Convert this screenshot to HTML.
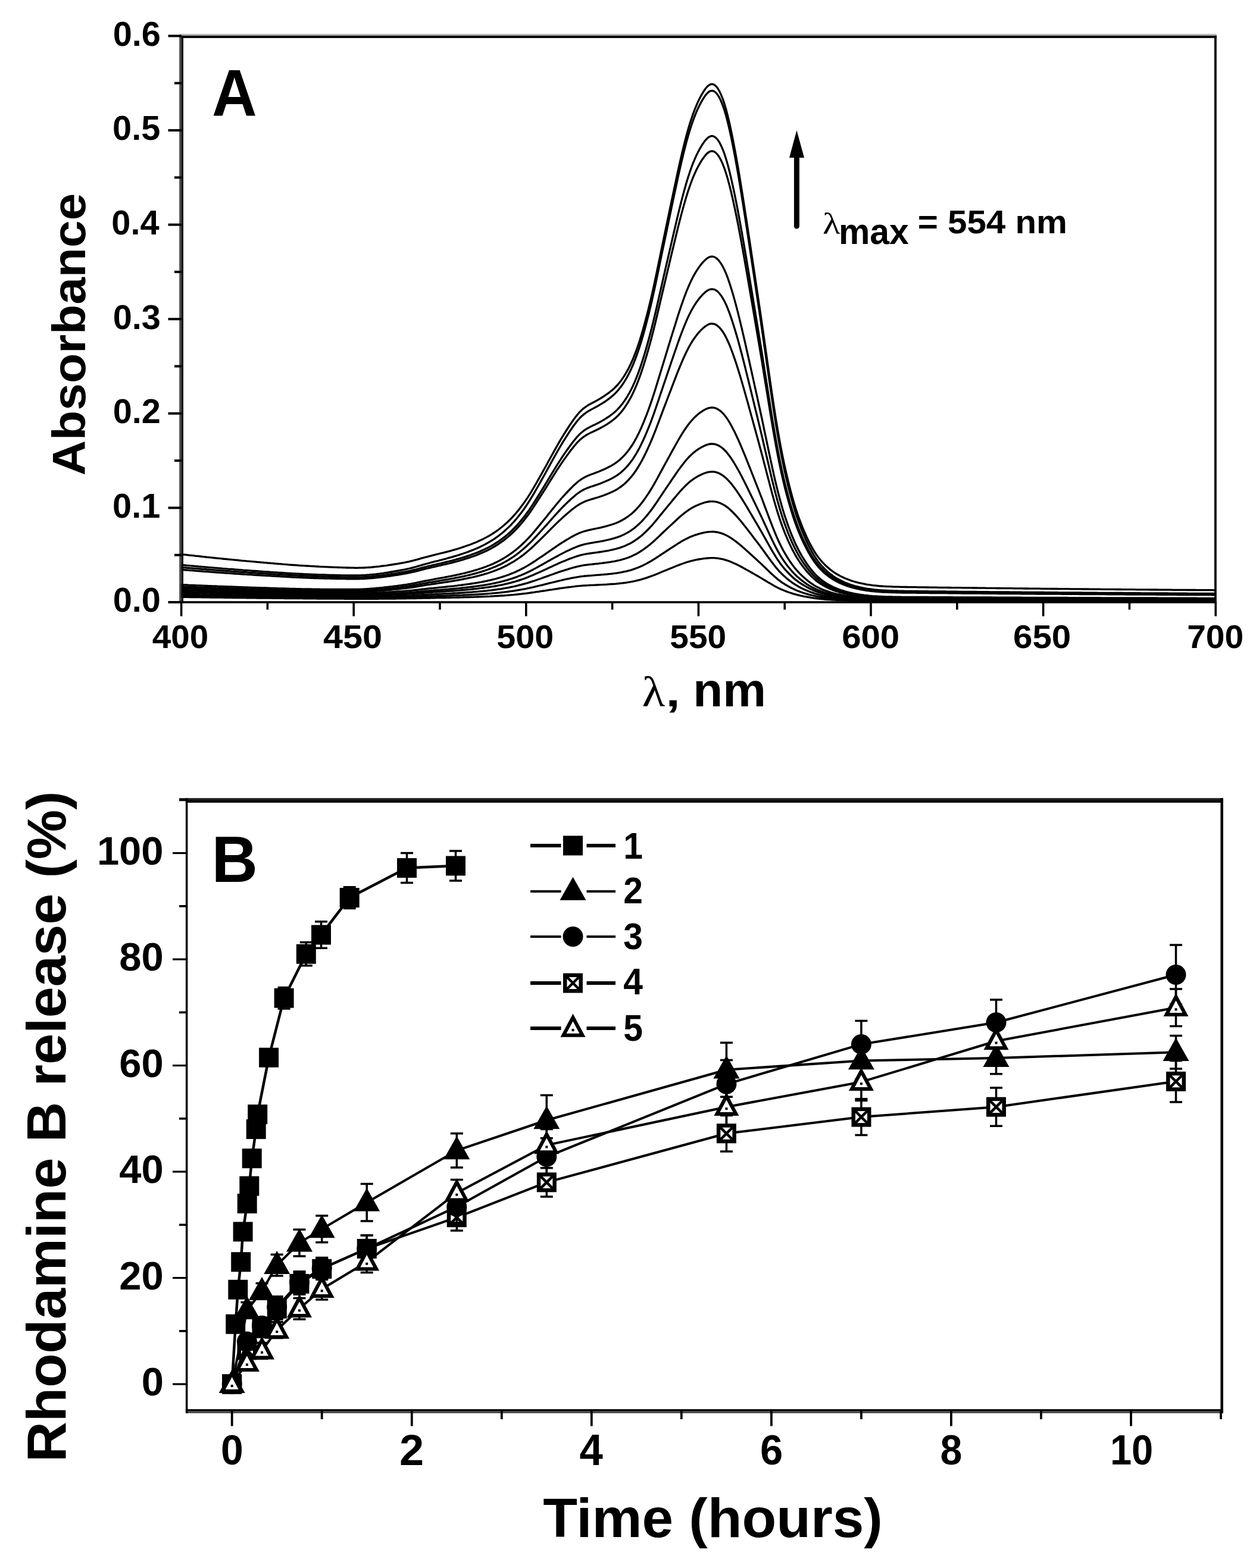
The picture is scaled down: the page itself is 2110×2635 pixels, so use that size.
<!DOCTYPE html>
<html><head><meta charset="utf-8"><title>Rhodamine B absorbance and release</title>
<style>
html,body{margin:0;padding:0;background:#fff;}
svg{display:block;}
text{font-family:"Liberation Sans", Arial, sans-serif;font-weight:bold;fill:#000;}
.fs{font-size:100px;}
.gr{font-family:"Liberation Serif", "Times New Roman", serif;font-weight:normal;font-size:100px;}
</style></head>
<body>
<svg width="2110" height="2635" viewBox="0 0 2110 2635">
<rect width="2110" height="2635" fill="#fff"/>
<rect x="301.2" y="56.9" width="1742.6" height="3.0" fill="#b8b8b8"/>
<rect x="301.2" y="59.9" width="1742.6" height="4.0" fill="#000"/>
<rect x="301.2" y="1010.2" width="1742.6" height="3.6" fill="#000"/>
<rect x="301.2" y="59.9" width="3.6" height="953.9" fill="#474747"/>
<rect x="304.8" y="59.9" width="3.2" height="953.9" fill="#000"/>
<rect x="2040.0" y="59.9" width="3.8" height="953.9" fill="#000"/>
<line x1="282.5" y1="1012.0" x2="304.6" y2="1012.0" stroke="#000" stroke-width="4"/>
<text transform="matrix(0.57727,0,0,0.57746,189.67,1028.42)" class="fs">0.0</text>
<line x1="293" y1="932.7" x2="304.6" y2="932.7" stroke="#000" stroke-width="4"/>
<line x1="282.5" y1="853.4" x2="304.6" y2="853.4" stroke="#000" stroke-width="4"/>
<text transform="matrix(0.57727,0,0,0.57746,189.09,869.82)" class="fs">0.1</text>
<line x1="293" y1="774.1" x2="304.6" y2="774.1" stroke="#000" stroke-width="4"/>
<line x1="282.5" y1="694.8" x2="304.6" y2="694.8" stroke="#000" stroke-width="4"/>
<text transform="matrix(0.57727,0,0,0.57746,189.67,711.22)" class="fs">0.2</text>
<line x1="293" y1="615.5" x2="304.6" y2="615.5" stroke="#000" stroke-width="4"/>
<line x1="282.5" y1="536.2" x2="304.6" y2="536.2" stroke="#000" stroke-width="4"/>
<text transform="matrix(0.57727,0,0,0.57746,189.67,552.62)" class="fs">0.3</text>
<line x1="293" y1="456.9" x2="304.6" y2="456.9" stroke="#000" stroke-width="4"/>
<line x1="282.5" y1="377.6" x2="304.6" y2="377.6" stroke="#000" stroke-width="4"/>
<text transform="matrix(0.57727,0,0,0.57746,187.36,394.02)" class="fs">0.4</text>
<line x1="293" y1="298.3" x2="304.6" y2="298.3" stroke="#000" stroke-width="4"/>
<line x1="282.5" y1="219.0" x2="304.6" y2="219.0" stroke="#000" stroke-width="4"/>
<text transform="matrix(0.57727,0,0,0.57746,189.09,235.42)" class="fs">0.5</text>
<line x1="293" y1="139.7" x2="304.6" y2="139.7" stroke="#000" stroke-width="4"/>
<line x1="282.5" y1="60.4" x2="304.6" y2="60.4" stroke="#000" stroke-width="4"/>
<text transform="matrix(0.57727,0,0,0.57746,189.67,76.82)" class="fs">0.6</text>
<line x1="304.6" y1="1012" x2="304.6" y2="1035.5" stroke="#000" stroke-width="3.6"/>
<text transform="matrix(0.56522,0,0,0.55634,255.87,1088.94)" class="fs">400</text>
<line x1="449.4" y1="1012" x2="449.4" y2="1024.5" stroke="#000" stroke-width="3.6"/>
<line x1="594.2" y1="1012" x2="594.2" y2="1035.5" stroke="#000" stroke-width="3.6"/>
<text transform="matrix(0.59379,0,0,0.55634,543.01,1088.94)" class="fs">450</text>
<line x1="739.0" y1="1012" x2="739.0" y2="1024.5" stroke="#000" stroke-width="3.6"/>
<line x1="883.8" y1="1012" x2="883.8" y2="1035.5" stroke="#000" stroke-width="3.6"/>
<text transform="matrix(0.57437,0,0,0.55634,834.28,1088.94)" class="fs">500</text>
<line x1="1028.6" y1="1012" x2="1028.6" y2="1024.5" stroke="#000" stroke-width="3.6"/>
<line x1="1173.4" y1="1012" x2="1173.4" y2="1035.5" stroke="#000" stroke-width="3.6"/>
<text transform="matrix(0.56875,0,0,0.55634,1125.29,1088.94)" class="fs">550</text>
<line x1="1318.2" y1="1012" x2="1318.2" y2="1024.5" stroke="#000" stroke-width="3.6"/>
<line x1="1463.0" y1="1012" x2="1463.0" y2="1035.5" stroke="#000" stroke-width="3.6"/>
<text transform="matrix(0.58176,0,0,0.55634,1414.17,1088.94)" class="fs">600</text>
<line x1="1607.8" y1="1012" x2="1607.8" y2="1024.5" stroke="#000" stroke-width="3.6"/>
<line x1="1752.6" y1="1012" x2="1752.6" y2="1035.5" stroke="#000" stroke-width="3.6"/>
<text transform="matrix(0.58239,0,0,0.55634,1702.07,1088.94)" class="fs">650</text>
<line x1="1897.4" y1="1012" x2="1897.4" y2="1024.5" stroke="#000" stroke-width="3.6"/>
<line x1="2042.2" y1="1012" x2="2042.2" y2="1035.5" stroke="#000" stroke-width="3.6"/>
<text transform="matrix(0.56918,0,0,0.55634,1994.22,1088.94)" class="fs">700</text>
<polyline points="304.6,931.4 307.5,931.8 310.4,932.1 313.3,932.4 316.2,932.8 319.1,933.1 322.0,933.4 324.9,933.7 327.8,934.1 330.7,934.4 333.6,934.7 336.5,935.0 339.4,935.3 342.2,935.7 345.1,936.0 348.0,936.3 350.9,936.6 353.8,936.9 356.7,937.2 359.6,937.5 362.5,937.8 365.4,938.1 368.3,938.4 371.2,938.7 374.1,939.0 377.0,939.3 379.9,939.5 382.8,939.8 385.7,940.1 388.6,940.4 391.5,940.7 394.4,941.0 397.3,941.2 400.2,941.5 403.1,941.8 406.0,942.1 408.9,942.3 411.8,942.6 414.6,942.9 417.5,943.1 420.4,943.4 423.3,943.7 426.2,943.9 429.1,944.2 432.0,944.5 434.9,944.7 437.8,945.0 440.7,945.2 443.6,945.5 446.5,945.7 449.4,946.0 452.3,946.2 455.2,946.5 458.1,946.7 461.0,947.0 463.9,947.2 466.8,947.5 469.7,947.7 472.6,947.9 475.5,948.2 478.4,948.4 481.3,948.6 484.2,948.9 487.0,949.1 489.9,949.3 492.8,949.5 495.7,949.7 498.6,949.9 501.5,950.1 504.4,950.3 507.3,950.5 510.2,950.7 513.1,950.9 516.0,951.0 518.9,951.2 521.8,951.4 524.7,951.5 527.6,951.7 530.5,951.9 533.4,952.0 536.3,952.2 539.2,952.3 542.1,952.4 545.0,952.6 547.9,952.7 550.8,952.8 553.7,952.9 556.6,953.1 559.4,953.2 562.3,953.3 565.2,953.4 568.1,953.5 571.0,953.6 573.9,953.7 576.8,953.8 579.7,953.9 582.6,954.0 585.5,954.0 588.4,954.1 591.3,954.2 594.2,954.2 597.1,954.3 600.0,954.3 602.9,954.2 605.8,954.2 608.7,954.1 611.6,954.0 614.5,953.9 617.4,953.7 620.3,953.5 623.2,953.3 626.1,953.0 629.0,952.7 631.8,952.4 634.7,952.1 637.6,951.8 640.5,951.4 643.4,951.0 646.3,950.7 649.2,950.3 652.1,949.8 655.0,949.4 657.9,949.0 660.8,948.5 663.7,948.0 666.6,947.6 669.5,947.1 672.4,946.6 675.3,946.1 678.2,945.6 681.1,945.0 684.0,944.4 686.9,943.8 689.8,943.1 692.7,942.4 695.6,941.7 698.5,940.9 701.4,940.1 704.2,939.3 707.1,938.4 710.0,937.6 712.9,936.8 715.8,936.1 718.7,935.3 721.6,934.6 724.5,933.8 727.4,933.1 730.3,932.4 733.2,931.7 736.1,931.0 739.0,930.2 741.9,929.5 744.8,928.8 747.7,928.1 750.6,927.3 753.5,926.6 756.4,925.8 759.3,925.0 762.2,924.2 765.1,923.3 768.0,922.5 770.9,921.6 773.8,920.7 776.6,919.7 779.5,918.8 782.4,917.8 785.3,916.8 788.2,915.7 791.1,914.7 794.0,913.5 796.9,912.4 799.8,911.2 802.7,909.9 805.6,908.6 808.5,907.3 811.4,905.9 814.3,904.4 817.2,902.9 820.1,901.3 823.0,899.6 825.9,897.8 828.8,896.0 831.7,894.1 834.6,892.1 837.5,890.0 840.4,887.8 843.3,885.5 846.2,883.1 849.0,880.6 851.9,878.0 854.8,875.2 857.7,872.3 860.6,869.3 863.5,866.1 866.4,862.8 869.3,859.4 872.2,855.8 875.1,852.0 878.0,848.1 880.9,844.1 883.8,839.9 886.7,835.6 889.6,831.1 892.5,826.4 895.4,821.5 898.3,816.6 901.2,811.5 904.1,806.4 907.0,801.3 909.9,796.1 912.8,790.9 915.7,785.7 918.6,780.5 921.4,775.3 924.3,770.0 927.2,764.8 930.1,759.6 933.0,754.4 935.9,749.2 938.8,744.2 941.7,739.2 944.6,734.4 947.5,729.6 950.4,725.0 953.3,720.5 956.2,716.0 959.1,711.7 962.0,707.5 964.9,703.4 967.8,699.6 970.7,696.0 973.6,692.7 976.5,689.8 979.4,687.1 982.3,684.8 985.2,682.8 988.1,680.9 991.0,679.2 993.8,677.7 996.7,676.2 999.6,674.7 1002.5,673.1 1005.4,671.5 1008.3,669.8 1011.2,668.0 1014.1,666.2 1017.0,664.2 1019.9,662.2 1022.8,660.1 1025.7,657.8 1028.6,655.4 1031.5,652.9 1034.4,650.0 1037.3,647.0 1040.2,643.6 1043.1,639.9 1046.0,635.8 1048.9,631.4 1051.8,626.6 1054.7,621.4 1057.6,615.7 1060.5,609.7 1063.4,603.2 1066.2,596.1 1069.1,588.5 1072.0,580.2 1074.9,571.4 1077.8,562.0 1080.7,552.0 1083.6,541.5 1086.5,530.5 1089.4,519.1 1092.3,507.2 1095.2,494.8 1098.1,481.8 1101.0,468.4 1103.9,454.6 1106.8,440.6 1109.7,426.6 1112.6,412.5 1115.5,398.6 1118.4,384.7 1121.3,370.8 1124.2,357.0 1127.1,343.1 1130.0,329.3 1132.9,315.6 1135.8,302.1 1138.6,288.8 1141.5,275.8 1144.4,263.1 1147.3,250.8 1150.2,239.1 1153.1,228.0 1156.0,217.5 1158.9,207.7 1161.8,198.7 1164.7,190.4 1167.6,182.8 1170.5,175.8 1173.4,169.4 1176.3,163.6 1179.2,158.3 1182.1,153.5 1185.0,149.3 1187.9,145.8 1190.8,143.2 1193.7,141.7 1196.6,141.3 1199.5,142.2 1202.4,144.4 1205.3,147.8 1208.2,152.5 1211.0,158.4 1213.9,165.5 1216.8,173.9 1219.7,183.7 1222.6,194.8 1225.5,207.1 1228.4,220.5 1231.3,234.8 1234.2,250.0 1237.1,265.8 1240.0,282.4 1242.9,299.6 1245.8,317.5 1248.7,335.8 1251.6,354.4 1254.5,373.3 1257.4,392.4 1260.3,411.6 1263.2,430.9 1266.1,450.3 1269.0,469.6 1271.9,489.0 1274.8,508.4 1277.7,527.9 1280.6,547.7 1283.4,567.6 1286.3,587.8 1289.2,608.2 1292.1,628.6 1295.0,648.7 1297.9,668.4 1300.8,687.4 1303.7,705.7 1306.6,723.1 1309.5,739.6 1312.4,755.1 1315.3,769.6 1318.2,783.3 1321.1,796.2 1324.0,808.5 1326.9,820.0 1329.8,830.9 1332.7,841.3 1335.6,850.9 1338.5,860.0 1341.4,868.5 1344.3,876.4 1347.2,883.9 1350.1,890.9 1353.0,897.5 1355.8,903.8 1358.7,909.8 1361.6,915.4 1364.5,920.7 1367.4,925.6 1370.3,930.2 1373.2,934.4 1376.1,938.3 1379.0,941.8 1381.9,945.1 1384.8,948.2 1387.7,951.0 1390.6,953.6 1393.5,956.1 1396.4,958.4 1399.3,960.5 1402.2,962.5 1405.1,964.3 1408.0,966.0 1410.9,967.6 1413.8,969.1 1416.7,970.4 1419.6,971.7 1422.5,972.9 1425.4,974.0 1428.2,975.1 1431.1,976.1 1434.0,977.0 1436.9,977.9 1439.8,978.7 1442.7,979.4 1445.6,980.0 1448.5,980.7 1451.4,981.2 1454.3,981.8 1457.2,982.3 1460.1,982.7 1463.0,983.2 1465.9,983.6 1468.8,983.9 1471.7,984.2 1474.6,984.5 1477.5,984.8 1480.4,985.0 1483.3,985.2 1486.2,985.3 1489.1,985.5 1492.0,985.6 1494.9,985.7 1497.8,985.8 1500.6,986.0 1503.5,986.1 1506.4,986.1 1509.3,986.2 1512.2,986.3 1515.1,986.4 1518.0,986.4 1520.9,986.5 1523.8,986.5 1526.7,986.6 1529.6,986.6 1532.5,986.7 1535.4,986.7 1538.3,986.7 1541.2,986.8 1544.1,986.8 1547.0,986.9 1549.9,986.9 1552.8,986.9 1555.7,987.0 1558.6,987.0 1561.5,987.1 1564.4,987.1 1567.3,987.1 1570.2,987.2 1573.0,987.2 1575.9,987.3 1578.8,987.3 1581.7,987.3 1584.6,987.4 1587.5,987.4 1590.4,987.4 1593.3,987.5 1596.2,987.5 1599.1,987.6 1602.0,987.6 1604.9,987.6 1607.8,987.7 1610.7,987.7 1613.6,987.7 1616.5,987.8 1619.4,987.8 1622.3,987.8 1625.2,987.9 1628.1,987.9 1631.0,987.9 1633.9,988.0 1636.8,988.0 1639.7,988.0 1642.6,988.1 1645.4,988.1 1648.3,988.2 1651.2,988.2 1654.1,988.2 1657.0,988.3 1659.9,988.3 1662.8,988.3 1665.7,988.4 1668.6,988.4 1671.5,988.4 1674.4,988.5 1677.3,988.5 1680.2,988.5 1683.1,988.6 1686.0,988.6 1688.9,988.6 1691.8,988.7 1694.7,988.7 1697.6,988.7 1700.5,988.7 1703.4,988.8 1706.3,988.8 1709.2,988.8 1712.1,988.9 1715.0,988.9 1717.8,988.9 1720.7,989.0 1723.6,989.0 1726.5,989.0 1729.4,989.1 1732.3,989.1 1735.2,989.1 1738.1,989.2 1741.0,989.2 1743.9,989.2 1746.8,989.2 1749.7,989.3 1752.6,989.3 1755.5,989.3 1758.4,989.4 1761.3,989.4 1764.2,989.4 1767.1,989.5 1770.0,989.5 1772.9,989.5 1775.8,989.5 1778.7,989.6 1781.6,989.6 1784.5,989.6 1787.4,989.7 1790.2,989.7 1793.1,989.7 1796.0,989.7 1798.9,989.8 1801.8,989.8 1804.7,989.8 1807.6,989.9 1810.5,989.9 1813.4,989.9 1816.3,989.9 1819.2,990.0 1822.1,990.0 1825.0,990.0 1827.9,990.0 1830.8,990.1 1833.7,990.1 1836.6,990.1 1839.5,990.2 1842.4,990.2 1845.3,990.2 1848.2,990.2 1851.1,990.3 1854.0,990.3 1856.9,990.3 1859.8,990.3 1862.6,990.4 1865.5,990.4 1868.4,990.4 1871.3,990.4 1874.2,990.5 1877.1,990.5 1880.0,990.5 1882.9,990.5 1885.8,990.6 1888.7,990.6 1891.6,990.6 1894.5,990.6 1897.4,990.7 1900.3,990.7 1903.2,990.7 1906.1,990.7 1909.0,990.8 1911.9,990.8 1914.8,990.8 1917.7,990.8 1920.6,990.9 1923.5,990.9 1926.4,990.9 1929.3,990.9 1932.2,991.0 1935.0,991.0 1937.9,991.0 1940.8,991.0 1943.7,991.0 1946.6,991.1 1949.5,991.1 1952.4,991.1 1955.3,991.1 1958.2,991.2 1961.1,991.2 1964.0,991.2 1966.9,991.2 1969.8,991.3 1972.7,991.3 1975.6,991.3 1978.5,991.3 1981.4,991.3 1984.3,991.4 1987.2,991.4 1990.1,991.4 1993.0,991.4 1995.9,991.5 1998.8,991.5 2001.7,991.5 2004.6,991.5 2007.4,991.5 2010.3,991.6 2013.2,991.6 2016.1,991.6 2019.0,991.6 2021.9,991.6 2024.8,991.7 2027.7,991.7 2030.6,991.7 2033.5,991.7 2036.4,991.7 2039.3,991.8 2042.2,991.8" fill="none" stroke="#000" stroke-width="3.3" stroke-linejoin="round"/>
<polyline points="304.6,949.4 307.5,949.6 310.4,949.9 313.3,950.2 316.2,950.4 319.1,950.7 322.0,950.9 324.9,951.2 327.8,951.5 330.7,951.7 333.6,952.0 336.5,952.2 339.4,952.5 342.2,952.7 345.1,953.0 348.0,953.2 350.9,953.5 353.8,953.7 356.7,953.9 359.6,954.2 362.5,954.4 365.4,954.7 368.3,954.9 371.2,955.1 374.1,955.4 377.0,955.6 379.9,955.8 382.8,956.1 385.7,956.3 388.6,956.5 391.5,956.7 394.4,957.0 397.3,957.2 400.2,957.4 403.1,957.6 406.0,957.8 408.9,958.1 411.8,958.3 414.6,958.5 417.5,958.7 420.4,958.9 423.3,959.1 426.2,959.3 429.1,959.5 432.0,959.7 434.9,960.0 437.8,960.2 440.7,960.4 443.6,960.6 446.5,960.8 449.4,961.0 452.3,961.2 455.2,961.4 458.1,961.6 461.0,961.8 463.9,961.9 466.8,962.1 469.7,962.3 472.6,962.5 475.5,962.7 478.4,962.9 481.3,963.1 484.2,963.3 487.0,963.4 489.9,963.6 492.8,963.8 495.7,963.9 498.6,964.1 501.5,964.2 504.4,964.4 507.3,964.5 510.2,964.7 513.1,964.8 516.0,964.9 518.9,965.1 521.8,965.2 524.7,965.3 527.6,965.4 530.5,965.5 533.4,965.7 536.3,965.8 539.2,965.9 542.1,965.9 545.0,966.0 547.9,966.1 550.8,966.2 553.7,966.3 556.6,966.4 559.4,966.4 562.3,966.5 565.2,966.6 568.1,966.7 571.0,966.7 573.9,966.8 576.8,966.8 579.7,966.9 582.6,966.9 585.5,967.0 588.4,967.0 591.3,967.0 594.2,967.0 597.1,967.0 600.0,967.0 602.9,966.9 605.8,966.8 608.7,966.7 611.6,966.6 614.5,966.4 617.4,966.2 620.3,966.0 623.2,965.7 626.1,965.4 629.0,965.1 631.8,964.8 634.7,964.4 637.6,964.1 640.5,963.7 643.4,963.3 646.3,962.8 649.2,962.4 652.1,962.0 655.0,961.5 657.9,961.0 660.8,960.5 663.7,960.0 666.6,959.5 669.5,959.0 672.4,958.5 675.3,958.0 678.2,957.4 681.1,956.8 684.0,956.2 686.9,955.5 689.8,954.9 692.7,954.1 695.6,953.3 698.5,952.5 701.4,951.7 704.2,950.9 707.1,950.0 710.0,949.2 712.9,948.4 715.8,947.5 718.7,946.8 721.6,946.0 724.5,945.2 727.4,944.5 730.3,943.7 733.2,943.0 736.1,942.3 739.0,941.5 741.9,940.8 744.8,940.0 747.7,939.3 750.6,938.5 753.5,937.7 756.4,936.9 759.3,936.1 762.2,935.2 765.1,934.4 768.0,933.5 770.9,932.6 773.8,931.6 776.6,930.7 779.5,929.7 782.4,928.7 785.3,927.7 788.2,926.6 791.1,925.5 794.0,924.4 796.9,923.2 799.8,922.0 802.7,920.7 805.6,919.4 808.5,918.0 811.4,916.6 814.3,915.1 817.2,913.5 820.1,911.9 823.0,910.2 825.9,908.4 828.8,906.6 831.7,904.7 834.6,902.6 837.5,900.5 840.4,898.3 843.3,896.0 846.2,893.6 849.0,891.1 851.9,888.4 854.8,885.7 857.7,882.8 860.6,879.7 863.5,876.6 866.4,873.2 869.3,869.8 872.2,866.1 875.1,862.4 878.0,858.5 880.9,854.5 883.8,850.3 886.7,845.9 889.6,841.4 892.5,836.7 895.4,831.9 898.3,826.9 901.2,821.8 904.1,816.7 907.0,811.6 909.9,806.4 912.8,801.2 915.7,796.1 918.6,790.8 921.4,785.6 924.3,780.4 927.2,775.1 930.1,769.9 933.0,764.7 935.9,759.5 938.8,754.5 941.7,749.5 944.6,744.7 947.5,739.9 950.4,735.3 953.3,730.8 956.2,726.3 959.1,722.0 962.0,717.8 964.9,713.7 967.8,709.9 970.7,706.3 973.6,703.0 976.5,700.0 979.4,697.4 982.3,695.1 985.2,693.0 988.1,691.1 991.0,689.5 993.8,687.9 996.7,686.4 999.6,684.8 1002.5,683.3 1005.4,681.6 1008.3,679.9 1011.2,678.2 1014.1,676.3 1017.0,674.3 1019.9,672.3 1022.8,670.2 1025.7,667.9 1028.6,665.5 1031.5,662.9 1034.4,660.1 1037.3,657.0 1040.2,653.6 1043.1,649.9 1046.0,645.8 1048.9,641.4 1051.8,636.6 1054.7,631.4 1057.6,625.8 1060.5,619.7 1063.4,613.2 1066.2,606.2 1069.1,598.5 1072.0,590.3 1074.9,581.5 1077.8,572.1 1080.7,562.2 1083.6,551.7 1086.5,540.7 1089.4,529.3 1092.3,517.4 1095.2,505.1 1098.1,492.2 1101.0,478.8 1103.9,465.0 1106.8,451.1 1109.7,437.0 1112.6,423.0 1115.5,409.1 1118.4,395.3 1121.3,381.5 1124.2,367.6 1127.1,353.8 1130.0,340.0 1132.9,326.4 1135.8,312.9 1138.6,299.6 1141.5,286.6 1144.4,274.0 1147.3,261.8 1150.2,250.1 1153.1,238.9 1156.0,228.5 1158.9,218.8 1161.8,209.7 1164.7,201.5 1167.6,193.8 1170.5,186.9 1173.4,180.5 1176.3,174.7 1179.2,169.4 1182.1,164.6 1185.0,160.4 1187.9,157.0 1190.8,154.3 1193.7,152.8 1196.6,152.4 1199.5,153.3 1202.4,155.5 1205.3,158.9 1208.2,163.5 1211.0,169.3 1213.9,176.4 1216.8,184.8 1219.7,194.5 1222.6,205.6 1225.5,217.9 1228.4,231.2 1231.3,245.4 1234.2,260.5 1237.1,276.3 1240.0,292.8 1242.9,310.0 1245.8,327.7 1248.7,345.9 1251.6,364.5 1254.5,383.3 1257.4,402.3 1260.3,421.5 1263.2,440.7 1266.1,459.9 1269.0,479.2 1271.9,498.5 1274.8,517.8 1277.7,537.3 1280.6,556.9 1283.4,576.8 1286.3,596.9 1289.2,617.2 1292.1,637.4 1295.0,657.5 1297.9,677.1 1300.8,696.1 1303.7,714.3 1306.6,731.6 1309.5,748.0 1312.4,763.4 1315.3,777.9 1318.2,791.6 1321.1,804.4 1324.0,816.6 1326.9,828.1 1329.8,838.9 1332.7,849.2 1335.6,858.8 1338.5,867.9 1341.4,876.3 1344.3,884.2 1347.2,891.6 1350.1,898.6 1353.0,905.2 1355.8,911.5 1358.7,917.4 1361.6,923.0 1364.5,928.2 1367.4,933.1 1370.3,937.7 1373.2,941.9 1376.1,945.7 1379.0,949.3 1381.9,952.5 1384.8,955.5 1387.7,958.3 1390.6,961.0 1393.5,963.4 1396.4,965.7 1399.3,967.8 1402.2,969.8 1405.1,971.6 1408.0,973.3 1410.9,974.8 1413.8,976.2 1416.7,977.6 1419.6,978.9 1422.5,980.1 1425.4,981.2 1428.2,982.2 1431.1,983.2 1434.0,984.1 1436.9,985.0 1439.8,985.7 1442.7,986.4 1445.6,987.1 1448.5,987.7 1451.4,988.3 1454.3,988.8 1457.2,989.3 1460.1,989.7 1463.0,990.1 1465.9,990.5 1468.8,990.9 1471.7,991.2 1474.6,991.5 1477.5,991.7 1480.4,991.9 1483.3,992.1 1486.2,992.2 1489.1,992.4 1492.0,992.5 1494.9,992.6 1497.8,992.7 1500.6,992.8 1503.5,992.9 1506.4,993.0 1509.3,993.1 1512.2,993.1 1515.1,993.2 1518.0,993.2 1520.9,993.3 1523.8,993.3 1526.7,993.4 1529.6,993.4 1532.5,993.4 1535.4,993.5 1538.3,993.5 1541.2,993.5 1544.1,993.6 1547.0,993.6 1549.9,993.6 1552.8,993.7 1555.7,993.7 1558.6,993.7 1561.5,993.8 1564.4,993.8 1567.3,993.8 1570.2,993.8 1573.0,993.9 1575.9,993.9 1578.8,993.9 1581.7,994.0 1584.6,994.0 1587.5,994.0 1590.4,994.1 1593.3,994.1 1596.2,994.1 1599.1,994.1 1602.0,994.2 1604.9,994.2 1607.8,994.2 1610.7,994.3 1613.6,994.3 1616.5,994.3 1619.4,994.3 1622.3,994.4 1625.2,994.4 1628.1,994.4 1631.0,994.5 1633.9,994.5 1636.8,994.5 1639.7,994.5 1642.6,994.6 1645.4,994.6 1648.3,994.6 1651.2,994.7 1654.1,994.7 1657.0,994.7 1659.9,994.7 1662.8,994.8 1665.7,994.8 1668.6,994.8 1671.5,994.8 1674.4,994.9 1677.3,994.9 1680.2,994.9 1683.1,994.9 1686.0,995.0 1688.9,995.0 1691.8,995.0 1694.7,995.0 1697.6,995.1 1700.5,995.1 1703.4,995.1 1706.3,995.2 1709.2,995.2 1712.1,995.2 1715.0,995.2 1717.8,995.3 1720.7,995.3 1723.6,995.3 1726.5,995.3 1729.4,995.4 1732.3,995.4 1735.2,995.4 1738.1,995.4 1741.0,995.4 1743.9,995.5 1746.8,995.5 1749.7,995.5 1752.6,995.5 1755.5,995.6 1758.4,995.6 1761.3,995.6 1764.2,995.6 1767.1,995.7 1770.0,995.7 1772.9,995.7 1775.8,995.7 1778.7,995.8 1781.6,995.8 1784.5,995.8 1787.4,995.8 1790.2,995.8 1793.1,995.9 1796.0,995.9 1798.9,995.9 1801.8,995.9 1804.7,996.0 1807.6,996.0 1810.5,996.0 1813.4,996.0 1816.3,996.0 1819.2,996.1 1822.1,996.1 1825.0,996.1 1827.9,996.1 1830.8,996.2 1833.7,996.2 1836.6,996.2 1839.5,996.2 1842.4,996.2 1845.3,996.3 1848.2,996.3 1851.1,996.3 1854.0,996.3 1856.9,996.3 1859.8,996.4 1862.6,996.4 1865.5,996.4 1868.4,996.4 1871.3,996.4 1874.2,996.5 1877.1,996.5 1880.0,996.5 1882.9,996.5 1885.8,996.5 1888.7,996.6 1891.6,996.6 1894.5,996.6 1897.4,996.6 1900.3,996.6 1903.2,996.7 1906.1,996.7 1909.0,996.7 1911.9,996.7 1914.8,996.7 1917.7,996.8 1920.6,996.8 1923.5,996.8 1926.4,996.8 1929.3,996.8 1932.2,996.9 1935.0,996.9 1937.9,996.9 1940.8,996.9 1943.7,996.9 1946.6,997.0 1949.5,997.0 1952.4,997.0 1955.3,997.0 1958.2,997.0 1961.1,997.0 1964.0,997.1 1966.9,997.1 1969.8,997.1 1972.7,997.1 1975.6,997.1 1978.5,997.2 1981.4,997.2 1984.3,997.2 1987.2,997.2 1990.1,997.2 1993.0,997.2 1995.9,997.3 1998.8,997.3 2001.7,997.3 2004.6,997.3 2007.4,997.3 2010.3,997.3 2013.2,997.4 2016.1,997.4 2019.0,997.4 2021.9,997.4 2024.8,997.4 2027.7,997.4 2030.6,997.5 2033.5,997.5 2036.4,997.5 2039.3,997.5 2042.2,997.5" fill="none" stroke="#000" stroke-width="3.3" stroke-linejoin="round"/>
<polyline points="304.6,953.3 307.5,953.6 310.4,953.8 313.3,954.1 316.2,954.3 319.1,954.6 322.0,954.8 324.9,955.1 327.8,955.3 330.7,955.5 333.6,955.8 336.5,956.0 339.4,956.3 342.2,956.5 345.1,956.7 348.0,957.0 350.9,957.2 353.8,957.4 356.7,957.6 359.6,957.9 362.5,958.1 365.4,958.3 368.3,958.5 371.2,958.8 374.1,959.0 377.0,959.2 379.9,959.4 382.8,959.6 385.7,959.8 388.6,960.1 391.5,960.3 394.4,960.5 397.3,960.7 400.2,960.9 403.1,961.1 406.0,961.3 408.9,961.5 411.8,961.7 414.6,961.9 417.5,962.1 420.4,962.3 423.3,962.5 426.2,962.7 429.1,962.9 432.0,963.1 434.9,963.3 437.8,963.5 440.7,963.7 443.6,963.9 446.5,964.1 449.4,964.2 452.3,964.4 455.2,964.6 458.1,964.8 461.0,965.0 463.9,965.2 466.8,965.4 469.7,965.5 472.6,965.7 475.5,965.9 478.4,966.1 481.3,966.2 484.2,966.4 487.0,966.6 489.9,966.7 492.8,966.9 495.7,967.0 498.6,967.2 501.5,967.3 504.4,967.5 507.3,967.6 510.2,967.7 513.1,967.9 516.0,968.0 518.9,968.1 521.8,968.2 524.7,968.4 527.6,968.5 530.5,968.6 533.4,968.7 536.3,968.8 539.2,968.9 542.1,969.0 545.0,969.1 547.9,969.1 550.8,969.2 553.7,969.3 556.6,969.4 559.4,969.4 562.3,969.5 565.2,969.6 568.1,969.6 571.0,969.7 573.9,969.8 576.8,969.8 579.7,969.9 582.6,969.9 585.5,970.0 588.4,970.0 591.3,970.0 594.2,970.0 597.1,970.0 600.0,970.0 602.9,970.0 605.8,969.9 608.7,969.8 611.6,969.7 614.5,969.5 617.4,969.3 620.3,969.1 623.2,968.9 626.1,968.6 629.0,968.3 631.8,968.0 634.7,967.7 637.6,967.4 640.5,967.0 643.4,966.7 646.3,966.3 649.2,965.9 652.1,965.5 655.0,965.1 657.9,964.6 660.8,964.2 663.7,963.8 666.6,963.3 669.5,962.8 672.4,962.4 675.3,961.9 678.2,961.4 681.1,960.9 684.0,960.3 686.9,959.7 689.8,959.1 692.7,958.4 695.6,957.7 698.5,957.0 701.4,956.2 704.2,955.5 707.1,954.7 710.0,953.9 712.9,953.2 715.8,952.5 718.7,951.7 721.6,951.0 724.5,950.4 727.4,949.7 730.3,949.0 733.2,948.3 736.1,947.7 739.0,947.0 741.9,946.3 744.8,945.6 747.7,944.9 750.6,944.2 753.5,943.5 756.4,942.8 759.3,942.1 762.2,941.3 765.1,940.5 768.0,939.7 770.9,938.9 773.8,938.0 776.6,937.2 779.5,936.3 782.4,935.4 785.3,934.4 788.2,933.5 791.1,932.5 794.0,931.4 796.9,930.3 799.8,929.2 802.7,928.1 805.6,926.9 808.5,925.6 811.4,924.3 814.3,923.0 817.2,921.6 820.1,920.1 823.0,918.6 825.9,917.0 828.8,915.3 831.7,913.5 834.6,911.7 837.5,909.8 840.4,907.7 843.3,905.6 846.2,903.4 849.0,901.2 851.9,898.8 854.8,896.2 857.7,893.6 860.6,890.8 863.5,888.0 866.4,884.9 869.3,881.8 872.2,878.5 875.1,875.1 878.0,871.5 880.9,867.9 883.8,864.0 886.7,860.1 889.6,856.0 892.5,851.7 895.4,847.3 898.3,842.7 901.2,838.1 904.1,833.5 907.0,828.8 909.9,824.1 912.8,819.4 915.7,814.7 918.6,809.9 921.4,805.2 924.3,800.4 927.2,795.6 930.1,790.8 933.0,786.1 935.9,781.4 938.8,776.8 941.7,772.3 944.6,767.9 947.5,763.6 950.4,759.4 953.3,755.2 956.2,751.2 959.1,747.2 962.0,743.4 964.9,739.7 967.8,736.2 970.7,732.9 973.6,729.9 976.5,727.2 979.4,724.8 982.3,722.7 985.2,720.8 988.1,719.2 991.0,717.6 993.8,716.2 996.7,714.8 999.6,713.4 1002.5,712.0 1005.4,710.5 1008.3,709.0 1011.2,707.3 1014.1,705.6 1017.0,703.9 1019.9,702.0 1022.8,700.1 1025.7,698.0 1028.6,695.8 1031.5,693.5 1034.4,690.9 1037.3,688.1 1040.2,685.0 1043.1,681.6 1046.0,677.9 1048.9,673.9 1051.8,669.5 1054.7,664.8 1057.6,659.7 1060.5,654.2 1063.4,648.2 1066.2,641.8 1069.1,634.9 1072.0,627.4 1074.9,619.4 1077.8,610.8 1080.7,601.7 1083.6,592.2 1086.5,582.2 1089.4,571.8 1092.3,561.0 1095.2,549.7 1098.1,538.0 1101.0,525.8 1103.9,513.3 1106.8,500.5 1109.7,487.8 1112.6,475.0 1115.5,462.4 1118.4,449.7 1121.3,437.1 1124.2,424.5 1127.1,412.0 1130.0,399.4 1132.9,387.0 1135.8,374.7 1138.6,362.6 1141.5,350.8 1144.4,339.2 1147.3,328.1 1150.2,317.5 1153.1,307.3 1156.0,297.8 1158.9,289.0 1161.8,280.7 1164.7,273.2 1167.6,266.3 1170.5,259.9 1173.4,254.1 1176.3,248.8 1179.2,244.0 1182.1,239.6 1185.0,235.8 1187.9,232.7 1190.8,230.3 1193.7,228.9 1196.6,228.5 1199.5,229.3 1202.4,231.3 1205.3,234.4 1208.2,238.6 1211.0,244.0 1213.9,250.4 1216.8,258.0 1219.7,266.9 1222.6,277.0 1225.5,288.2 1228.4,300.3 1231.3,313.3 1234.2,327.0 1237.1,341.4 1240.0,356.4 1242.9,372.1 1245.8,388.2 1248.7,404.8 1251.6,421.8 1254.5,438.9 1257.4,456.2 1260.3,473.7 1263.2,491.2 1266.1,508.7 1269.0,526.3 1271.9,543.8 1274.8,561.4 1277.7,579.2 1280.6,597.0 1283.4,615.2 1286.3,633.5 1289.2,652.0 1292.1,670.4 1295.0,688.7 1297.9,706.6 1300.8,723.8 1303.7,740.4 1306.6,756.2 1309.5,771.1 1312.4,785.2 1315.3,798.4 1318.2,810.8 1321.1,822.5 1324.0,833.6 1326.9,844.1 1329.8,854.0 1332.7,863.3 1335.6,872.1 1338.5,880.4 1341.4,888.0 1344.3,895.2 1347.2,902.0 1350.1,908.3 1353.0,914.4 1355.8,920.1 1358.7,925.5 1361.6,930.6 1364.5,935.3 1367.4,939.8 1370.3,944.0 1373.2,947.8 1376.1,951.3 1379.0,954.5 1381.9,957.5 1384.8,960.2 1387.7,962.8 1390.6,965.2 1393.5,967.4 1396.4,969.5 1399.3,971.4 1402.2,973.2 1405.1,974.8 1408.0,976.4 1410.9,977.8 1413.8,979.1 1416.7,980.3 1419.6,981.5 1422.5,982.6 1425.4,983.6 1428.2,984.6 1431.1,985.5 1434.0,986.3 1436.9,987.1 1439.8,987.8 1442.7,988.4 1445.6,989.0 1448.5,989.6 1451.4,990.1 1454.3,990.5 1457.2,991.0 1460.1,991.4 1463.0,991.8 1465.9,992.1 1468.8,992.5 1471.7,992.7 1474.6,993.0 1477.5,993.2 1480.4,993.4 1483.3,993.6 1486.2,993.7 1489.1,993.8 1492.0,993.9 1494.9,994.0 1497.8,994.1 1500.6,994.2 1503.5,994.3 1506.4,994.4 1509.3,994.5 1512.2,994.5 1515.1,994.6 1518.0,994.6 1520.9,994.7 1523.8,994.7 1526.7,994.7 1529.6,994.8 1532.5,994.8 1535.4,994.8 1538.3,994.9 1541.2,994.9 1544.1,994.9 1547.0,995.0 1549.9,995.0 1552.8,995.0 1555.7,995.0 1558.6,995.1 1561.5,995.1 1564.4,995.1 1567.3,995.2 1570.2,995.2 1573.0,995.2 1575.9,995.2 1578.8,995.3 1581.7,995.3 1584.6,995.3 1587.5,995.4 1590.4,995.4 1593.3,995.4 1596.2,995.4 1599.1,995.5 1602.0,995.5 1604.9,995.5 1607.8,995.6 1610.7,995.6 1613.6,995.6 1616.5,995.6 1619.4,995.7 1622.3,995.7 1625.2,995.7 1628.1,995.7 1631.0,995.8 1633.9,995.8 1636.8,995.8 1639.7,995.8 1642.6,995.9 1645.4,995.9 1648.3,995.9 1651.2,996.0 1654.1,996.0 1657.0,996.0 1659.9,996.0 1662.8,996.1 1665.7,996.1 1668.6,996.1 1671.5,996.1 1674.4,996.2 1677.3,996.2 1680.2,996.2 1683.1,996.2 1686.0,996.3 1688.9,996.3 1691.8,996.3 1694.7,996.3 1697.6,996.4 1700.5,996.4 1703.4,996.4 1706.3,996.4 1709.2,996.4 1712.1,996.5 1715.0,996.5 1717.8,996.5 1720.7,996.5 1723.6,996.6 1726.5,996.6 1729.4,996.6 1732.3,996.6 1735.2,996.7 1738.1,996.7 1741.0,996.7 1743.9,996.7 1746.8,996.7 1749.7,996.8 1752.6,996.8 1755.5,996.8 1758.4,996.8 1761.3,996.9 1764.2,996.9 1767.1,996.9 1770.0,996.9 1772.9,996.9 1775.8,997.0 1778.7,997.0 1781.6,997.0 1784.5,997.0 1787.4,997.1 1790.2,997.1 1793.1,997.1 1796.0,997.1 1798.9,997.1 1801.8,997.2 1804.7,997.2 1807.6,997.2 1810.5,997.2 1813.4,997.2 1816.3,997.3 1819.2,997.3 1822.1,997.3 1825.0,997.3 1827.9,997.3 1830.8,997.4 1833.7,997.4 1836.6,997.4 1839.5,997.4 1842.4,997.4 1845.3,997.5 1848.2,997.5 1851.1,997.5 1854.0,997.5 1856.9,997.5 1859.8,997.6 1862.6,997.6 1865.5,997.6 1868.4,997.6 1871.3,997.6 1874.2,997.7 1877.1,997.7 1880.0,997.7 1882.9,997.7 1885.8,997.7 1888.7,997.8 1891.6,997.8 1894.5,997.8 1897.4,997.8 1900.3,997.8 1903.2,997.8 1906.1,997.9 1909.0,997.9 1911.9,997.9 1914.8,997.9 1917.7,997.9 1920.6,998.0 1923.5,998.0 1926.4,998.0 1929.3,998.0 1932.2,998.0 1935.0,998.0 1937.9,998.1 1940.8,998.1 1943.7,998.1 1946.6,998.1 1949.5,998.1 1952.4,998.2 1955.3,998.2 1958.2,998.2 1961.1,998.2 1964.0,998.2 1966.9,998.2 1969.8,998.3 1972.7,998.3 1975.6,998.3 1978.5,998.3 1981.4,998.3 1984.3,998.3 1987.2,998.4 1990.1,998.4 1993.0,998.4 1995.9,998.4 1998.8,998.4 2001.7,998.4 2004.6,998.5 2007.4,998.5 2010.3,998.5 2013.2,998.5 2016.1,998.5 2019.0,998.5 2021.9,998.5 2024.8,998.6 2027.7,998.6 2030.6,998.6 2033.5,998.6 2036.4,998.6 2039.3,998.6 2042.2,998.7" fill="none" stroke="#000" stroke-width="3.3" stroke-linejoin="round"/>
<polyline points="304.6,957.3 307.5,957.5 310.4,957.8 313.3,958.0 316.2,958.2 319.1,958.5 322.0,958.7 324.9,958.9 327.8,959.1 330.7,959.4 333.6,959.6 336.5,959.8 339.4,960.0 342.2,960.3 345.1,960.5 348.0,960.7 350.9,960.9 353.8,961.1 356.7,961.3 359.6,961.5 362.5,961.8 365.4,962.0 368.3,962.2 371.2,962.4 374.1,962.6 377.0,962.8 379.9,963.0 382.8,963.2 385.7,963.4 388.6,963.6 391.5,963.8 394.4,964.0 397.3,964.2 400.2,964.4 403.1,964.6 406.0,964.8 408.9,965.0 411.8,965.2 414.6,965.3 417.5,965.5 420.4,965.7 423.3,965.9 426.2,966.1 429.1,966.3 432.0,966.5 434.9,966.6 437.8,966.8 440.7,967.0 443.6,967.2 446.5,967.4 449.4,967.5 452.3,967.7 455.2,967.9 458.1,968.1 461.0,968.2 463.9,968.4 466.8,968.6 469.7,968.7 472.6,968.9 475.5,969.1 478.4,969.2 481.3,969.4 484.2,969.5 487.0,969.7 489.9,969.9 492.8,970.0 495.7,970.1 498.6,970.3 501.5,970.4 504.4,970.6 507.3,970.7 510.2,970.8 513.1,970.9 516.0,971.0 518.9,971.2 521.8,971.3 524.7,971.4 527.6,971.5 530.5,971.6 533.4,971.7 536.3,971.8 539.2,971.8 542.1,971.9 545.0,972.0 547.9,972.1 550.8,972.2 553.7,972.2 556.6,972.3 559.4,972.4 562.3,972.4 565.2,972.5 568.1,972.5 571.0,972.6 573.9,972.7 576.8,972.7 579.7,972.7 582.6,972.8 585.5,972.8 588.4,972.9 591.3,972.9 594.2,972.9 597.1,972.9 600.0,972.8 602.9,972.8 605.8,972.7 608.7,972.6 611.6,972.5 614.5,972.3 617.4,972.1 620.3,971.9 623.2,971.7 626.1,971.5 629.0,971.2 631.8,970.9 634.7,970.6 637.6,970.3 640.5,969.9 643.4,969.6 646.3,969.2 649.2,968.8 652.1,968.4 655.0,968.0 657.9,967.6 660.8,967.1 663.7,966.7 666.6,966.3 669.5,965.8 672.4,965.3 675.3,964.9 678.2,964.4 681.1,963.9 684.0,963.3 686.9,962.7 689.8,962.1 692.7,961.5 695.6,960.8 698.5,960.1 701.4,959.3 704.2,958.6 707.1,957.9 710.0,957.1 712.9,956.4 715.8,955.7 718.7,955.0 721.6,954.3 724.5,953.6 727.4,953.0 730.3,952.3 733.2,951.7 736.1,951.0 739.0,950.4 741.9,949.7 744.8,949.0 747.7,948.4 750.6,947.7 753.5,947.0 756.4,946.3 759.3,945.6 762.2,944.8 765.1,944.0 768.0,943.3 770.9,942.5 773.8,941.6 776.6,940.8 779.5,939.9 782.4,939.0 785.3,938.1 788.2,937.2 791.1,936.2 794.0,935.2 796.9,934.2 799.8,933.1 802.7,932.0 805.6,930.8 808.5,929.6 811.4,928.3 814.3,927.0 817.2,925.7 820.1,924.2 823.0,922.7 825.9,921.2 828.8,919.5 831.7,917.8 834.6,916.0 837.5,914.2 840.4,912.2 843.3,910.2 846.2,908.1 849.0,905.8 851.9,903.5 854.8,901.1 857.7,898.5 860.6,895.8 863.5,893.0 866.4,890.1 869.3,887.0 872.2,883.8 875.1,880.5 878.0,877.1 880.9,873.5 883.8,869.8 886.7,866.0 889.6,862.0 892.5,857.9 895.4,853.6 898.3,849.2 901.2,844.7 904.1,840.2 907.0,835.7 909.9,831.1 912.8,826.6 915.7,822.0 918.6,817.4 921.4,812.8 924.3,808.1 927.2,803.5 930.1,798.9 933.0,794.3 935.9,789.7 938.8,785.3 941.7,780.9 944.6,776.6 947.5,772.4 950.4,768.4 953.3,764.4 956.2,760.4 959.1,756.6 962.0,752.9 964.9,749.3 967.8,745.9 970.7,742.7 973.6,739.8 976.5,737.2 979.4,734.9 982.3,732.8 985.2,731.0 988.1,729.4 991.0,727.9 993.8,726.5 996.7,725.2 999.6,723.8 1002.5,722.4 1005.4,721.0 1008.3,719.5 1011.2,717.9 1014.1,716.3 1017.0,714.6 1019.9,712.8 1022.8,710.9 1025.7,708.9 1028.6,706.8 1031.5,704.5 1034.4,702.0 1037.3,699.3 1040.2,696.3 1043.1,693.0 1046.0,689.4 1048.9,685.5 1051.8,681.2 1054.7,676.7 1057.6,671.7 1060.5,666.4 1063.4,660.6 1066.2,654.4 1069.1,647.7 1072.0,640.4 1074.9,632.6 1077.8,624.4 1080.7,615.6 1083.6,606.3 1086.5,596.6 1089.4,586.6 1092.3,576.1 1095.2,565.1 1098.1,553.8 1101.0,542.0 1103.9,529.8 1106.8,517.5 1109.7,505.1 1112.6,492.8 1115.5,480.5 1118.4,468.3 1121.3,456.1 1124.2,443.9 1127.1,431.7 1130.0,419.5 1132.9,407.4 1135.8,395.5 1138.6,383.8 1141.5,372.4 1144.4,361.2 1147.3,350.4 1150.2,340.1 1153.1,330.3 1156.0,321.1 1158.9,312.5 1161.8,304.5 1164.7,297.2 1167.6,290.5 1170.5,284.3 1173.4,278.7 1176.3,273.6 1179.2,268.9 1182.1,264.7 1185.0,261.0 1187.9,257.9 1190.8,255.6 1193.7,254.2 1196.6,253.9 1199.5,254.7 1202.4,256.6 1205.3,259.6 1208.2,263.7 1211.0,268.8 1213.9,275.1 1216.8,282.5 1219.7,291.1 1222.6,300.8 1225.5,311.7 1228.4,323.4 1231.3,336.0 1234.2,349.3 1237.1,363.2 1240.0,377.8 1242.9,393.0 1245.8,408.6 1248.7,424.7 1251.6,441.1 1254.5,457.7 1257.4,474.5 1260.3,491.4 1263.2,508.3 1266.1,525.3 1269.0,542.3 1271.9,559.4 1274.8,576.4 1277.7,593.6 1280.6,610.9 1283.4,628.4 1286.3,646.2 1289.2,664.1 1292.1,682.0 1295.0,699.7 1297.9,717.0 1300.8,733.7 1303.7,749.8 1306.6,765.1 1309.5,779.6 1312.4,793.2 1315.3,806.0 1318.2,818.0 1321.1,829.3 1324.0,840.1 1326.9,850.2 1329.8,859.8 1332.7,868.9 1335.6,877.4 1338.5,885.4 1341.4,892.8 1344.3,899.8 1347.2,906.3 1350.1,912.5 1353.0,918.3 1355.8,923.8 1358.7,929.1 1361.6,934.0 1364.5,938.6 1367.4,943.0 1370.3,947.0 1373.2,950.7 1376.1,954.1 1379.0,957.2 1381.9,960.1 1384.8,962.7 1387.7,965.2 1390.6,967.5 1393.5,969.7 1396.4,971.7 1399.3,973.6 1402.2,975.3 1405.1,976.9 1408.0,978.4 1410.9,979.7 1413.8,981.0 1416.7,982.2 1419.6,983.3 1422.5,984.4 1425.4,985.4 1428.2,986.3 1431.1,987.2 1434.0,988.0 1436.9,988.7 1439.8,989.4 1442.7,990.0 1445.6,990.6 1448.5,991.1 1451.4,991.6 1454.3,992.1 1457.2,992.5 1460.1,992.9 1463.0,993.3 1465.9,993.6 1468.8,993.9 1471.7,994.2 1474.6,994.4 1477.5,994.7 1480.4,994.8 1483.3,995.0 1486.2,995.1 1489.1,995.2 1492.0,995.3 1494.9,995.4 1497.8,995.5 1500.6,995.6 1503.5,995.7 1506.4,995.8 1509.3,995.9 1512.2,995.9 1515.1,996.0 1518.0,996.0 1520.9,996.1 1523.8,996.1 1526.7,996.1 1529.6,996.2 1532.5,996.2 1535.4,996.2 1538.3,996.2 1541.2,996.3 1544.1,996.3 1547.0,996.3 1549.9,996.3 1552.8,996.4 1555.7,996.4 1558.6,996.4 1561.5,996.5 1564.4,996.5 1567.3,996.5 1570.2,996.5 1573.0,996.6 1575.9,996.6 1578.8,996.6 1581.7,996.6 1584.6,996.7 1587.5,996.7 1590.4,996.7 1593.3,996.8 1596.2,996.8 1599.1,996.8 1602.0,996.8 1604.9,996.9 1607.8,996.9 1610.7,996.9 1613.6,996.9 1616.5,997.0 1619.4,997.0 1622.3,997.0 1625.2,997.0 1628.1,997.1 1631.0,997.1 1633.9,997.1 1636.8,997.1 1639.7,997.2 1642.6,997.2 1645.4,997.2 1648.3,997.2 1651.2,997.3 1654.1,997.3 1657.0,997.3 1659.9,997.3 1662.8,997.3 1665.7,997.4 1668.6,997.4 1671.5,997.4 1674.4,997.4 1677.3,997.5 1680.2,997.5 1683.1,997.5 1686.0,997.5 1688.9,997.6 1691.8,997.6 1694.7,997.6 1697.6,997.6 1700.5,997.6 1703.4,997.7 1706.3,997.7 1709.2,997.7 1712.1,997.7 1715.0,997.8 1717.8,997.8 1720.7,997.8 1723.6,997.8 1726.5,997.8 1729.4,997.9 1732.3,997.9 1735.2,997.9 1738.1,997.9 1741.0,998.0 1743.9,998.0 1746.8,998.0 1749.7,998.0 1752.6,998.0 1755.5,998.1 1758.4,998.1 1761.3,998.1 1764.2,998.1 1767.1,998.1 1770.0,998.2 1772.9,998.2 1775.8,998.2 1778.7,998.2 1781.6,998.2 1784.5,998.3 1787.4,998.3 1790.2,998.3 1793.1,998.3 1796.0,998.3 1798.9,998.4 1801.8,998.4 1804.7,998.4 1807.6,998.4 1810.5,998.4 1813.4,998.5 1816.3,998.5 1819.2,998.5 1822.1,998.5 1825.0,998.5 1827.9,998.6 1830.8,998.6 1833.7,998.6 1836.6,998.6 1839.5,998.6 1842.4,998.7 1845.3,998.7 1848.2,998.7 1851.1,998.7 1854.0,998.7 1856.9,998.7 1859.8,998.8 1862.6,998.8 1865.5,998.8 1868.4,998.8 1871.3,998.8 1874.2,998.9 1877.1,998.9 1880.0,998.9 1882.9,998.9 1885.8,998.9 1888.7,998.9 1891.6,999.0 1894.5,999.0 1897.4,999.0 1900.3,999.0 1903.2,999.0 1906.1,999.0 1909.0,999.1 1911.9,999.1 1914.8,999.1 1917.7,999.1 1920.6,999.1 1923.5,999.1 1926.4,999.2 1929.3,999.2 1932.2,999.2 1935.0,999.2 1937.9,999.2 1940.8,999.2 1943.7,999.3 1946.6,999.3 1949.5,999.3 1952.4,999.3 1955.3,999.3 1958.2,999.3 1961.1,999.4 1964.0,999.4 1966.9,999.4 1969.8,999.4 1972.7,999.4 1975.6,999.4 1978.5,999.5 1981.4,999.5 1984.3,999.5 1987.2,999.5 1990.1,999.5 1993.0,999.5 1995.9,999.6 1998.8,999.6 2001.7,999.6 2004.6,999.6 2007.4,999.6 2010.3,999.6 2013.2,999.6 2016.1,999.7 2019.0,999.7 2021.9,999.7 2024.8,999.7 2027.7,999.7 2030.6,999.7 2033.5,999.7 2036.4,999.8 2039.3,999.8 2042.2,999.8" fill="none" stroke="#000" stroke-width="3.3" stroke-linejoin="round"/>
<polyline points="304.6,982.7 307.5,982.8 310.4,982.9 313.3,983.0 316.2,983.2 319.1,983.3 322.0,983.4 324.9,983.5 327.8,983.6 330.7,983.8 333.6,983.9 336.5,984.0 339.4,984.1 342.2,984.2 345.1,984.4 348.0,984.5 350.9,984.6 353.8,984.7 356.7,984.8 359.6,984.9 362.5,985.0 365.4,985.2 368.3,985.3 371.2,985.4 374.1,985.5 377.0,985.6 379.9,985.7 382.8,985.8 385.7,985.9 388.6,986.0 391.5,986.1 394.4,986.2 397.3,986.3 400.2,986.4 403.1,986.6 406.0,986.7 408.9,986.8 411.8,986.9 414.6,987.0 417.5,987.1 420.4,987.2 423.3,987.3 426.2,987.4 429.1,987.5 432.0,987.6 434.9,987.6 437.8,987.7 440.7,987.8 443.6,987.9 446.5,988.0 449.4,988.1 452.3,988.2 455.2,988.3 458.1,988.4 461.0,988.5 463.9,988.6 466.8,988.7 469.7,988.8 472.6,988.9 475.5,988.9 478.4,989.0 481.3,989.1 484.2,989.2 487.0,989.3 489.9,989.4 492.8,989.4 495.7,989.5 498.6,989.6 501.5,989.6 504.4,989.7 507.3,989.8 510.2,989.8 513.1,989.9 516.0,989.9 518.9,990.0 521.8,990.0 524.7,990.1 527.6,990.1 530.5,990.2 533.4,990.2 536.3,990.2 539.2,990.3 542.1,990.3 545.0,990.3 547.9,990.3 550.8,990.4 553.7,990.4 556.6,990.4 559.4,990.4 562.3,990.4 565.2,990.5 568.1,990.5 571.0,990.5 573.9,990.5 576.8,990.5 579.7,990.5 582.6,990.5 585.5,990.5 588.4,990.5 591.3,990.5 594.2,990.4 597.1,990.4 600.0,990.3 602.9,990.3 605.8,990.2 608.7,990.1 611.6,989.9 614.5,989.8 617.4,989.6 620.3,989.4 623.2,989.2 626.1,989.0 629.0,988.8 631.8,988.5 634.7,988.2 637.6,988.0 640.5,987.7 643.4,987.4 646.3,987.0 649.2,986.7 652.1,986.4 655.0,986.0 657.9,985.7 660.8,985.3 663.7,984.9 666.6,984.6 669.5,984.2 672.4,983.8 675.3,983.4 678.2,983.0 681.1,982.6 684.0,982.2 686.9,981.7 689.8,981.2 692.7,980.6 695.6,980.1 698.5,979.5 701.4,978.9 704.2,978.3 707.1,977.7 710.0,977.1 712.9,976.5 715.8,976.0 718.7,975.4 721.6,974.9 724.5,974.3 727.4,973.8 730.3,973.2 733.2,972.7 736.1,972.2 739.0,971.7 741.9,971.1 744.8,970.6 747.7,970.0 750.6,969.5 753.5,968.9 756.4,968.4 759.3,967.8 762.2,967.2 765.1,966.6 768.0,965.9 770.9,965.3 773.8,964.6 776.6,964.0 779.5,963.3 782.4,962.6 785.3,961.8 788.2,961.1 791.1,960.3 794.0,959.5 796.9,958.7 799.8,957.8 802.7,957.0 805.6,956.0 808.5,955.1 811.4,954.1 814.3,953.0 817.2,952.0 820.1,950.8 823.0,949.7 825.9,948.4 828.8,947.2 831.7,945.8 834.6,944.4 837.5,943.0 840.4,941.4 843.3,939.8 846.2,938.2 849.0,936.4 851.9,934.6 854.8,932.7 857.7,930.7 860.6,928.6 863.5,926.4 866.4,924.2 869.3,921.8 872.2,919.3 875.1,916.7 878.0,914.0 880.9,911.3 883.8,908.4 886.7,905.4 889.6,902.3 892.5,899.1 895.4,895.8 898.3,892.4 901.2,888.9 904.1,885.4 907.0,881.9 909.9,878.3 912.8,874.8 915.7,871.2 918.6,867.7 921.4,864.1 924.3,860.5 927.2,856.9 930.1,853.3 933.0,849.7 935.9,846.2 938.8,842.7 941.7,839.3 944.6,836.0 947.5,832.8 950.4,829.6 953.3,826.5 956.2,823.5 959.1,820.5 962.0,817.6 964.9,814.8 967.8,812.2 970.7,809.7 973.6,807.5 976.5,805.4 979.4,803.6 982.3,802.0 985.2,800.6 988.1,799.3 991.0,798.1 993.8,797.0 996.7,796.0 999.6,794.9 1002.5,793.8 1005.4,792.7 1008.3,791.5 1011.2,790.3 1014.1,789.0 1017.0,787.7 1019.9,786.3 1022.8,784.8 1025.7,783.3 1028.6,781.6 1031.5,779.8 1034.4,777.9 1037.3,775.8 1040.2,773.4 1043.1,770.9 1046.0,768.1 1048.9,765.1 1051.8,761.8 1054.7,758.2 1057.6,754.4 1060.5,750.2 1063.4,745.8 1066.2,741.0 1069.1,735.7 1072.0,730.1 1074.9,724.1 1077.8,717.7 1080.7,710.9 1083.6,703.7 1086.5,696.3 1089.4,688.5 1092.3,680.4 1095.2,671.9 1098.1,663.1 1101.0,654.0 1103.9,644.6 1106.8,635.0 1109.7,625.5 1112.6,615.9 1115.5,606.4 1118.4,597.0 1121.3,587.5 1124.2,578.1 1127.1,568.6 1130.0,559.2 1132.9,549.9 1135.8,540.7 1138.6,531.6 1141.5,522.8 1144.4,514.1 1147.3,505.8 1150.2,497.8 1153.1,490.2 1156.0,483.1 1158.9,476.4 1161.8,470.3 1164.7,464.6 1167.6,459.4 1170.5,454.7 1173.4,450.3 1176.3,446.3 1179.2,442.7 1182.1,439.4 1185.0,436.6 1187.9,434.2 1190.8,432.4 1193.7,431.3 1196.6,431.0 1199.5,431.6 1202.4,433.1 1205.3,435.4 1208.2,438.6 1211.0,442.5 1213.9,447.4 1216.8,453.1 1219.7,459.7 1222.6,467.2 1225.5,475.6 1228.4,484.7 1231.3,494.4 1234.2,504.6 1237.1,515.4 1240.0,526.6 1242.9,538.3 1245.8,550.4 1248.7,562.8 1251.6,575.4 1254.5,588.3 1257.4,601.2 1260.3,614.3 1263.2,627.3 1266.1,640.5 1269.0,653.6 1271.9,666.7 1274.8,679.9 1277.7,693.1 1280.6,706.5 1283.4,720.1 1286.3,733.8 1289.2,747.6 1292.1,761.4 1295.0,775.0 1297.9,788.4 1300.8,801.3 1303.7,813.7 1306.6,825.5 1309.5,836.7 1312.4,847.2 1315.3,857.1 1318.2,866.4 1321.1,875.1 1324.0,883.4 1326.9,891.2 1329.8,898.6 1332.7,905.6 1335.6,912.2 1338.5,918.3 1341.4,924.1 1344.3,929.4 1347.2,934.5 1350.1,939.2 1353.0,943.7 1355.8,948.0 1358.7,952.0 1361.6,955.8 1364.5,959.4 1367.4,962.7 1370.3,965.8 1373.2,968.7 1376.1,971.3 1379.0,973.7 1381.9,975.9 1384.8,978.0 1387.7,979.9 1390.6,981.6 1393.5,983.3 1396.4,984.8 1399.3,986.3 1402.2,987.6 1405.1,988.8 1408.0,990.0 1410.9,991.0 1413.8,992.0 1416.7,992.9 1419.6,993.8 1422.5,994.6 1425.4,995.3 1428.2,996.0 1431.1,996.7 1434.0,997.3 1436.9,997.9 1439.8,998.4 1442.7,998.9 1445.6,999.3 1448.5,999.7 1451.4,1000.1 1454.3,1000.4 1457.2,1000.7 1460.1,1001.1 1463.0,1001.3 1465.9,1001.6 1468.8,1001.8 1471.7,1002.0 1474.6,1002.2 1477.5,1002.4 1480.4,1002.5 1483.3,1002.6 1486.2,1002.7 1489.1,1002.8 1492.0,1002.9 1494.9,1002.9 1497.8,1003.0 1500.6,1003.1 1503.5,1003.1 1506.4,1003.2 1509.3,1003.2 1512.2,1003.2 1515.1,1003.3 1518.0,1003.3 1520.9,1003.3 1523.8,1003.4 1526.7,1003.4 1529.6,1003.4 1532.5,1003.4 1535.4,1003.4 1538.3,1003.4 1541.2,1003.4 1544.1,1003.5 1547.0,1003.5 1549.9,1003.5 1552.8,1003.5 1555.7,1003.5 1558.6,1003.5 1561.5,1003.6 1564.4,1003.6 1567.3,1003.6 1570.2,1003.6 1573.0,1003.6 1575.9,1003.6 1578.8,1003.6 1581.7,1003.7 1584.6,1003.7 1587.5,1003.7 1590.4,1003.7 1593.3,1003.7 1596.2,1003.7 1599.1,1003.7 1602.0,1003.8 1604.9,1003.8 1607.8,1003.8 1610.7,1003.8 1613.6,1003.8 1616.5,1003.8 1619.4,1003.8 1622.3,1003.8 1625.2,1003.9 1628.1,1003.9 1631.0,1003.9 1633.9,1003.9 1636.8,1003.9 1639.7,1003.9 1642.6,1003.9 1645.4,1004.0 1648.3,1004.0 1651.2,1004.0 1654.1,1004.0 1657.0,1004.0 1659.9,1004.0 1662.8,1004.0 1665.7,1004.0 1668.6,1004.1 1671.5,1004.1 1674.4,1004.1 1677.3,1004.1 1680.2,1004.1 1683.1,1004.1 1686.0,1004.1 1688.9,1004.1 1691.8,1004.2 1694.7,1004.2 1697.6,1004.2 1700.5,1004.2 1703.4,1004.2 1706.3,1004.2 1709.2,1004.2 1712.1,1004.2 1715.0,1004.2 1717.8,1004.3 1720.7,1004.3 1723.6,1004.3 1726.5,1004.3 1729.4,1004.3 1732.3,1004.3 1735.2,1004.3 1738.1,1004.3 1741.0,1004.4 1743.9,1004.4 1746.8,1004.4 1749.7,1004.4 1752.6,1004.4 1755.5,1004.4 1758.4,1004.4 1761.3,1004.4 1764.2,1004.4 1767.1,1004.5 1770.0,1004.5 1772.9,1004.5 1775.8,1004.5 1778.7,1004.5 1781.6,1004.5 1784.5,1004.5 1787.4,1004.5 1790.2,1004.5 1793.1,1004.5 1796.0,1004.6 1798.9,1004.6 1801.8,1004.6 1804.7,1004.6 1807.6,1004.6 1810.5,1004.6 1813.4,1004.6 1816.3,1004.6 1819.2,1004.6 1822.1,1004.7 1825.0,1004.7 1827.9,1004.7 1830.8,1004.7 1833.7,1004.7 1836.6,1004.7 1839.5,1004.7 1842.4,1004.7 1845.3,1004.7 1848.2,1004.7 1851.1,1004.8 1854.0,1004.8 1856.9,1004.8 1859.8,1004.8 1862.6,1004.8 1865.5,1004.8 1868.4,1004.8 1871.3,1004.8 1874.2,1004.8 1877.1,1004.8 1880.0,1004.8 1882.9,1004.9 1885.8,1004.9 1888.7,1004.9 1891.6,1004.9 1894.5,1004.9 1897.4,1004.9 1900.3,1004.9 1903.2,1004.9 1906.1,1004.9 1909.0,1004.9 1911.9,1005.0 1914.8,1005.0 1917.7,1005.0 1920.6,1005.0 1923.5,1005.0 1926.4,1005.0 1929.3,1005.0 1932.2,1005.0 1935.0,1005.0 1937.9,1005.0 1940.8,1005.0 1943.7,1005.0 1946.6,1005.1 1949.5,1005.1 1952.4,1005.1 1955.3,1005.1 1958.2,1005.1 1961.1,1005.1 1964.0,1005.1 1966.9,1005.1 1969.8,1005.1 1972.7,1005.1 1975.6,1005.1 1978.5,1005.2 1981.4,1005.2 1984.3,1005.2 1987.2,1005.2 1990.1,1005.2 1993.0,1005.2 1995.9,1005.2 1998.8,1005.2 2001.7,1005.2 2004.6,1005.2 2007.4,1005.2 2010.3,1005.2 2013.2,1005.3 2016.1,1005.3 2019.0,1005.3 2021.9,1005.3 2024.8,1005.3 2027.7,1005.3 2030.6,1005.3 2033.5,1005.3 2036.4,1005.3 2039.3,1005.3 2042.2,1005.3" fill="none" stroke="#000" stroke-width="3.3" stroke-linejoin="round"/>
<polyline points="304.6,985.8 307.5,985.9 310.4,986.1 313.3,986.2 316.2,986.3 319.1,986.4 322.0,986.5 324.9,986.6 327.8,986.7 330.7,986.8 333.6,986.9 336.5,987.1 339.4,987.2 342.2,987.3 345.1,987.4 348.0,987.5 350.9,987.6 353.8,987.7 356.7,987.8 359.6,987.9 362.5,988.0 365.4,988.1 368.3,988.2 371.2,988.3 374.1,988.4 377.0,988.5 379.9,988.6 382.8,988.7 385.7,988.8 388.6,988.9 391.5,989.0 394.4,989.1 397.3,989.2 400.2,989.3 403.1,989.4 406.0,989.5 408.9,989.5 411.8,989.6 414.6,989.7 417.5,989.8 420.4,989.9 423.3,990.0 426.2,990.1 429.1,990.2 432.0,990.3 434.9,990.4 437.8,990.4 440.7,990.5 443.6,990.6 446.5,990.7 449.4,990.8 452.3,990.9 455.2,991.0 458.1,991.0 461.0,991.1 463.9,991.2 466.8,991.3 469.7,991.4 472.6,991.4 475.5,991.5 478.4,991.6 481.3,991.7 484.2,991.8 487.0,991.8 489.9,991.9 492.8,992.0 495.7,992.0 498.6,992.1 501.5,992.2 504.4,992.2 507.3,992.3 510.2,992.3 513.1,992.4 516.0,992.4 518.9,992.5 521.8,992.5 524.7,992.6 527.6,992.6 530.5,992.6 533.4,992.7 536.3,992.7 539.2,992.7 542.1,992.8 545.0,992.8 547.9,992.8 550.8,992.8 553.7,992.8 556.6,992.9 559.4,992.9 562.3,992.9 565.2,992.9 568.1,992.9 571.0,992.9 573.9,992.9 576.8,992.9 579.7,992.9 582.6,992.9 585.5,992.9 588.4,992.9 591.3,992.9 594.2,992.9 597.1,992.8 600.0,992.8 602.9,992.7 605.8,992.6 608.7,992.5 611.6,992.4 614.5,992.3 617.4,992.1 620.3,992.0 623.2,991.8 626.1,991.6 629.0,991.4 631.8,991.1 634.7,990.9 637.6,990.6 640.5,990.4 643.4,990.1 646.3,989.8 649.2,989.5 652.1,989.2 655.0,988.9 657.9,988.6 660.8,988.2 663.7,987.9 666.6,987.6 669.5,987.2 672.4,986.9 675.3,986.5 678.2,986.2 681.1,985.8 684.0,985.4 686.9,984.9 689.8,984.5 692.7,984.0 695.6,983.5 698.5,983.0 701.4,982.4 704.2,981.9 707.1,981.3 710.0,980.8 712.9,980.3 715.8,979.8 718.7,979.2 721.6,978.7 724.5,978.3 727.4,977.8 730.3,977.3 733.2,976.8 736.1,976.3 739.0,975.9 741.9,975.4 744.8,974.9 747.7,974.4 750.6,973.9 753.5,973.4 756.4,972.9 759.3,972.3 762.2,971.8 765.1,971.2 768.0,970.7 770.9,970.1 773.8,969.5 776.6,968.9 779.5,968.3 782.4,967.6 785.3,967.0 788.2,966.3 791.1,965.6 794.0,964.9 796.9,964.1 799.8,963.3 802.7,962.5 805.6,961.7 808.5,960.8 811.4,959.9 814.3,959.0 817.2,958.0 820.1,957.0 823.0,955.9 825.9,954.8 828.8,953.6 831.7,952.4 834.6,951.2 837.5,949.8 840.4,948.4 843.3,947.0 846.2,945.5 849.0,943.9 851.9,942.3 854.8,940.6 857.7,938.7 860.6,936.8 863.5,934.9 866.4,932.8 869.3,930.6 872.2,928.4 875.1,926.0 878.0,923.6 880.9,921.1 883.8,918.5 886.7,915.8 889.6,913.0 892.5,910.1 895.4,907.1 898.3,904.0 901.2,900.8 904.1,897.6 907.0,894.5 909.9,891.2 912.8,888.0 915.7,884.8 918.6,881.6 921.4,878.3 924.3,875.1 927.2,871.8 930.1,868.5 933.0,865.3 935.9,862.1 938.8,859.0 941.7,855.9 944.6,852.9 947.5,850.0 950.4,847.1 953.3,844.3 956.2,841.5 959.1,838.8 962.0,836.2 964.9,833.7 967.8,831.3 970.7,829.0 973.6,827.0 976.5,825.1 979.4,823.5 982.3,822.0 985.2,820.8 988.1,819.6 991.0,818.5 993.8,817.5 996.7,816.6 999.6,815.6 1002.5,814.7 1005.4,813.6 1008.3,812.6 1011.2,811.5 1014.1,810.3 1017.0,809.1 1019.9,807.8 1022.8,806.5 1025.7,805.1 1028.6,803.6 1031.5,801.9 1034.4,800.2 1037.3,798.3 1040.2,796.2 1043.1,793.9 1046.0,791.3 1048.9,788.6 1051.8,785.6 1054.7,782.4 1057.6,778.9 1060.5,775.1 1063.4,771.1 1066.2,766.7 1069.1,762.0 1072.0,756.9 1074.9,751.5 1077.8,745.6 1080.7,739.5 1083.6,733.0 1086.5,726.2 1089.4,719.1 1092.3,711.8 1095.2,704.1 1098.1,696.1 1101.0,687.8 1103.9,679.3 1106.8,670.7 1109.7,662.0 1112.6,653.4 1115.5,644.7 1118.4,636.2 1121.3,627.6 1124.2,619.1 1127.1,610.5 1130.0,602.0 1132.9,593.5 1135.8,585.2 1138.6,577.0 1141.5,568.9 1144.4,561.1 1147.3,553.5 1150.2,546.3 1153.1,539.4 1156.0,532.9 1158.9,526.9 1161.8,521.3 1164.7,516.2 1167.6,511.5 1170.5,507.2 1173.4,503.2 1176.3,499.6 1179.2,496.3 1182.1,493.4 1185.0,490.8 1187.9,488.6 1190.8,487.0 1193.7,486.0 1196.6,485.8 1199.5,486.3 1202.4,487.6 1205.3,489.7 1208.2,492.6 1211.0,496.2 1213.9,500.6 1216.8,505.7 1219.7,511.7 1222.6,518.6 1225.5,526.1 1228.4,534.4 1231.3,543.2 1234.2,552.4 1237.1,562.2 1240.0,572.4 1242.9,583.0 1245.8,594.0 1248.7,605.2 1251.6,616.7 1254.5,628.3 1257.4,640.0 1260.3,651.8 1263.2,663.7 1266.1,675.6 1269.0,687.5 1271.9,699.4 1274.8,711.4 1277.7,723.4 1280.6,735.5 1283.4,747.8 1286.3,760.2 1289.2,772.7 1292.1,785.2 1295.0,797.6 1297.9,809.7 1300.8,821.4 1303.7,832.7 1306.6,843.4 1309.5,853.5 1312.4,863.0 1315.3,872.0 1318.2,880.4 1321.1,888.3 1324.0,895.8 1326.9,902.9 1329.8,909.7 1332.7,916.0 1335.6,921.9 1338.5,927.5 1341.4,932.7 1344.3,937.6 1347.2,942.2 1350.1,946.5 1353.0,950.5 1355.8,954.4 1358.7,958.1 1361.6,961.5 1364.5,964.7 1367.4,967.8 1370.3,970.6 1373.2,973.1 1376.1,975.5 1379.0,977.7 1381.9,979.7 1384.8,981.6 1387.7,983.3 1390.6,984.9 1393.5,986.4 1396.4,987.8 1399.3,989.1 1402.2,990.3 1405.1,991.4 1408.0,992.4 1410.9,993.4 1413.8,994.3 1416.7,995.1 1419.6,995.9 1422.5,996.6 1425.4,997.3 1428.2,997.9 1431.1,998.5 1434.0,999.1 1436.9,999.6 1439.8,1000.1 1442.7,1000.5 1445.6,1000.9 1448.5,1001.3 1451.4,1001.6 1454.3,1001.9 1457.2,1002.2 1460.1,1002.5 1463.0,1002.8 1465.9,1003.0 1468.8,1003.2 1471.7,1003.4 1474.6,1003.5 1477.5,1003.7 1480.4,1003.8 1483.3,1003.9 1486.2,1004.0 1489.1,1004.1 1492.0,1004.1 1494.9,1004.2 1497.8,1004.3 1500.6,1004.3 1503.5,1004.4 1506.4,1004.4 1509.3,1004.5 1512.2,1004.5 1515.1,1004.5 1518.0,1004.5 1520.9,1004.6 1523.8,1004.6 1526.7,1004.6 1529.6,1004.6 1532.5,1004.6 1535.4,1004.6 1538.3,1004.7 1541.2,1004.7 1544.1,1004.7 1547.0,1004.7 1549.9,1004.7 1552.8,1004.7 1555.7,1004.7 1558.6,1004.8 1561.5,1004.8 1564.4,1004.8 1567.3,1004.8 1570.2,1004.8 1573.0,1004.8 1575.9,1004.8 1578.8,1004.8 1581.7,1004.9 1584.6,1004.9 1587.5,1004.9 1590.4,1004.9 1593.3,1004.9 1596.2,1004.9 1599.1,1004.9 1602.0,1004.9 1604.9,1005.0 1607.8,1005.0 1610.7,1005.0 1613.6,1005.0 1616.5,1005.0 1619.4,1005.0 1622.3,1005.0 1625.2,1005.0 1628.1,1005.1 1631.0,1005.1 1633.9,1005.1 1636.8,1005.1 1639.7,1005.1 1642.6,1005.1 1645.4,1005.1 1648.3,1005.1 1651.2,1005.1 1654.1,1005.2 1657.0,1005.2 1659.9,1005.2 1662.8,1005.2 1665.7,1005.2 1668.6,1005.2 1671.5,1005.2 1674.4,1005.2 1677.3,1005.3 1680.2,1005.3 1683.1,1005.3 1686.0,1005.3 1688.9,1005.3 1691.8,1005.3 1694.7,1005.3 1697.6,1005.3 1700.5,1005.3 1703.4,1005.4 1706.3,1005.4 1709.2,1005.4 1712.1,1005.4 1715.0,1005.4 1717.8,1005.4 1720.7,1005.4 1723.6,1005.4 1726.5,1005.4 1729.4,1005.4 1732.3,1005.5 1735.2,1005.5 1738.1,1005.5 1741.0,1005.5 1743.9,1005.5 1746.8,1005.5 1749.7,1005.5 1752.6,1005.5 1755.5,1005.5 1758.4,1005.6 1761.3,1005.6 1764.2,1005.6 1767.1,1005.6 1770.0,1005.6 1772.9,1005.6 1775.8,1005.6 1778.7,1005.6 1781.6,1005.6 1784.5,1005.6 1787.4,1005.6 1790.2,1005.7 1793.1,1005.7 1796.0,1005.7 1798.9,1005.7 1801.8,1005.7 1804.7,1005.7 1807.6,1005.7 1810.5,1005.7 1813.4,1005.7 1816.3,1005.7 1819.2,1005.8 1822.1,1005.8 1825.0,1005.8 1827.9,1005.8 1830.8,1005.8 1833.7,1005.8 1836.6,1005.8 1839.5,1005.8 1842.4,1005.8 1845.3,1005.8 1848.2,1005.8 1851.1,1005.9 1854.0,1005.9 1856.9,1005.9 1859.8,1005.9 1862.6,1005.9 1865.5,1005.9 1868.4,1005.9 1871.3,1005.9 1874.2,1005.9 1877.1,1005.9 1880.0,1005.9 1882.9,1005.9 1885.8,1006.0 1888.7,1006.0 1891.6,1006.0 1894.5,1006.0 1897.4,1006.0 1900.3,1006.0 1903.2,1006.0 1906.1,1006.0 1909.0,1006.0 1911.9,1006.0 1914.8,1006.0 1917.7,1006.1 1920.6,1006.1 1923.5,1006.1 1926.4,1006.1 1929.3,1006.1 1932.2,1006.1 1935.0,1006.1 1937.9,1006.1 1940.8,1006.1 1943.7,1006.1 1946.6,1006.1 1949.5,1006.1 1952.4,1006.1 1955.3,1006.2 1958.2,1006.2 1961.1,1006.2 1964.0,1006.2 1966.9,1006.2 1969.8,1006.2 1972.7,1006.2 1975.6,1006.2 1978.5,1006.2 1981.4,1006.2 1984.3,1006.2 1987.2,1006.2 1990.1,1006.2 1993.0,1006.3 1995.9,1006.3 1998.8,1006.3 2001.7,1006.3 2004.6,1006.3 2007.4,1006.3 2010.3,1006.3 2013.2,1006.3 2016.1,1006.3 2019.0,1006.3 2021.9,1006.3 2024.8,1006.3 2027.7,1006.3 2030.6,1006.3 2033.5,1006.4 2036.4,1006.4 2039.3,1006.4 2042.2,1006.4" fill="none" stroke="#000" stroke-width="3.3" stroke-linejoin="round"/>
<polyline points="304.6,988.5 307.5,988.6 310.4,988.7 313.3,988.8 316.2,988.9 319.1,989.0 322.0,989.1 324.9,989.2 327.8,989.3 330.7,989.4 333.6,989.5 336.5,989.6 339.4,989.7 342.2,989.8 345.1,989.9 348.0,990.0 350.9,990.1 353.8,990.2 356.7,990.3 359.6,990.4 362.5,990.5 365.4,990.6 368.3,990.6 371.2,990.7 374.1,990.8 377.0,990.9 379.9,991.0 382.8,991.1 385.7,991.2 388.6,991.3 391.5,991.4 394.4,991.4 397.3,991.5 400.2,991.6 403.1,991.7 406.0,991.8 408.9,991.9 411.8,991.9 414.6,992.0 417.5,992.1 420.4,992.2 423.3,992.3 426.2,992.3 429.1,992.4 432.0,992.5 434.9,992.6 437.8,992.7 440.7,992.7 443.6,992.8 446.5,992.9 449.4,993.0 452.3,993.0 455.2,993.1 458.1,993.2 461.0,993.3 463.9,993.3 466.8,993.4 469.7,993.5 472.6,993.6 475.5,993.6 478.4,993.7 481.3,993.8 484.2,993.8 487.0,993.9 489.9,994.0 492.8,994.0 495.7,994.1 498.6,994.1 501.5,994.2 504.4,994.3 507.3,994.3 510.2,994.3 513.1,994.4 516.0,994.4 518.9,994.5 521.8,994.5 524.7,994.6 527.6,994.6 530.5,994.6 533.4,994.7 536.3,994.7 539.2,994.7 542.1,994.7 545.0,994.8 547.9,994.8 550.8,994.8 553.7,994.8 556.6,994.8 559.4,994.8 562.3,994.9 565.2,994.9 568.1,994.9 571.0,994.9 573.9,994.9 576.8,994.9 579.7,994.9 582.6,994.9 585.5,994.9 588.4,994.9 591.3,994.9 594.2,994.9 597.1,994.8 600.0,994.8 602.9,994.7 605.8,994.7 608.7,994.6 611.6,994.5 614.5,994.3 617.4,994.2 620.3,994.0 623.2,993.9 626.1,993.7 629.0,993.5 631.8,993.3 634.7,993.1 637.6,992.9 640.5,992.6 643.4,992.4 646.3,992.1 649.2,991.9 652.1,991.6 655.0,991.3 657.9,991.0 660.8,990.7 663.7,990.4 666.6,990.1 669.5,989.8 672.4,989.5 675.3,989.2 678.2,988.9 681.1,988.5 684.0,988.2 686.9,987.8 689.8,987.4 692.7,987.0 695.6,986.5 698.5,986.1 701.4,985.6 704.2,985.1 707.1,984.6 710.0,984.1 712.9,983.7 715.8,983.2 718.7,982.7 721.6,982.3 724.5,981.9 727.4,981.4 730.3,981.0 733.2,980.6 736.1,980.2 739.0,979.7 741.9,979.3 744.8,978.9 747.7,978.4 750.6,978.0 753.5,977.5 756.4,977.1 759.3,976.6 762.2,976.1 765.1,975.6 768.0,975.1 770.9,974.6 773.8,974.1 776.6,973.5 779.5,973.0 782.4,972.4 785.3,971.8 788.2,971.2 791.1,970.6 794.0,970.0 796.9,969.3 799.8,968.6 802.7,967.9 805.6,967.1 808.5,966.4 811.4,965.6 814.3,964.7 817.2,963.9 820.1,963.0 823.0,962.0 825.9,961.0 828.8,960.0 831.7,958.9 834.6,957.8 837.5,956.6 840.4,955.4 843.3,954.1 846.2,952.7 849.0,951.3 851.9,949.9 854.8,948.3 857.7,946.7 860.6,945.0 863.5,943.3 866.4,941.4 869.3,939.5 872.2,937.5 875.1,935.4 878.0,933.3 880.9,931.1 883.8,928.7 886.7,926.3 889.6,923.8 892.5,921.2 895.4,918.6 898.3,915.8 901.2,913.0 904.1,910.2 907.0,907.3 909.9,904.5 912.8,901.6 915.7,898.8 918.6,895.9 921.4,893.0 924.3,890.1 927.2,887.2 930.1,884.3 933.0,881.4 935.9,878.6 938.8,875.8 941.7,873.1 944.6,870.4 947.5,867.8 950.4,865.2 953.3,862.7 956.2,860.2 959.1,857.8 962.0,855.5 964.9,853.3 967.8,851.1 970.7,849.2 973.6,847.3 976.5,845.7 979.4,844.2 982.3,842.9 985.2,841.8 988.1,840.8 991.0,839.8 993.8,838.9 996.7,838.1 999.6,837.2 1002.5,836.4 1005.4,835.5 1008.3,834.5 1011.2,833.5 1014.1,832.5 1017.0,831.4 1019.9,830.3 1022.8,829.1 1025.7,827.8 1028.6,826.5 1031.5,825.1 1034.4,823.5 1037.3,821.8 1040.2,819.9 1043.1,817.9 1046.0,815.6 1048.9,813.2 1051.8,810.5 1054.7,807.6 1057.6,804.5 1060.5,801.2 1063.4,797.6 1066.2,793.7 1069.1,789.5 1072.0,785.0 1074.9,780.1 1077.8,775.0 1080.7,769.5 1083.6,763.7 1086.5,757.7 1089.4,751.4 1092.3,744.8 1095.2,738.0 1098.1,730.9 1101.0,723.6 1103.9,716.0 1106.8,708.3 1109.7,700.6 1112.6,692.9 1115.5,685.2 1118.4,677.6 1121.3,670.0 1124.2,662.4 1127.1,654.8 1130.0,647.2 1132.9,639.7 1135.8,632.2 1138.6,624.9 1141.5,617.8 1144.4,610.8 1147.3,604.1 1150.2,597.7 1153.1,591.5 1156.0,585.8 1158.9,580.4 1161.8,575.5 1164.7,570.9 1167.6,566.7 1170.5,562.9 1173.4,559.3 1176.3,556.1 1179.2,553.2 1182.1,550.6 1185.0,548.3 1187.9,546.4 1190.8,544.9 1193.7,544.0 1196.6,543.8 1199.5,544.3 1202.4,545.5 1205.3,547.4 1208.2,549.9 1211.0,553.1 1213.9,557.0 1216.8,561.6 1219.7,566.9 1222.6,573.0 1225.5,579.7 1228.4,587.0 1231.3,594.9 1234.2,603.1 1237.1,611.8 1240.0,620.9 1242.9,630.3 1245.8,640.1 1248.7,650.1 1251.6,660.3 1254.5,670.6 1257.4,681.0 1260.3,691.6 1263.2,702.1 1266.1,712.7 1269.0,723.3 1271.9,733.9 1274.8,744.5 1277.7,755.2 1280.6,766.0 1283.4,776.9 1286.3,787.9 1289.2,799.1 1292.1,810.2 1295.0,821.2 1297.9,832.0 1300.8,842.4 1303.7,852.4 1306.6,861.9 1309.5,870.9 1312.4,879.4 1315.3,887.4 1318.2,894.9 1321.1,901.9 1324.0,908.6 1326.9,914.9 1329.8,920.9 1332.7,926.5 1335.6,931.8 1338.5,936.8 1341.4,941.4 1344.3,945.7 1347.2,949.8 1350.1,953.6 1353.0,957.3 1355.8,960.7 1358.7,963.9 1361.6,967.0 1364.5,969.9 1367.4,972.6 1370.3,975.1 1373.2,977.4 1376.1,979.5 1379.0,981.4 1381.9,983.2 1384.8,984.9 1387.7,986.4 1390.6,987.8 1393.5,989.2 1396.4,990.4 1399.3,991.6 1402.2,992.6 1405.1,993.6 1408.0,994.5 1410.9,995.4 1413.8,996.2 1416.7,996.9 1419.6,997.6 1422.5,998.2 1425.4,998.9 1428.2,999.4 1431.1,1000.0 1434.0,1000.5 1436.9,1000.9 1439.8,1001.3 1442.7,1001.7 1445.6,1002.1 1448.5,1002.4 1451.4,1002.7 1454.3,1003.0 1457.2,1003.2 1460.1,1003.5 1463.0,1003.7 1465.9,1003.9 1468.8,1004.1 1471.7,1004.3 1474.6,1004.4 1477.5,1004.5 1480.4,1004.6 1483.3,1004.7 1486.2,1004.8 1489.1,1004.9 1492.0,1004.9 1494.9,1005.0 1497.8,1005.1 1500.6,1005.1 1503.5,1005.1 1506.4,1005.2 1509.3,1005.2 1512.2,1005.3 1515.1,1005.3 1518.0,1005.3 1520.9,1005.3 1523.8,1005.3 1526.7,1005.4 1529.6,1005.4 1532.5,1005.4 1535.4,1005.4 1538.3,1005.4 1541.2,1005.4 1544.1,1005.4 1547.0,1005.4 1549.9,1005.5 1552.8,1005.5 1555.7,1005.5 1558.6,1005.5 1561.5,1005.5 1564.4,1005.5 1567.3,1005.5 1570.2,1005.5 1573.0,1005.5 1575.9,1005.6 1578.8,1005.6 1581.7,1005.6 1584.6,1005.6 1587.5,1005.6 1590.4,1005.6 1593.3,1005.6 1596.2,1005.6 1599.1,1005.7 1602.0,1005.7 1604.9,1005.7 1607.8,1005.7 1610.7,1005.7 1613.6,1005.7 1616.5,1005.7 1619.4,1005.7 1622.3,1005.7 1625.2,1005.8 1628.1,1005.8 1631.0,1005.8 1633.9,1005.8 1636.8,1005.8 1639.7,1005.8 1642.6,1005.8 1645.4,1005.8 1648.3,1005.8 1651.2,1005.8 1654.1,1005.9 1657.0,1005.9 1659.9,1005.9 1662.8,1005.9 1665.7,1005.9 1668.6,1005.9 1671.5,1005.9 1674.4,1005.9 1677.3,1005.9 1680.2,1005.9 1683.1,1006.0 1686.0,1006.0 1688.9,1006.0 1691.8,1006.0 1694.7,1006.0 1697.6,1006.0 1700.5,1006.0 1703.4,1006.0 1706.3,1006.0 1709.2,1006.0 1712.1,1006.1 1715.0,1006.1 1717.8,1006.1 1720.7,1006.1 1723.6,1006.1 1726.5,1006.1 1729.4,1006.1 1732.3,1006.1 1735.2,1006.1 1738.1,1006.1 1741.0,1006.2 1743.9,1006.2 1746.8,1006.2 1749.7,1006.2 1752.6,1006.2 1755.5,1006.2 1758.4,1006.2 1761.3,1006.2 1764.2,1006.2 1767.1,1006.2 1770.0,1006.2 1772.9,1006.3 1775.8,1006.3 1778.7,1006.3 1781.6,1006.3 1784.5,1006.3 1787.4,1006.3 1790.2,1006.3 1793.1,1006.3 1796.0,1006.3 1798.9,1006.3 1801.8,1006.3 1804.7,1006.3 1807.6,1006.4 1810.5,1006.4 1813.4,1006.4 1816.3,1006.4 1819.2,1006.4 1822.1,1006.4 1825.0,1006.4 1827.9,1006.4 1830.8,1006.4 1833.7,1006.4 1836.6,1006.4 1839.5,1006.4 1842.4,1006.5 1845.3,1006.5 1848.2,1006.5 1851.1,1006.5 1854.0,1006.5 1856.9,1006.5 1859.8,1006.5 1862.6,1006.5 1865.5,1006.5 1868.4,1006.5 1871.3,1006.5 1874.2,1006.5 1877.1,1006.5 1880.0,1006.6 1882.9,1006.6 1885.8,1006.6 1888.7,1006.6 1891.6,1006.6 1894.5,1006.6 1897.4,1006.6 1900.3,1006.6 1903.2,1006.6 1906.1,1006.6 1909.0,1006.6 1911.9,1006.6 1914.8,1006.6 1917.7,1006.7 1920.6,1006.7 1923.5,1006.7 1926.4,1006.7 1929.3,1006.7 1932.2,1006.7 1935.0,1006.7 1937.9,1006.7 1940.8,1006.7 1943.7,1006.7 1946.6,1006.7 1949.5,1006.7 1952.4,1006.7 1955.3,1006.7 1958.2,1006.8 1961.1,1006.8 1964.0,1006.8 1966.9,1006.8 1969.8,1006.8 1972.7,1006.8 1975.6,1006.8 1978.5,1006.8 1981.4,1006.8 1984.3,1006.8 1987.2,1006.8 1990.1,1006.8 1993.0,1006.8 1995.9,1006.8 1998.8,1006.9 2001.7,1006.9 2004.6,1006.9 2007.4,1006.9 2010.3,1006.9 2013.2,1006.9 2016.1,1006.9 2019.0,1006.9 2021.9,1006.9 2024.8,1006.9 2027.7,1006.9 2030.6,1006.9 2033.5,1006.9 2036.4,1006.9 2039.3,1006.9 2042.2,1006.9" fill="none" stroke="#000" stroke-width="3.3" stroke-linejoin="round"/>
<polyline points="304.6,991.4 307.5,991.5 310.4,991.6 313.3,991.7 316.2,991.7 319.1,991.8 322.0,991.9 324.9,992.0 327.8,992.1 330.7,992.2 333.6,992.3 336.5,992.4 339.4,992.4 342.2,992.5 345.1,992.6 348.0,992.7 350.9,992.8 353.8,992.9 356.7,992.9 359.6,993.0 362.5,993.1 365.4,993.2 368.3,993.3 371.2,993.3 374.1,993.4 377.0,993.5 379.9,993.6 382.8,993.6 385.7,993.7 388.6,993.8 391.5,993.9 394.4,994.0 397.3,994.0 400.2,994.1 403.1,994.2 406.0,994.3 408.9,994.3 411.8,994.4 414.6,994.5 417.5,994.5 420.4,994.6 423.3,994.7 426.2,994.8 429.1,994.8 432.0,994.9 434.9,995.0 437.8,995.0 440.7,995.1 443.6,995.2 446.5,995.2 449.4,995.3 452.3,995.4 455.2,995.4 458.1,995.5 461.0,995.6 463.9,995.6 466.8,995.7 469.7,995.8 472.6,995.8 475.5,995.9 478.4,996.0 481.3,996.0 484.2,996.1 487.0,996.1 489.9,996.2 492.8,996.3 495.7,996.3 498.6,996.4 501.5,996.4 504.4,996.5 507.3,996.5 510.2,996.6 513.1,996.6 516.0,996.6 518.9,996.7 521.8,996.7 524.7,996.8 527.6,996.8 530.5,996.8 533.4,996.9 536.3,996.9 539.2,996.9 542.1,997.0 545.0,997.0 547.9,997.0 550.8,997.0 553.7,997.1 556.6,997.1 559.4,997.1 562.3,997.1 565.2,997.1 568.1,997.2 571.0,997.2 573.9,997.2 576.8,997.2 579.7,997.2 582.6,997.2 585.5,997.2 588.4,997.2 591.3,997.3 594.2,997.2 597.1,997.2 600.0,997.2 602.9,997.2 605.8,997.2 608.7,997.1 611.6,997.0 614.5,997.0 617.4,996.9 620.3,996.8 623.2,996.7 626.1,996.6 629.0,996.4 631.8,996.3 634.7,996.2 637.6,996.0 640.5,995.9 643.4,995.7 646.3,995.5 649.2,995.4 652.1,995.2 655.0,995.0 657.9,994.8 660.8,994.6 663.7,994.4 666.6,994.2 669.5,994.0 672.4,993.8 675.3,993.6 678.2,993.4 681.1,993.2 684.0,992.9 686.9,992.7 689.8,992.4 692.7,992.1 695.6,991.8 698.5,991.5 701.4,991.2 704.2,990.8 707.1,990.5 710.0,990.2 712.9,989.9 715.8,989.5 718.7,989.2 721.6,988.9 724.5,988.6 727.4,988.4 730.3,988.1 733.2,987.8 736.1,987.5 739.0,987.2 741.9,986.9 744.8,986.6 747.7,986.3 750.6,986.0 753.5,985.7 756.4,985.4 759.3,985.1 762.2,984.8 765.1,984.4 768.0,984.1 770.9,983.7 773.8,983.4 776.6,983.0 779.5,982.6 782.4,982.2 785.3,981.8 788.2,981.4 791.1,981.0 794.0,980.5 796.9,980.1 799.8,979.6 802.7,979.1 805.6,978.6 808.5,978.1 811.4,977.5 814.3,977.0 817.2,976.4 820.1,975.7 823.0,975.1 825.9,974.4 828.8,973.7 831.7,973.0 834.6,972.2 837.5,971.4 840.4,970.5 843.3,969.6 846.2,968.7 849.0,967.7 851.9,966.7 854.8,965.7 857.7,964.5 860.6,963.4 863.5,962.2 866.4,960.9 869.3,959.5 872.2,958.2 875.1,956.7 878.0,955.2 880.9,953.7 883.8,952.1 886.7,950.4 889.6,948.7 892.5,946.9 895.4,945.0 898.3,943.1 901.2,941.2 904.1,939.2 907.0,937.2 909.9,935.3 912.8,933.3 915.7,931.3 918.6,929.3 921.4,927.3 924.3,925.3 927.2,923.3 930.1,921.3 933.0,919.3 935.9,917.3 938.8,915.4 941.7,913.5 944.6,911.6 947.5,909.8 950.4,908.0 953.3,906.3 956.2,904.6 959.1,902.9 962.0,901.3 964.9,899.7 967.8,898.3 970.7,896.9 973.6,895.6 976.5,894.5 979.4,893.5 982.3,892.6 985.2,891.8 988.1,891.1 991.0,890.4 993.8,889.8 996.7,889.2 999.6,888.6 1002.5,888.0 1005.4,887.4 1008.3,886.8 1011.2,886.1 1014.1,885.4 1017.0,884.6 1019.9,883.8 1022.8,883.0 1025.7,882.2 1028.6,881.2 1031.5,880.2 1034.4,879.2 1037.3,878.0 1040.2,876.7 1043.1,875.2 1046.0,873.7 1048.9,872.0 1051.8,870.1 1054.7,868.2 1057.6,866.0 1060.5,863.7 1063.4,861.2 1066.2,858.5 1069.1,855.6 1072.0,852.4 1074.9,849.1 1077.8,845.5 1080.7,841.7 1083.6,837.6 1086.5,833.4 1089.4,829.1 1092.3,824.5 1095.2,819.8 1098.1,814.9 1101.0,809.7 1103.9,804.5 1106.8,799.1 1109.7,793.8 1112.6,788.4 1115.5,783.1 1118.4,777.8 1121.3,772.5 1124.2,767.2 1127.1,761.9 1130.0,756.6 1132.9,751.4 1135.8,746.2 1138.6,741.2 1141.5,736.2 1144.4,731.4 1147.3,726.7 1150.2,722.2 1153.1,718.0 1156.0,714.0 1158.9,710.2 1161.8,706.8 1164.7,703.6 1167.6,700.7 1170.5,698.0 1173.4,695.6 1176.3,693.3 1179.2,691.3 1182.1,689.5 1185.0,687.9 1187.9,686.6 1190.8,685.6 1193.7,685.0 1196.6,684.8 1199.5,685.1 1202.4,686.0 1205.3,687.3 1208.2,689.1 1211.0,691.3 1213.9,694.0 1216.8,697.2 1219.7,700.9 1222.6,705.1 1225.5,709.8 1228.4,714.9 1231.3,720.4 1234.2,726.1 1237.1,732.2 1240.0,738.5 1242.9,745.0 1245.8,751.8 1248.7,758.8 1251.6,765.9 1254.5,773.1 1257.4,780.4 1260.3,787.7 1263.2,795.0 1266.1,802.4 1269.0,809.8 1271.9,817.1 1274.8,824.5 1277.7,832.0 1280.6,839.5 1283.4,847.1 1286.3,854.8 1289.2,862.5 1292.1,870.3 1295.0,877.9 1297.9,885.4 1300.8,892.7 1303.7,899.7 1306.6,906.3 1309.5,912.5 1312.4,918.4 1315.3,924.0 1318.2,929.2 1321.1,934.1 1324.0,938.8 1326.9,943.2 1329.8,947.3 1332.7,951.2 1335.6,954.9 1338.5,958.4 1341.4,961.6 1344.3,964.6 1347.2,967.4 1350.1,970.1 1353.0,972.6 1355.8,975.0 1358.7,977.3 1361.6,979.4 1364.5,981.4 1367.4,983.3 1370.3,985.1 1373.2,986.7 1376.1,988.1 1379.0,989.5 1381.9,990.7 1384.8,991.9 1387.7,992.9 1390.6,993.9 1393.5,994.9 1396.4,995.8 1399.3,996.6 1402.2,997.3 1405.1,998.0 1408.0,998.6 1410.9,999.2 1413.8,999.8 1416.7,1000.3 1419.6,1000.8 1422.5,1001.2 1425.4,1001.7 1428.2,1002.1 1431.1,1002.4 1434.0,1002.8 1436.9,1003.1 1439.8,1003.4 1442.7,1003.7 1445.6,1003.9 1448.5,1004.1 1451.4,1004.4 1454.3,1004.6 1457.2,1004.7 1460.1,1004.9 1463.0,1005.1 1465.9,1005.2 1468.8,1005.3 1471.7,1005.5 1474.6,1005.6 1477.5,1005.7 1480.4,1005.7 1483.3,1005.8 1486.2,1005.9 1489.1,1005.9 1492.0,1006.0 1494.9,1006.0 1497.8,1006.0 1500.6,1006.1 1503.5,1006.1 1506.4,1006.1 1509.3,1006.2 1512.2,1006.2 1515.1,1006.2 1518.0,1006.2 1520.9,1006.2 1523.8,1006.3 1526.7,1006.3 1529.6,1006.3 1532.5,1006.3 1535.4,1006.3 1538.3,1006.3 1541.2,1006.3 1544.1,1006.3 1547.0,1006.3 1549.9,1006.4 1552.8,1006.4 1555.7,1006.4 1558.6,1006.4 1561.5,1006.4 1564.4,1006.4 1567.3,1006.4 1570.2,1006.4 1573.0,1006.4 1575.9,1006.5 1578.8,1006.5 1581.7,1006.5 1584.6,1006.5 1587.5,1006.5 1590.4,1006.5 1593.3,1006.5 1596.2,1006.5 1599.1,1006.5 1602.0,1006.5 1604.9,1006.6 1607.8,1006.6 1610.7,1006.6 1613.6,1006.6 1616.5,1006.6 1619.4,1006.6 1622.3,1006.6 1625.2,1006.6 1628.1,1006.6 1631.0,1006.6 1633.9,1006.6 1636.8,1006.7 1639.7,1006.7 1642.6,1006.7 1645.4,1006.7 1648.3,1006.7 1651.2,1006.7 1654.1,1006.7 1657.0,1006.7 1659.9,1006.7 1662.8,1006.7 1665.7,1006.7 1668.6,1006.8 1671.5,1006.8 1674.4,1006.8 1677.3,1006.8 1680.2,1006.8 1683.1,1006.8 1686.0,1006.8 1688.9,1006.8 1691.8,1006.8 1694.7,1006.8 1697.6,1006.8 1700.5,1006.9 1703.4,1006.9 1706.3,1006.9 1709.2,1006.9 1712.1,1006.9 1715.0,1006.9 1717.8,1006.9 1720.7,1006.9 1723.6,1006.9 1726.5,1006.9 1729.4,1006.9 1732.3,1006.9 1735.2,1007.0 1738.1,1007.0 1741.0,1007.0 1743.9,1007.0 1746.8,1007.0 1749.7,1007.0 1752.6,1007.0 1755.5,1007.0 1758.4,1007.0 1761.3,1007.0 1764.2,1007.0 1767.1,1007.0 1770.0,1007.1 1772.9,1007.1 1775.8,1007.1 1778.7,1007.1 1781.6,1007.1 1784.5,1007.1 1787.4,1007.1 1790.2,1007.1 1793.1,1007.1 1796.0,1007.1 1798.9,1007.1 1801.8,1007.1 1804.7,1007.1 1807.6,1007.2 1810.5,1007.2 1813.4,1007.2 1816.3,1007.2 1819.2,1007.2 1822.1,1007.2 1825.0,1007.2 1827.9,1007.2 1830.8,1007.2 1833.7,1007.2 1836.6,1007.2 1839.5,1007.2 1842.4,1007.2 1845.3,1007.2 1848.2,1007.3 1851.1,1007.3 1854.0,1007.3 1856.9,1007.3 1859.8,1007.3 1862.6,1007.3 1865.5,1007.3 1868.4,1007.3 1871.3,1007.3 1874.2,1007.3 1877.1,1007.3 1880.0,1007.3 1882.9,1007.3 1885.8,1007.3 1888.7,1007.4 1891.6,1007.4 1894.5,1007.4 1897.4,1007.4 1900.3,1007.4 1903.2,1007.4 1906.1,1007.4 1909.0,1007.4 1911.9,1007.4 1914.8,1007.4 1917.7,1007.4 1920.6,1007.4 1923.5,1007.4 1926.4,1007.4 1929.3,1007.4 1932.2,1007.5 1935.0,1007.5 1937.9,1007.5 1940.8,1007.5 1943.7,1007.5 1946.6,1007.5 1949.5,1007.5 1952.4,1007.5 1955.3,1007.5 1958.2,1007.5 1961.1,1007.5 1964.0,1007.5 1966.9,1007.5 1969.8,1007.5 1972.7,1007.5 1975.6,1007.5 1978.5,1007.5 1981.4,1007.6 1984.3,1007.6 1987.2,1007.6 1990.1,1007.6 1993.0,1007.6 1995.9,1007.6 1998.8,1007.6 2001.7,1007.6 2004.6,1007.6 2007.4,1007.6 2010.3,1007.6 2013.2,1007.6 2016.1,1007.6 2019.0,1007.6 2021.9,1007.6 2024.8,1007.6 2027.7,1007.6 2030.6,1007.7 2033.5,1007.7 2036.4,1007.7 2039.3,1007.7 2042.2,1007.7" fill="none" stroke="#000" stroke-width="3.3" stroke-linejoin="round"/>
<polyline points="304.6,994.2 307.5,994.3 310.4,994.4 313.3,994.5 316.2,994.6 319.1,994.6 322.0,994.7 324.9,994.8 327.8,994.9 330.7,994.9 333.6,995.0 336.5,995.1 339.4,995.2 342.2,995.2 345.1,995.3 348.0,995.4 350.9,995.4 353.8,995.5 356.7,995.6 359.6,995.7 362.5,995.7 365.4,995.8 368.3,995.9 371.2,995.9 374.1,996.0 377.0,996.1 379.9,996.1 382.8,996.2 385.7,996.3 388.6,996.3 391.5,996.4 394.4,996.5 397.3,996.5 400.2,996.6 403.1,996.7 406.0,996.7 408.9,996.8 411.8,996.9 414.6,996.9 417.5,997.0 420.4,997.0 423.3,997.1 426.2,997.2 429.1,997.2 432.0,997.3 434.9,997.4 437.8,997.4 440.7,997.5 443.6,997.5 446.5,997.6 449.4,997.7 452.3,997.7 455.2,997.8 458.1,997.8 461.0,997.9 463.9,997.9 466.8,998.0 469.7,998.1 472.6,998.1 475.5,998.2 478.4,998.2 481.3,998.3 484.2,998.3 487.0,998.4 489.9,998.4 492.8,998.5 495.7,998.5 498.6,998.6 501.5,998.6 504.4,998.7 507.3,998.7 510.2,998.7 513.1,998.8 516.0,998.8 518.9,998.9 521.8,998.9 524.7,998.9 527.6,999.0 530.5,999.0 533.4,999.0 536.3,999.0 539.2,999.1 542.1,999.1 545.0,999.1 547.9,999.2 550.8,999.2 553.7,999.2 556.6,999.2 559.4,999.2 562.3,999.3 565.2,999.3 568.1,999.3 571.0,999.3 573.9,999.3 576.8,999.3 579.7,999.4 582.6,999.4 585.5,999.4 588.4,999.4 591.3,999.4 594.2,999.4 597.1,999.4 600.0,999.4 602.9,999.4 605.8,999.3 608.7,999.3 611.6,999.2 614.5,999.2 617.4,999.1 620.3,999.0 623.2,999.0 626.1,998.9 629.0,998.8 631.8,998.7 634.7,998.6 637.6,998.4 640.5,998.3 643.4,998.2 646.3,998.0 649.2,997.9 652.1,997.8 655.0,997.6 657.9,997.5 660.8,997.3 663.7,997.2 666.6,997.0 669.5,996.8 672.4,996.7 675.3,996.5 678.2,996.3 681.1,996.1 684.0,996.0 686.9,995.8 689.8,995.5 692.7,995.3 695.6,995.1 698.5,994.8 701.4,994.5 704.2,994.3 707.1,994.0 710.0,993.8 712.9,993.5 715.8,993.2 718.7,993.0 721.6,992.8 724.5,992.5 727.4,992.3 730.3,992.0 733.2,991.8 736.1,991.6 739.0,991.4 741.9,991.1 744.8,990.9 747.7,990.6 750.6,990.4 753.5,990.2 756.4,989.9 759.3,989.6 762.2,989.4 765.1,989.1 768.0,988.8 770.9,988.6 773.8,988.3 776.6,988.0 779.5,987.7 782.4,987.3 785.3,987.0 788.2,986.7 791.1,986.3 794.0,986.0 796.9,985.6 799.8,985.2 802.7,984.8 805.6,984.4 808.5,984.0 811.4,983.6 814.3,983.1 817.2,982.6 820.1,982.1 823.0,981.6 825.9,981.0 828.8,980.4 831.7,979.8 834.6,979.2 837.5,978.6 840.4,977.9 843.3,977.1 846.2,976.4 849.0,975.6 851.9,974.8 854.8,973.9 857.7,973.0 860.6,972.1 863.5,971.1 866.4,970.1 869.3,969.0 872.2,967.8 875.1,966.7 878.0,965.5 880.9,964.2 883.8,962.9 886.7,961.6 889.6,960.2 892.5,958.7 895.4,957.2 898.3,955.6 901.2,954.1 904.1,952.5 907.0,950.9 909.9,949.3 912.8,947.7 915.7,946.0 918.6,944.4 921.4,942.8 924.3,941.2 927.2,939.5 930.1,937.9 933.0,936.3 935.9,934.7 938.8,933.1 941.7,931.6 944.6,930.1 947.5,928.6 950.4,927.1 953.3,925.7 956.2,924.4 959.1,923.0 962.0,921.7 964.9,920.4 967.8,919.2 970.7,918.1 973.6,917.1 976.5,916.2 979.4,915.3 982.3,914.6 985.2,914.0 988.1,913.4 991.0,912.9 993.8,912.4 996.7,911.9 999.6,911.4 1002.5,910.9 1005.4,910.4 1008.3,909.9 1011.2,909.4 1014.1,908.8 1017.0,908.2 1019.9,907.5 1022.8,906.9 1025.7,906.2 1028.6,905.4 1031.5,904.6 1034.4,903.7 1037.3,902.8 1040.2,901.7 1043.1,900.6 1046.0,899.3 1048.9,897.9 1051.8,896.4 1054.7,894.8 1057.6,893.1 1060.5,891.2 1063.4,889.1 1066.2,887.0 1069.1,884.6 1072.0,882.0 1074.9,879.3 1077.8,876.4 1080.7,873.3 1083.6,870.0 1086.5,866.6 1089.4,863.1 1092.3,859.4 1095.2,855.5 1098.1,851.5 1101.0,847.3 1103.9,843.1 1106.8,838.7 1109.7,834.4 1112.6,830.0 1115.5,825.7 1118.4,821.4 1121.3,817.1 1124.2,812.8 1127.1,808.5 1130.0,804.2 1132.9,800.0 1135.8,795.8 1138.6,791.6 1141.5,787.6 1144.4,783.7 1147.3,779.9 1150.2,776.2 1153.1,772.8 1156.0,769.5 1158.9,766.5 1161.8,763.7 1164.7,761.1 1167.6,758.8 1170.5,756.6 1173.4,754.6 1176.3,752.8 1179.2,751.2 1182.1,749.7 1185.0,748.4 1187.9,747.3 1190.8,746.5 1193.7,746.0 1196.6,745.9 1199.5,746.1 1202.4,746.8 1205.3,747.9 1208.2,749.3 1211.0,751.1 1213.9,753.3 1216.8,755.9 1219.7,759.0 1222.6,762.4 1225.5,766.2 1228.4,770.4 1231.3,774.8 1234.2,779.5 1237.1,784.4 1240.0,789.5 1242.9,794.8 1245.8,800.3 1248.7,806.0 1251.6,811.8 1254.5,817.6 1257.4,823.5 1260.3,829.5 1263.2,835.5 1266.1,841.4 1269.0,847.4 1271.9,853.4 1274.8,859.4 1277.7,865.5 1280.6,871.6 1283.4,877.8 1286.3,884.0 1289.2,890.3 1292.1,896.6 1295.0,902.8 1297.9,908.9 1300.8,914.8 1303.7,920.5 1306.6,925.9 1309.5,931.0 1312.4,935.8 1315.3,940.3 1318.2,944.5 1321.1,948.5 1324.0,952.3 1326.9,955.8 1329.8,959.2 1332.7,962.4 1335.6,965.4 1338.5,968.2 1341.4,970.8 1344.3,973.3 1347.2,975.6 1350.1,977.8 1353.0,979.8 1355.8,981.8 1358.7,983.6 1361.6,985.3 1364.5,987.0 1367.4,988.5 1370.3,989.9 1373.2,991.2 1376.1,992.4 1379.0,993.5 1381.9,994.5 1384.8,995.5 1387.7,996.3 1390.6,997.1 1393.5,997.9 1396.4,998.6 1399.3,999.3 1402.2,999.9 1405.1,1000.4 1408.0,1001.0 1410.9,1001.4 1413.8,1001.9 1416.7,1002.3 1419.6,1002.7 1422.5,1003.1 1425.4,1003.4 1428.2,1003.7 1431.1,1004.0 1434.0,1004.3 1436.9,1004.6 1439.8,1004.8 1442.7,1005.0 1445.6,1005.2 1448.5,1005.4 1451.4,1005.6 1454.3,1005.8 1457.2,1005.9 1460.1,1006.1 1463.0,1006.2 1465.9,1006.3 1468.8,1006.4 1471.7,1006.5 1474.6,1006.6 1477.5,1006.7 1480.4,1006.7 1483.3,1006.8 1486.2,1006.8 1489.1,1006.9 1492.0,1006.9 1494.9,1007.0 1497.8,1007.0 1500.6,1007.0 1503.5,1007.0 1506.4,1007.1 1509.3,1007.1 1512.2,1007.1 1515.1,1007.1 1518.0,1007.1 1520.9,1007.2 1523.8,1007.2 1526.7,1007.2 1529.6,1007.2 1532.5,1007.2 1535.4,1007.2 1538.3,1007.2 1541.2,1007.2 1544.1,1007.2 1547.0,1007.2 1549.9,1007.3 1552.8,1007.3 1555.7,1007.3 1558.6,1007.3 1561.5,1007.3 1564.4,1007.3 1567.3,1007.3 1570.2,1007.3 1573.0,1007.3 1575.9,1007.3 1578.8,1007.3 1581.7,1007.4 1584.6,1007.4 1587.5,1007.4 1590.4,1007.4 1593.3,1007.4 1596.2,1007.4 1599.1,1007.4 1602.0,1007.4 1604.9,1007.4 1607.8,1007.4 1610.7,1007.4 1613.6,1007.5 1616.5,1007.5 1619.4,1007.5 1622.3,1007.5 1625.2,1007.5 1628.1,1007.5 1631.0,1007.5 1633.9,1007.5 1636.8,1007.5 1639.7,1007.5 1642.6,1007.5 1645.4,1007.5 1648.3,1007.6 1651.2,1007.6 1654.1,1007.6 1657.0,1007.6 1659.9,1007.6 1662.8,1007.6 1665.7,1007.6 1668.6,1007.6 1671.5,1007.6 1674.4,1007.6 1677.3,1007.6 1680.2,1007.6 1683.1,1007.6 1686.0,1007.7 1688.9,1007.7 1691.8,1007.7 1694.7,1007.7 1697.6,1007.7 1700.5,1007.7 1703.4,1007.7 1706.3,1007.7 1709.2,1007.7 1712.1,1007.7 1715.0,1007.7 1717.8,1007.7 1720.7,1007.7 1723.6,1007.8 1726.5,1007.8 1729.4,1007.8 1732.3,1007.8 1735.2,1007.8 1738.1,1007.8 1741.0,1007.8 1743.9,1007.8 1746.8,1007.8 1749.7,1007.8 1752.6,1007.8 1755.5,1007.8 1758.4,1007.8 1761.3,1007.8 1764.2,1007.9 1767.1,1007.9 1770.0,1007.9 1772.9,1007.9 1775.8,1007.9 1778.7,1007.9 1781.6,1007.9 1784.5,1007.9 1787.4,1007.9 1790.2,1007.9 1793.1,1007.9 1796.0,1007.9 1798.9,1007.9 1801.8,1007.9 1804.7,1007.9 1807.6,1008.0 1810.5,1008.0 1813.4,1008.0 1816.3,1008.0 1819.2,1008.0 1822.1,1008.0 1825.0,1008.0 1827.9,1008.0 1830.8,1008.0 1833.7,1008.0 1836.6,1008.0 1839.5,1008.0 1842.4,1008.0 1845.3,1008.0 1848.2,1008.0 1851.1,1008.0 1854.0,1008.1 1856.9,1008.1 1859.8,1008.1 1862.6,1008.1 1865.5,1008.1 1868.4,1008.1 1871.3,1008.1 1874.2,1008.1 1877.1,1008.1 1880.0,1008.1 1882.9,1008.1 1885.8,1008.1 1888.7,1008.1 1891.6,1008.1 1894.5,1008.1 1897.4,1008.1 1900.3,1008.1 1903.2,1008.2 1906.1,1008.2 1909.0,1008.2 1911.9,1008.2 1914.8,1008.2 1917.7,1008.2 1920.6,1008.2 1923.5,1008.2 1926.4,1008.2 1929.3,1008.2 1932.2,1008.2 1935.0,1008.2 1937.9,1008.2 1940.8,1008.2 1943.7,1008.2 1946.6,1008.2 1949.5,1008.2 1952.4,1008.2 1955.3,1008.3 1958.2,1008.3 1961.1,1008.3 1964.0,1008.3 1966.9,1008.3 1969.8,1008.3 1972.7,1008.3 1975.6,1008.3 1978.5,1008.3 1981.4,1008.3 1984.3,1008.3 1987.2,1008.3 1990.1,1008.3 1993.0,1008.3 1995.9,1008.3 1998.8,1008.3 2001.7,1008.3 2004.6,1008.3 2007.4,1008.3 2010.3,1008.4 2013.2,1008.4 2016.1,1008.4 2019.0,1008.4 2021.9,1008.4 2024.8,1008.4 2027.7,1008.4 2030.6,1008.4 2033.5,1008.4 2036.4,1008.4 2039.3,1008.4 2042.2,1008.4" fill="none" stroke="#000" stroke-width="3.3" stroke-linejoin="round"/>
<polyline points="304.6,996.1 307.5,996.2 310.4,996.3 313.3,996.4 316.2,996.4 319.1,996.5 322.0,996.6 324.9,996.6 327.8,996.7 330.7,996.8 333.6,996.8 336.5,996.9 339.4,997.0 342.2,997.0 345.1,997.1 348.0,997.2 350.9,997.2 353.8,997.3 356.7,997.4 359.6,997.4 362.5,997.5 365.4,997.5 368.3,997.6 371.2,997.7 374.1,997.7 377.0,997.8 379.9,997.9 382.8,997.9 385.7,998.0 388.6,998.0 391.5,998.1 394.4,998.2 397.3,998.2 400.2,998.3 403.1,998.3 406.0,998.4 408.9,998.4 411.8,998.5 414.6,998.6 417.5,998.6 420.4,998.7 423.3,998.7 426.2,998.8 429.1,998.8 432.0,998.9 434.9,998.9 437.8,999.0 440.7,999.1 443.6,999.1 446.5,999.2 449.4,999.2 452.3,999.3 455.2,999.3 458.1,999.4 461.0,999.4 463.9,999.5 466.8,999.5 469.7,999.6 472.6,999.6 475.5,999.7 478.4,999.7 481.3,999.8 484.2,999.8 487.0,999.9 489.9,999.9 492.8,1000.0 495.7,1000.0 498.6,1000.0 501.5,1000.1 504.4,1000.1 507.3,1000.2 510.2,1000.2 513.1,1000.2 516.0,1000.3 518.9,1000.3 521.8,1000.3 524.7,1000.4 527.6,1000.4 530.5,1000.4 533.4,1000.5 536.3,1000.5 539.2,1000.5 542.1,1000.5 545.0,1000.6 547.9,1000.6 550.8,1000.6 553.7,1000.6 556.6,1000.7 559.4,1000.7 562.3,1000.7 565.2,1000.7 568.1,1000.7 571.0,1000.8 573.9,1000.8 576.8,1000.8 579.7,1000.8 582.6,1000.8 585.5,1000.8 588.4,1000.8 591.3,1000.8 594.2,1000.8 597.1,1000.8 600.0,1000.8 602.9,1000.8 605.8,1000.8 608.7,1000.8 611.6,1000.7 614.5,1000.7 617.4,1000.6 620.3,1000.6 623.2,1000.5 626.1,1000.4 629.0,1000.4 631.8,1000.3 634.7,1000.2 637.6,1000.1 640.5,1000.0 643.4,999.9 646.3,999.8 649.2,999.7 652.1,999.6 655.0,999.5 657.9,999.3 660.8,999.2 663.7,999.1 666.6,999.0 669.5,998.8 672.4,998.7 675.3,998.6 678.2,998.4 681.1,998.3 684.0,998.1 686.9,997.9 689.8,997.8 692.7,997.6 695.6,997.4 698.5,997.2 701.4,997.0 704.2,996.8 707.1,996.5 710.0,996.3 712.9,996.1 715.8,995.9 718.7,995.7 721.6,995.5 724.5,995.3 727.4,995.1 730.3,994.9 733.2,994.8 736.1,994.6 739.0,994.4 741.9,994.2 744.8,994.0 747.7,993.8 750.6,993.6 753.5,993.4 756.4,993.2 759.3,993.0 762.2,992.8 765.1,992.6 768.0,992.3 770.9,992.1 773.8,991.9 776.6,991.6 779.5,991.4 782.4,991.1 785.3,990.8 788.2,990.6 791.1,990.3 794.0,990.0 796.9,989.7 799.8,989.4 802.7,989.1 805.6,988.7 808.5,988.4 811.4,988.0 814.3,987.6 817.2,987.2 820.1,986.8 823.0,986.4 825.9,985.9 828.8,985.5 831.7,985.0 834.6,984.5 837.5,983.9 840.4,983.4 843.3,982.8 846.2,982.2 849.0,981.5 851.9,980.8 854.8,980.1 857.7,979.4 860.6,978.6 863.5,977.8 866.4,977.0 869.3,976.1 872.2,975.1 875.1,974.2 878.0,973.2 880.9,972.2 883.8,971.1 886.7,970.0 889.6,968.8 892.5,967.6 895.4,966.4 898.3,965.1 901.2,963.8 904.1,962.5 907.0,961.2 909.9,959.9 912.8,958.6 915.7,957.2 918.6,955.9 921.4,954.6 924.3,953.2 927.2,951.9 930.1,950.5 933.0,949.2 935.9,947.9 938.8,946.6 941.7,945.3 944.6,944.1 947.5,942.9 950.4,941.7 953.3,940.5 956.2,939.4 959.1,938.3 962.0,937.2 964.9,936.2 967.8,935.2 970.7,934.3 973.6,933.4 976.5,932.7 979.4,932.0 982.3,931.4 985.2,930.9 988.1,930.4 991.0,930.0 993.8,929.6 996.7,929.2 999.6,928.8 1002.5,928.4 1005.4,928.0 1008.3,927.5 1011.2,927.1 1014.1,926.6 1017.0,926.1 1019.9,925.6 1022.8,925.1 1025.7,924.5 1028.6,923.9 1031.5,923.2 1034.4,922.5 1037.3,921.7 1040.2,920.8 1043.1,919.9 1046.0,918.8 1048.9,917.7 1051.8,916.5 1054.7,915.1 1057.6,913.7 1060.5,912.2 1063.4,910.5 1066.2,908.7 1069.1,906.7 1072.0,904.6 1074.9,902.4 1077.8,900.0 1080.7,897.4 1083.6,894.8 1086.5,892.0 1089.4,889.0 1092.3,886.0 1095.2,882.8 1098.1,879.5 1101.0,876.1 1103.9,872.6 1106.8,869.0 1109.7,865.4 1112.6,861.9 1115.5,858.3 1118.4,854.8 1121.3,851.2 1124.2,847.7 1127.1,844.2 1130.0,840.6 1132.9,837.1 1135.8,833.7 1138.6,830.3 1141.5,827.0 1144.4,823.7 1147.3,820.6 1150.2,817.6 1153.1,814.8 1156.0,812.1 1158.9,809.6 1161.8,807.3 1164.7,805.2 1167.6,803.3 1170.5,801.5 1173.4,799.8 1176.3,798.4 1179.2,797.0 1182.1,795.8 1185.0,794.7 1187.9,793.8 1190.8,793.2 1193.7,792.8 1196.6,792.7 1199.5,792.9 1202.4,793.4 1205.3,794.3 1208.2,795.5 1211.0,797.0 1213.9,798.8 1216.8,800.9 1219.7,803.4 1222.6,806.3 1225.5,809.4 1228.4,812.8 1231.3,816.5 1234.2,820.3 1237.1,824.4 1240.0,828.6 1242.9,833.0 1245.8,837.5 1248.7,842.2 1251.6,846.9 1254.5,851.7 1257.4,856.6 1260.3,861.5 1263.2,866.4 1266.1,871.3 1269.0,876.3 1271.9,881.2 1274.8,886.1 1277.7,891.1 1280.6,896.1 1283.4,901.2 1286.3,906.4 1289.2,911.5 1292.1,916.7 1295.0,921.9 1297.9,926.9 1300.8,931.7 1303.7,936.4 1306.6,940.8 1309.5,945.0 1312.4,949.0 1315.3,952.7 1318.2,956.1 1321.1,959.4 1324.0,962.5 1326.9,965.5 1329.8,968.3 1332.7,970.9 1335.6,973.4 1338.5,975.7 1341.4,977.8 1344.3,979.8 1347.2,981.7 1350.1,983.5 1353.0,985.2 1355.8,986.8 1358.7,988.3 1361.6,989.8 1364.5,991.1 1367.4,992.4 1370.3,993.5 1373.2,994.6 1376.1,995.6 1379.0,996.5 1381.9,997.3 1384.8,998.1 1387.7,998.8 1390.6,999.5 1393.5,1000.1 1396.4,1000.7 1399.3,1001.2 1402.2,1001.7 1405.1,1002.2 1408.0,1002.6 1410.9,1003.0 1413.8,1003.4 1416.7,1003.7 1419.6,1004.1 1422.5,1004.4 1425.4,1004.7 1428.2,1004.9 1431.1,1005.2 1434.0,1005.4 1436.9,1005.6 1439.8,1005.8 1442.7,1006.0 1445.6,1006.2 1448.5,1006.3 1451.4,1006.5 1454.3,1006.6 1457.2,1006.7 1460.1,1006.9 1463.0,1007.0 1465.9,1007.1 1468.8,1007.2 1471.7,1007.2 1474.6,1007.3 1477.5,1007.4 1480.4,1007.4 1483.3,1007.5 1486.2,1007.5 1489.1,1007.5 1492.0,1007.6 1494.9,1007.6 1497.8,1007.6 1500.6,1007.6 1503.5,1007.7 1506.4,1007.7 1509.3,1007.7 1512.2,1007.7 1515.1,1007.7 1518.0,1007.8 1520.9,1007.8 1523.8,1007.8 1526.7,1007.8 1529.6,1007.8 1532.5,1007.8 1535.4,1007.8 1538.3,1007.8 1541.2,1007.8 1544.1,1007.8 1547.0,1007.9 1549.9,1007.9 1552.8,1007.9 1555.7,1007.9 1558.6,1007.9 1561.5,1007.9 1564.4,1007.9 1567.3,1007.9 1570.2,1007.9 1573.0,1007.9 1575.9,1007.9 1578.8,1007.9 1581.7,1007.9 1584.6,1008.0 1587.5,1008.0 1590.4,1008.0 1593.3,1008.0 1596.2,1008.0 1599.1,1008.0 1602.0,1008.0 1604.9,1008.0 1607.8,1008.0 1610.7,1008.0 1613.6,1008.0 1616.5,1008.0 1619.4,1008.0 1622.3,1008.1 1625.2,1008.1 1628.1,1008.1 1631.0,1008.1 1633.9,1008.1 1636.8,1008.1 1639.7,1008.1 1642.6,1008.1 1645.4,1008.1 1648.3,1008.1 1651.2,1008.1 1654.1,1008.1 1657.0,1008.1 1659.9,1008.2 1662.8,1008.2 1665.7,1008.2 1668.6,1008.2 1671.5,1008.2 1674.4,1008.2 1677.3,1008.2 1680.2,1008.2 1683.1,1008.2 1686.0,1008.2 1688.9,1008.2 1691.8,1008.2 1694.7,1008.2 1697.6,1008.2 1700.5,1008.2 1703.4,1008.3 1706.3,1008.3 1709.2,1008.3 1712.1,1008.3 1715.0,1008.3 1717.8,1008.3 1720.7,1008.3 1723.6,1008.3 1726.5,1008.3 1729.4,1008.3 1732.3,1008.3 1735.2,1008.3 1738.1,1008.3 1741.0,1008.3 1743.9,1008.3 1746.8,1008.4 1749.7,1008.4 1752.6,1008.4 1755.5,1008.4 1758.4,1008.4 1761.3,1008.4 1764.2,1008.4 1767.1,1008.4 1770.0,1008.4 1772.9,1008.4 1775.8,1008.4 1778.7,1008.4 1781.6,1008.4 1784.5,1008.4 1787.4,1008.4 1790.2,1008.4 1793.1,1008.5 1796.0,1008.5 1798.9,1008.5 1801.8,1008.5 1804.7,1008.5 1807.6,1008.5 1810.5,1008.5 1813.4,1008.5 1816.3,1008.5 1819.2,1008.5 1822.1,1008.5 1825.0,1008.5 1827.9,1008.5 1830.8,1008.5 1833.7,1008.5 1836.6,1008.5 1839.5,1008.5 1842.4,1008.6 1845.3,1008.6 1848.2,1008.6 1851.1,1008.6 1854.0,1008.6 1856.9,1008.6 1859.8,1008.6 1862.6,1008.6 1865.5,1008.6 1868.4,1008.6 1871.3,1008.6 1874.2,1008.6 1877.1,1008.6 1880.0,1008.6 1882.9,1008.6 1885.8,1008.6 1888.7,1008.6 1891.6,1008.6 1894.5,1008.6 1897.4,1008.7 1900.3,1008.7 1903.2,1008.7 1906.1,1008.7 1909.0,1008.7 1911.9,1008.7 1914.8,1008.7 1917.7,1008.7 1920.6,1008.7 1923.5,1008.7 1926.4,1008.7 1929.3,1008.7 1932.2,1008.7 1935.0,1008.7 1937.9,1008.7 1940.8,1008.7 1943.7,1008.7 1946.6,1008.7 1949.5,1008.7 1952.4,1008.7 1955.3,1008.8 1958.2,1008.8 1961.1,1008.8 1964.0,1008.8 1966.9,1008.8 1969.8,1008.8 1972.7,1008.8 1975.6,1008.8 1978.5,1008.8 1981.4,1008.8 1984.3,1008.8 1987.2,1008.8 1990.1,1008.8 1993.0,1008.8 1995.9,1008.8 1998.8,1008.8 2001.7,1008.8 2004.6,1008.8 2007.4,1008.8 2010.3,1008.8 2013.2,1008.8 2016.1,1008.9 2019.0,1008.9 2021.9,1008.9 2024.8,1008.9 2027.7,1008.9 2030.6,1008.9 2033.5,1008.9 2036.4,1008.9 2039.3,1008.9 2042.2,1008.9" fill="none" stroke="#000" stroke-width="3.3" stroke-linejoin="round"/>
<polyline points="304.6,999.2 307.5,999.2 310.4,999.3 313.3,999.3 316.2,999.4 319.1,999.4 322.0,999.5 324.9,999.6 327.8,999.6 330.7,999.7 333.6,999.7 336.5,999.8 339.4,999.8 342.2,999.9 345.1,1000.0 348.0,1000.0 350.9,1000.1 353.8,1000.1 356.7,1000.2 359.6,1000.2 362.5,1000.3 365.4,1000.3 368.3,1000.4 371.2,1000.4 374.1,1000.5 377.0,1000.5 379.9,1000.6 382.8,1000.6 385.7,1000.7 388.6,1000.7 391.5,1000.8 394.4,1000.8 397.3,1000.9 400.2,1000.9 403.1,1001.0 406.0,1001.0 408.9,1001.1 411.8,1001.1 414.6,1001.2 417.5,1001.2 420.4,1001.3 423.3,1001.3 426.2,1001.4 429.1,1001.4 432.0,1001.4 434.9,1001.5 437.8,1001.5 440.7,1001.6 443.6,1001.6 446.5,1001.7 449.4,1001.7 452.3,1001.8 455.2,1001.8 458.1,1001.8 461.0,1001.9 463.9,1001.9 466.8,1002.0 469.7,1002.0 472.6,1002.1 475.5,1002.1 478.4,1002.1 481.3,1002.2 484.2,1002.2 487.0,1002.3 489.9,1002.3 492.8,1002.3 495.7,1002.4 498.6,1002.4 501.5,1002.4 504.4,1002.5 507.3,1002.5 510.2,1002.5 513.1,1002.6 516.0,1002.6 518.9,1002.6 521.8,1002.7 524.7,1002.7 527.6,1002.7 530.5,1002.7 533.4,1002.8 536.3,1002.8 539.2,1002.8 542.1,1002.8 545.0,1002.9 547.9,1002.9 550.8,1002.9 553.7,1002.9 556.6,1002.9 559.4,1003.0 562.3,1003.0 565.2,1003.0 568.1,1003.0 571.0,1003.0 573.9,1003.0 576.8,1003.1 579.7,1003.1 582.6,1003.1 585.5,1003.1 588.4,1003.1 591.3,1003.1 594.2,1003.1 597.1,1003.1 600.0,1003.1 602.9,1003.1 605.8,1003.1 608.7,1003.1 611.6,1003.0 614.5,1003.0 617.4,1003.0 620.3,1002.9 623.2,1002.9 626.1,1002.8 629.0,1002.8 631.8,1002.7 634.7,1002.6 637.6,1002.6 640.5,1002.5 643.4,1002.4 646.3,1002.3 649.2,1002.3 652.1,1002.2 655.0,1002.1 657.9,1002.0 660.8,1001.9 663.7,1001.8 666.6,1001.7 669.5,1001.6 672.4,1001.5 675.3,1001.4 678.2,1001.3 681.1,1001.2 684.0,1001.1 686.9,1000.9 689.8,1000.8 692.7,1000.7 695.6,1000.5 698.5,1000.4 701.4,1000.2 704.2,1000.0 707.1,999.9 710.0,999.7 712.9,999.5 715.8,999.4 718.7,999.2 721.6,999.1 724.5,998.9 727.4,998.8 730.3,998.7 733.2,998.5 736.1,998.4 739.0,998.2 741.9,998.1 744.8,997.9 747.7,997.8 750.6,997.6 753.5,997.5 756.4,997.3 759.3,997.2 762.2,997.0 765.1,996.8 768.0,996.7 770.9,996.5 773.8,996.3 776.6,996.1 779.5,995.9 782.4,995.7 785.3,995.5 788.2,995.3 791.1,995.1 794.0,994.9 796.9,994.6 799.8,994.4 802.7,994.2 805.6,993.9 808.5,993.6 811.4,993.4 814.3,993.1 817.2,992.8 820.1,992.4 823.0,992.1 825.9,991.8 828.8,991.4 831.7,991.0 834.6,990.6 837.5,990.2 840.4,989.8 843.3,989.3 846.2,988.8 849.0,988.3 851.9,987.8 854.8,987.3 857.7,986.7 860.6,986.1 863.5,985.5 866.4,984.8 869.3,984.2 872.2,983.4 875.1,982.7 878.0,981.9 880.9,981.1 883.8,980.3 886.7,979.5 889.6,978.6 892.5,977.6 895.4,976.7 898.3,975.7 901.2,974.7 904.1,973.7 907.0,972.7 909.9,971.7 912.8,970.6 915.7,969.6 918.6,968.6 921.4,967.6 924.3,966.5 927.2,965.5 930.1,964.5 933.0,963.4 935.9,962.4 938.8,961.4 941.7,960.4 944.6,959.5 947.5,958.6 950.4,957.6 953.3,956.8 956.2,955.9 959.1,955.0 962.0,954.2 964.9,953.4 967.8,952.6 970.7,951.9 973.6,951.3 976.5,950.7 979.4,950.2 982.3,949.7 985.2,949.3 988.1,948.9 991.0,948.6 993.8,948.3 996.7,948.0 999.6,947.7 1002.5,947.4 1005.4,947.1 1008.3,946.7 1011.2,946.4 1014.1,946.0 1017.0,945.6 1019.9,945.2 1022.8,944.8 1025.7,944.4 1028.6,943.9 1031.5,943.4 1034.4,942.8 1037.3,942.2 1040.2,941.6 1043.1,940.8 1046.0,940.0 1048.9,939.2 1051.8,938.2 1054.7,937.2 1057.6,936.1 1060.5,934.9 1063.4,933.6 1066.2,932.2 1069.1,930.7 1072.0,929.1 1074.9,927.3 1077.8,925.5 1080.7,923.5 1083.6,921.4 1086.5,919.3 1089.4,917.0 1092.3,914.7 1095.2,912.2 1098.1,909.7 1101.0,907.1 1103.9,904.3 1106.8,901.6 1109.7,898.8 1112.6,896.0 1115.5,893.3 1118.4,890.6 1121.3,887.8 1124.2,885.1 1127.1,882.4 1130.0,879.7 1132.9,877.0 1135.8,874.3 1138.6,871.7 1141.5,869.1 1144.4,866.6 1147.3,864.2 1150.2,861.9 1153.1,859.7 1156.0,857.6 1158.9,855.7 1161.8,853.9 1164.7,852.3 1167.6,850.8 1170.5,849.4 1173.4,848.2 1176.3,847.0 1179.2,846.0 1182.1,845.0 1185.0,844.2 1187.9,843.5 1190.8,843.0 1193.7,842.7 1196.6,842.6 1199.5,842.8 1202.4,843.2 1205.3,843.9 1208.2,844.8 1211.0,846.0 1213.9,847.4 1216.8,849.0 1219.7,850.9 1222.6,853.1 1225.5,855.6 1228.4,858.2 1231.3,861.0 1234.2,864.0 1237.1,867.1 1240.0,870.4 1242.9,873.8 1245.8,877.3 1248.7,880.9 1251.6,884.5 1254.5,888.3 1257.4,892.0 1260.3,895.8 1263.2,899.6 1266.1,903.4 1269.0,907.2 1271.9,911.0 1274.8,914.8 1277.7,918.7 1280.6,922.6 1283.4,926.5 1286.3,930.5 1289.2,934.5 1292.1,938.5 1295.0,942.4 1297.9,946.3 1300.8,950.1 1303.7,953.7 1306.6,957.1 1309.5,960.3 1312.4,963.4 1315.3,966.2 1318.2,968.9 1321.1,971.5 1324.0,973.9 1326.9,976.1 1329.8,978.3 1332.7,980.3 1335.6,982.2 1338.5,984.0 1341.4,985.7 1344.3,987.2 1347.2,988.7 1350.1,990.1 1353.0,991.4 1355.8,992.6 1358.7,993.8 1361.6,994.9 1364.5,995.9 1367.4,996.9 1370.3,997.8 1373.2,998.6 1376.1,999.4 1379.0,1000.1 1381.9,1000.8 1384.8,1001.3 1387.7,1001.9 1390.6,1002.4 1393.5,1002.9 1396.4,1003.4 1399.3,1003.8 1402.2,1004.2 1405.1,1004.5 1408.0,1004.9 1410.9,1005.2 1413.8,1005.4 1416.7,1005.7 1419.6,1006.0 1422.5,1006.2 1425.4,1006.4 1428.2,1006.6 1431.1,1006.8 1434.0,1007.0 1436.9,1007.2 1439.8,1007.3 1442.7,1007.5 1445.6,1007.6 1448.5,1007.7 1451.4,1007.8 1454.3,1007.9 1457.2,1008.0 1460.1,1008.1 1463.0,1008.2 1465.9,1008.3 1468.8,1008.4 1471.7,1008.4 1474.6,1008.5 1477.5,1008.5 1480.4,1008.6 1483.3,1008.6 1486.2,1008.6 1489.1,1008.7 1492.0,1008.7 1494.9,1008.7 1497.8,1008.7 1500.6,1008.7 1503.5,1008.8 1506.4,1008.8 1509.3,1008.8 1512.2,1008.8 1515.1,1008.8 1518.0,1008.8 1520.9,1008.8 1523.8,1008.9 1526.7,1008.9 1529.6,1008.9 1532.5,1008.9 1535.4,1008.9 1538.3,1008.9 1541.2,1008.9 1544.1,1008.9 1547.0,1008.9 1549.9,1008.9 1552.8,1008.9 1555.7,1008.9 1558.6,1008.9 1561.5,1008.9 1564.4,1009.0 1567.3,1009.0 1570.2,1009.0 1573.0,1009.0 1575.9,1009.0 1578.8,1009.0 1581.7,1009.0 1584.6,1009.0 1587.5,1009.0 1590.4,1009.0 1593.3,1009.0 1596.2,1009.0 1599.1,1009.0 1602.0,1009.0 1604.9,1009.0 1607.8,1009.1 1610.7,1009.1 1613.6,1009.1 1616.5,1009.1 1619.4,1009.1 1622.3,1009.1 1625.2,1009.1 1628.1,1009.1 1631.0,1009.1 1633.9,1009.1 1636.8,1009.1 1639.7,1009.1 1642.6,1009.1 1645.4,1009.1 1648.3,1009.1 1651.2,1009.1 1654.1,1009.2 1657.0,1009.2 1659.9,1009.2 1662.8,1009.2 1665.7,1009.2 1668.6,1009.2 1671.5,1009.2 1674.4,1009.2 1677.3,1009.2 1680.2,1009.2 1683.1,1009.2 1686.0,1009.2 1688.9,1009.2 1691.8,1009.2 1694.7,1009.2 1697.6,1009.2 1700.5,1009.2 1703.4,1009.3 1706.3,1009.3 1709.2,1009.3 1712.1,1009.3 1715.0,1009.3 1717.8,1009.3 1720.7,1009.3 1723.6,1009.3 1726.5,1009.3 1729.4,1009.3 1732.3,1009.3 1735.2,1009.3 1738.1,1009.3 1741.0,1009.3 1743.9,1009.3 1746.8,1009.3 1749.7,1009.3 1752.6,1009.3 1755.5,1009.3 1758.4,1009.4 1761.3,1009.4 1764.2,1009.4 1767.1,1009.4 1770.0,1009.4 1772.9,1009.4 1775.8,1009.4 1778.7,1009.4 1781.6,1009.4 1784.5,1009.4 1787.4,1009.4 1790.2,1009.4 1793.1,1009.4 1796.0,1009.4 1798.9,1009.4 1801.8,1009.4 1804.7,1009.4 1807.6,1009.4 1810.5,1009.4 1813.4,1009.4 1816.3,1009.5 1819.2,1009.5 1822.1,1009.5 1825.0,1009.5 1827.9,1009.5 1830.8,1009.5 1833.7,1009.5 1836.6,1009.5 1839.5,1009.5 1842.4,1009.5 1845.3,1009.5 1848.2,1009.5 1851.1,1009.5 1854.0,1009.5 1856.9,1009.5 1859.8,1009.5 1862.6,1009.5 1865.5,1009.5 1868.4,1009.5 1871.3,1009.5 1874.2,1009.5 1877.1,1009.6 1880.0,1009.6 1882.9,1009.6 1885.8,1009.6 1888.7,1009.6 1891.6,1009.6 1894.5,1009.6 1897.4,1009.6 1900.3,1009.6 1903.2,1009.6 1906.1,1009.6 1909.0,1009.6 1911.9,1009.6 1914.8,1009.6 1917.7,1009.6 1920.6,1009.6 1923.5,1009.6 1926.4,1009.6 1929.3,1009.6 1932.2,1009.6 1935.0,1009.6 1937.9,1009.6 1940.8,1009.6 1943.7,1009.6 1946.6,1009.7 1949.5,1009.7 1952.4,1009.7 1955.3,1009.7 1958.2,1009.7 1961.1,1009.7 1964.0,1009.7 1966.9,1009.7 1969.8,1009.7 1972.7,1009.7 1975.6,1009.7 1978.5,1009.7 1981.4,1009.7 1984.3,1009.7 1987.2,1009.7 1990.1,1009.7 1993.0,1009.7 1995.9,1009.7 1998.8,1009.7 2001.7,1009.7 2004.6,1009.7 2007.4,1009.7 2010.3,1009.7 2013.2,1009.7 2016.1,1009.7 2019.0,1009.8 2021.9,1009.8 2024.8,1009.8 2027.7,1009.8 2030.6,1009.8 2033.5,1009.8 2036.4,1009.8 2039.3,1009.8 2042.2,1009.8" fill="none" stroke="#000" stroke-width="3.3" stroke-linejoin="round"/>
<polyline points="304.6,1001.2 307.5,1001.3 310.4,1001.3 313.3,1001.4 316.2,1001.4 319.1,1001.5 322.0,1001.5 324.9,1001.6 327.8,1001.6 330.7,1001.7 333.6,1001.7 336.5,1001.8 339.4,1001.8 342.2,1001.9 345.1,1001.9 348.0,1002.0 350.9,1002.0 353.8,1002.0 356.7,1002.1 359.6,1002.1 362.5,1002.2 365.4,1002.2 368.3,1002.3 371.2,1002.3 374.1,1002.4 377.0,1002.4 379.9,1002.5 382.8,1002.5 385.7,1002.5 388.6,1002.6 391.5,1002.6 394.4,1002.7 397.3,1002.7 400.2,1002.8 403.1,1002.8 406.0,1002.8 408.9,1002.9 411.8,1002.9 414.6,1003.0 417.5,1003.0 420.4,1003.0 423.3,1003.1 426.2,1003.1 429.1,1003.2 432.0,1003.2 434.9,1003.2 437.8,1003.3 440.7,1003.3 443.6,1003.4 446.5,1003.4 449.4,1003.4 452.3,1003.5 455.2,1003.5 458.1,1003.5 461.0,1003.6 463.9,1003.6 466.8,1003.7 469.7,1003.7 472.6,1003.7 475.5,1003.8 478.4,1003.8 481.3,1003.8 484.2,1003.9 487.0,1003.9 489.9,1003.9 492.8,1004.0 495.7,1004.0 498.6,1004.0 501.5,1004.1 504.4,1004.1 507.3,1004.1 510.2,1004.2 513.1,1004.2 516.0,1004.2 518.9,1004.2 521.8,1004.3 524.7,1004.3 527.6,1004.3 530.5,1004.3 533.4,1004.4 536.3,1004.4 539.2,1004.4 542.1,1004.4 545.0,1004.5 547.9,1004.5 550.8,1004.5 553.7,1004.5 556.6,1004.5 559.4,1004.6 562.3,1004.6 565.2,1004.6 568.1,1004.6 571.0,1004.6 573.9,1004.6 576.8,1004.7 579.7,1004.7 582.6,1004.7 585.5,1004.7 588.4,1004.7 591.3,1004.7 594.2,1004.7 597.1,1004.7 600.0,1004.7 602.9,1004.7 605.8,1004.7 608.7,1004.7 611.6,1004.7 614.5,1004.7 617.4,1004.7 620.3,1004.7 623.2,1004.6 626.1,1004.6 629.0,1004.6 631.8,1004.5 634.7,1004.5 637.6,1004.4 640.5,1004.4 643.4,1004.3 646.3,1004.3 649.2,1004.2 652.1,1004.2 655.0,1004.1 657.9,1004.1 660.8,1004.0 663.7,1003.9 666.6,1003.9 669.5,1003.8 672.4,1003.8 675.3,1003.7 678.2,1003.6 681.1,1003.5 684.0,1003.5 686.9,1003.4 689.8,1003.3 692.7,1003.2 695.6,1003.1 698.5,1003.0 701.4,1002.9 704.2,1002.8 707.1,1002.7 710.0,1002.6 712.9,1002.5 715.8,1002.3 718.7,1002.2 721.6,1002.1 724.5,1002.0 727.4,1002.0 730.3,1001.9 733.2,1001.8 736.1,1001.7 739.0,1001.6 741.9,1001.5 744.8,1001.4 747.7,1001.3 750.6,1001.2 753.5,1001.1 756.4,1001.0 759.3,1000.9 762.2,1000.7 765.1,1000.6 768.0,1000.5 770.9,1000.4 773.8,1000.3 776.6,1000.2 779.5,1000.0 782.4,999.9 785.3,999.8 788.2,999.6 791.1,999.5 794.0,999.3 796.9,999.2 799.8,999.0 802.7,998.8 805.6,998.6 808.5,998.5 811.4,998.3 814.3,998.1 817.2,997.9 820.1,997.6 823.0,997.4 825.9,997.2 828.8,996.9 831.7,996.7 834.6,996.4 837.5,996.1 840.4,995.8 843.3,995.5 846.2,995.2 849.0,994.8 851.9,994.5 854.8,994.1 857.7,993.7 860.6,993.3 863.5,992.9 866.4,992.4 869.3,991.9 872.2,991.4 875.1,990.9 878.0,990.4 880.9,989.8 883.8,989.3 886.7,988.7 889.6,988.1 892.5,987.4 895.4,986.8 898.3,986.1 901.2,985.4 904.1,984.7 907.0,984.0 909.9,983.3 912.8,982.6 915.7,981.8 918.6,981.1 921.4,980.4 924.3,979.7 927.2,979.0 930.1,978.3 933.0,977.6 935.9,976.8 938.8,976.2 941.7,975.5 944.6,974.8 947.5,974.2 950.4,973.5 953.3,972.9 956.2,972.3 959.1,971.7 962.0,971.1 964.9,970.6 967.8,970.1 970.7,969.6 973.6,969.1 976.5,968.7 979.4,968.4 982.3,968.0 985.2,967.8 988.1,967.5 991.0,967.3 993.8,967.1 996.7,966.9 999.6,966.6 1002.5,966.4 1005.4,966.2 1008.3,966.0 1011.2,965.7 1014.1,965.5 1017.0,965.2 1019.9,965.0 1022.8,964.7 1025.7,964.4 1028.6,964.0 1031.5,963.7 1034.4,963.3 1037.3,962.9 1040.2,962.4 1043.1,961.9 1046.0,961.3 1048.9,960.7 1051.8,960.1 1054.7,959.4 1057.6,958.6 1060.5,957.8 1063.4,956.9 1066.2,955.9 1069.1,954.8 1072.0,953.7 1074.9,952.5 1077.8,951.2 1080.7,949.9 1083.6,948.4 1086.5,946.9 1089.4,945.3 1092.3,943.7 1095.2,942.0 1098.1,940.2 1101.0,938.4 1103.9,936.5 1106.8,934.6 1109.7,932.6 1112.6,930.7 1115.5,928.8 1118.4,926.9 1121.3,925.0 1124.2,923.1 1127.1,921.2 1130.0,919.3 1132.9,917.4 1135.8,915.6 1138.6,913.7 1141.5,912.0 1144.4,910.2 1147.3,908.5 1150.2,906.9 1153.1,905.4 1156.0,904.0 1158.9,902.6 1161.8,901.4 1164.7,900.3 1167.6,899.2 1170.5,898.3 1173.4,897.4 1176.3,896.6 1179.2,895.8 1182.1,895.2 1185.0,894.6 1187.9,894.1 1190.8,893.8 1193.7,893.6 1196.6,893.5 1199.5,893.7 1202.4,894.0 1205.3,894.4 1208.2,895.1 1211.0,895.9 1213.9,896.9 1216.8,898.0 1219.7,899.4 1222.6,900.9 1225.5,902.6 1228.4,904.4 1231.3,906.4 1234.2,908.5 1237.1,910.6 1240.0,912.9 1242.9,915.3 1245.8,917.7 1248.7,920.2 1251.6,922.8 1254.5,925.4 1257.4,928.0 1260.3,930.7 1263.2,933.3 1266.1,936.0 1269.0,938.6 1271.9,941.3 1274.8,943.9 1277.7,946.6 1280.6,949.3 1283.4,952.1 1286.3,954.8 1289.2,957.6 1292.1,960.4 1295.0,963.2 1297.9,965.9 1300.8,968.5 1303.7,971.0 1306.6,973.4 1309.5,975.7 1312.4,977.8 1315.3,979.8 1318.2,981.7 1321.1,983.5 1324.0,985.1 1326.9,986.7 1329.8,988.2 1332.7,989.6 1335.6,991.0 1338.5,992.2 1341.4,993.4 1344.3,994.5 1347.2,995.5 1350.1,996.5 1353.0,997.4 1355.8,998.2 1358.7,999.1 1361.6,999.8 1364.5,1000.5 1367.4,1001.2 1370.3,1001.9 1373.2,1002.4 1376.1,1003.0 1379.0,1003.5 1381.9,1003.9 1384.8,1004.3 1387.7,1004.7 1390.6,1005.1 1393.5,1005.4 1396.4,1005.7 1399.3,1006.0 1402.2,1006.3 1405.1,1006.5 1408.0,1006.8 1410.9,1007.0 1413.8,1007.2 1416.7,1007.4 1419.6,1007.6 1422.5,1007.7 1425.4,1007.9 1428.2,1008.0 1431.1,1008.2 1434.0,1008.3 1436.9,1008.4 1439.8,1008.5 1442.7,1008.6 1445.6,1008.7 1448.5,1008.8 1451.4,1008.9 1454.3,1009.0 1457.2,1009.0 1460.1,1009.1 1463.0,1009.1 1465.9,1009.2 1468.8,1009.3 1471.7,1009.3 1474.6,1009.3 1477.5,1009.4 1480.4,1009.4 1483.3,1009.4 1486.2,1009.4 1489.1,1009.5 1492.0,1009.5 1494.9,1009.5 1497.8,1009.5 1500.6,1009.5 1503.5,1009.6 1506.4,1009.6 1509.3,1009.6 1512.2,1009.6 1515.1,1009.6 1518.0,1009.6 1520.9,1009.6 1523.8,1009.6 1526.7,1009.6 1529.6,1009.6 1532.5,1009.6 1535.4,1009.6 1538.3,1009.7 1541.2,1009.7 1544.1,1009.7 1547.0,1009.7 1549.9,1009.7 1552.8,1009.7 1555.7,1009.7 1558.6,1009.7 1561.5,1009.7 1564.4,1009.7 1567.3,1009.7 1570.2,1009.7 1573.0,1009.7 1575.9,1009.7 1578.8,1009.7 1581.7,1009.7 1584.6,1009.7 1587.5,1009.8 1590.4,1009.8 1593.3,1009.8 1596.2,1009.8 1599.1,1009.8 1602.0,1009.8 1604.9,1009.8 1607.8,1009.8 1610.7,1009.8 1613.6,1009.8 1616.5,1009.8 1619.4,1009.8 1622.3,1009.8 1625.2,1009.8 1628.1,1009.8 1631.0,1009.8 1633.9,1009.8 1636.8,1009.8 1639.7,1009.9 1642.6,1009.9 1645.4,1009.9 1648.3,1009.9 1651.2,1009.9 1654.1,1009.9 1657.0,1009.9 1659.9,1009.9 1662.8,1009.9 1665.7,1009.9 1668.6,1009.9 1671.5,1009.9 1674.4,1009.9 1677.3,1009.9 1680.2,1009.9 1683.1,1009.9 1686.0,1009.9 1688.9,1009.9 1691.8,1009.9 1694.7,1010.0 1697.6,1010.0 1700.5,1010.0 1703.4,1010.0 1706.3,1010.0 1709.2,1010.0 1712.1,1010.0 1715.0,1010.0 1717.8,1010.0 1720.7,1010.0 1723.6,1010.0 1726.5,1010.0 1729.4,1010.0 1732.3,1010.0 1735.2,1010.0 1738.1,1010.0 1741.0,1010.0 1743.9,1010.0 1746.8,1010.0 1749.7,1010.0 1752.6,1010.0 1755.5,1010.1 1758.4,1010.1 1761.3,1010.1 1764.2,1010.1 1767.1,1010.1 1770.0,1010.1 1772.9,1010.1 1775.8,1010.1 1778.7,1010.1 1781.6,1010.1 1784.5,1010.1 1787.4,1010.1 1790.2,1010.1 1793.1,1010.1 1796.0,1010.1 1798.9,1010.1 1801.8,1010.1 1804.7,1010.1 1807.6,1010.1 1810.5,1010.1 1813.4,1010.1 1816.3,1010.1 1819.2,1010.1 1822.1,1010.2 1825.0,1010.2 1827.9,1010.2 1830.8,1010.2 1833.7,1010.2 1836.6,1010.2 1839.5,1010.2 1842.4,1010.2 1845.3,1010.2 1848.2,1010.2 1851.1,1010.2 1854.0,1010.2 1856.9,1010.2 1859.8,1010.2 1862.6,1010.2 1865.5,1010.2 1868.4,1010.2 1871.3,1010.2 1874.2,1010.2 1877.1,1010.2 1880.0,1010.2 1882.9,1010.2 1885.8,1010.2 1888.7,1010.2 1891.6,1010.2 1894.5,1010.2 1897.4,1010.3 1900.3,1010.3 1903.2,1010.3 1906.1,1010.3 1909.0,1010.3 1911.9,1010.3 1914.8,1010.3 1917.7,1010.3 1920.6,1010.3 1923.5,1010.3 1926.4,1010.3 1929.3,1010.3 1932.2,1010.3 1935.0,1010.3 1937.9,1010.3 1940.8,1010.3 1943.7,1010.3 1946.6,1010.3 1949.5,1010.3 1952.4,1010.3 1955.3,1010.3 1958.2,1010.3 1961.1,1010.3 1964.0,1010.3 1966.9,1010.3 1969.8,1010.3 1972.7,1010.3 1975.6,1010.3 1978.5,1010.4 1981.4,1010.4 1984.3,1010.4 1987.2,1010.4 1990.1,1010.4 1993.0,1010.4 1995.9,1010.4 1998.8,1010.4 2001.7,1010.4 2004.6,1010.4 2007.4,1010.4 2010.3,1010.4 2013.2,1010.4 2016.1,1010.4 2019.0,1010.4 2021.9,1010.4 2024.8,1010.4 2027.7,1010.4 2030.6,1010.4 2033.5,1010.4 2036.4,1010.4 2039.3,1010.4 2042.2,1010.4" fill="none" stroke="#000" stroke-width="3.3" stroke-linejoin="round"/>
<polyline points="304.6,1003.3 307.5,1003.3 310.4,1003.4 313.3,1003.4 316.2,1003.4 319.1,1003.5 322.0,1003.5 324.9,1003.6 327.8,1003.6 330.7,1003.7 333.6,1003.7 336.5,1003.7 339.4,1003.8 342.2,1003.8 345.1,1003.9 348.0,1003.9 350.9,1003.9 353.8,1004.0 356.7,1004.0 359.6,1004.1 362.5,1004.1 365.4,1004.1 368.3,1004.2 371.2,1004.2 374.1,1004.2 377.0,1004.3 379.9,1004.3 382.8,1004.4 385.7,1004.4 388.6,1004.4 391.5,1004.5 394.4,1004.5 397.3,1004.5 400.2,1004.6 403.1,1004.6 406.0,1004.7 408.9,1004.7 411.8,1004.7 414.6,1004.8 417.5,1004.8 420.4,1004.8 423.3,1004.9 426.2,1004.9 429.1,1004.9 432.0,1005.0 434.9,1005.0 437.8,1005.0 440.7,1005.1 443.6,1005.1 446.5,1005.1 449.4,1005.2 452.3,1005.2 455.2,1005.2 458.1,1005.3 461.0,1005.3 463.9,1005.3 466.8,1005.3 469.7,1005.4 472.6,1005.4 475.5,1005.4 478.4,1005.5 481.3,1005.5 484.2,1005.5 487.0,1005.6 489.9,1005.6 492.8,1005.6 495.7,1005.6 498.6,1005.7 501.5,1005.7 504.4,1005.7 507.3,1005.7 510.2,1005.8 513.1,1005.8 516.0,1005.8 518.9,1005.8 521.8,1005.9 524.7,1005.9 527.6,1005.9 530.5,1005.9 533.4,1006.0 536.3,1006.0 539.2,1006.0 542.1,1006.0 545.0,1006.0 547.9,1006.1 550.8,1006.1 553.7,1006.1 556.6,1006.1 559.4,1006.1 562.3,1006.2 565.2,1006.2 568.1,1006.2 571.0,1006.2 573.9,1006.2 576.8,1006.2 579.7,1006.3 582.6,1006.3 585.5,1006.3 588.4,1006.3 591.3,1006.3 594.2,1006.3 597.1,1006.3 600.0,1006.4 602.9,1006.4 605.8,1006.4 608.7,1006.4 611.6,1006.4 614.5,1006.4 617.4,1006.3 620.3,1006.3 623.2,1006.3 626.1,1006.3 629.0,1006.3 631.8,1006.3 634.7,1006.3 637.6,1006.2 640.5,1006.2 643.4,1006.2 646.3,1006.2 649.2,1006.1 652.1,1006.1 655.0,1006.1 657.9,1006.0 660.8,1006.0 663.7,1006.0 666.6,1005.9 669.5,1005.9 672.4,1005.9 675.3,1005.8 678.2,1005.8 681.1,1005.8 684.0,1005.7 686.9,1005.7 689.8,1005.6 692.7,1005.6 695.6,1005.5 698.5,1005.5 701.4,1005.4 704.2,1005.3 707.1,1005.3 710.0,1005.2 712.9,1005.1 715.8,1005.1 718.7,1005.0 721.6,1005.0 724.5,1004.9 727.4,1004.8 730.3,1004.8 733.2,1004.7 736.1,1004.7 739.0,1004.6 741.9,1004.6 744.8,1004.5 747.7,1004.5 750.6,1004.4 753.5,1004.3 756.4,1004.3 759.3,1004.2 762.2,1004.2 765.1,1004.1 768.0,1004.0 770.9,1004.0 773.8,1003.9 776.6,1003.8 779.5,1003.7 782.4,1003.7 785.3,1003.6 788.2,1003.5 791.1,1003.4 794.0,1003.3 796.9,1003.2 799.8,1003.1 802.7,1003.0 805.6,1002.9 808.5,1002.8 811.4,1002.7 814.3,1002.6 817.2,1002.4 820.1,1002.3 823.0,1002.2 825.9,1002.0 828.8,1001.9 831.7,1001.7 834.6,1001.5 837.5,1001.4 840.4,1001.2 843.3,1001.0 846.2,1000.8 849.0,1000.6 851.9,1000.4 854.8,1000.1 857.7,999.9 860.6,999.6 863.5,999.4 866.4,999.1 869.3,998.8 872.2,998.5 875.1,998.2 878.0,997.8 880.9,997.5 883.8,997.2 886.7,996.8 889.6,996.4 892.5,996.0 895.4,995.6 898.3,995.2 901.2,994.7 904.1,994.3 907.0,993.9 909.9,993.4 912.8,993.0 915.7,992.6 918.6,992.1 921.4,991.7 924.3,991.2 927.2,990.8 930.1,990.3 933.0,989.9 935.9,989.5 938.8,989.0 941.7,988.6 944.6,988.2 947.5,987.8 950.4,987.4 953.3,987.0 956.2,986.6 959.1,986.3 962.0,985.9 964.9,985.6 967.8,985.2 970.7,984.9 973.6,984.7 976.5,984.4 979.4,984.2 982.3,984.0 985.2,983.8 988.1,983.7 991.0,983.5 993.8,983.4 996.7,983.3 999.6,983.1 1002.5,983.0 1005.4,982.9 1008.3,982.7 1011.2,982.6 1014.1,982.4 1017.0,982.3 1019.9,982.1 1022.8,981.9 1025.7,981.7 1028.6,981.5 1031.5,981.3 1034.4,981.1 1037.3,980.8 1040.2,980.5 1043.1,980.2 1046.0,979.9 1048.9,979.5 1051.8,979.1 1054.7,978.6 1057.6,978.2 1060.5,977.7 1063.4,977.1 1066.2,976.5 1069.1,975.8 1072.0,975.1 1074.9,974.4 1077.8,973.6 1080.7,972.7 1083.6,971.8 1086.5,970.9 1089.4,969.9 1092.3,968.9 1095.2,967.8 1098.1,966.7 1101.0,965.6 1103.9,964.4 1106.8,963.2 1109.7,962.0 1112.6,960.8 1115.5,959.6 1118.4,958.4 1121.3,957.2 1124.2,956.0 1127.1,954.9 1130.0,953.7 1132.9,952.5 1135.8,951.3 1138.6,950.2 1141.5,949.1 1144.4,948.0 1147.3,947.0 1150.2,946.0 1153.1,945.0 1156.0,944.1 1158.9,943.3 1161.8,942.5 1164.7,941.8 1167.6,941.1 1170.5,940.5 1173.4,940.0 1176.3,939.5 1179.2,939.1 1182.1,938.6 1185.0,938.3 1187.9,938.0 1190.8,937.8 1193.7,937.6 1196.6,937.6 1199.5,937.7 1202.4,937.9 1205.3,938.2 1208.2,938.6 1211.0,939.1 1213.9,939.7 1216.8,940.4 1219.7,941.3 1222.6,942.2 1225.5,943.3 1228.4,944.4 1231.3,945.7 1234.2,947.0 1237.1,948.3 1240.0,949.8 1242.9,951.2 1245.8,952.8 1248.7,954.4 1251.6,956.0 1254.5,957.6 1257.4,959.2 1260.3,960.9 1263.2,962.5 1266.1,964.2 1269.0,965.9 1271.9,967.5 1274.8,969.2 1277.7,970.9 1280.6,972.6 1283.4,974.3 1286.3,976.0 1289.2,977.8 1292.1,979.5 1295.0,981.2 1297.9,982.9 1300.8,984.6 1303.7,986.1 1306.6,987.6 1309.5,989.1 1312.4,990.4 1315.3,991.6 1318.2,992.8 1321.1,993.9 1324.0,995.0 1326.9,996.0 1329.8,996.9 1332.7,997.8 1335.6,998.6 1338.5,999.4 1341.4,1000.1 1344.3,1000.8 1347.2,1001.5 1350.1,1002.1 1353.0,1002.6 1355.8,1003.2 1358.7,1003.7 1361.6,1004.2 1364.5,1004.6 1367.4,1005.1 1370.3,1005.5 1373.2,1005.8 1376.1,1006.2 1379.0,1006.5 1381.9,1006.7 1384.8,1007.0 1387.7,1007.3 1390.6,1007.5 1393.5,1007.7 1396.4,1007.9 1399.3,1008.1 1402.2,1008.2 1405.1,1008.4 1408.0,1008.6 1410.9,1008.7 1413.8,1008.8 1416.7,1008.9 1419.6,1009.1 1422.5,1009.2 1425.4,1009.3 1428.2,1009.3 1431.1,1009.4 1434.0,1009.5 1436.9,1009.6 1439.8,1009.7 1442.7,1009.7 1445.6,1009.8 1448.5,1009.8 1451.4,1009.9 1454.3,1009.9 1457.2,1010.0 1460.1,1010.0 1463.0,1010.1 1465.9,1010.1 1468.8,1010.1 1471.7,1010.2 1474.6,1010.2 1477.5,1010.2 1480.4,1010.2 1483.3,1010.2 1486.2,1010.3 1489.1,1010.3 1492.0,1010.3 1494.9,1010.3 1497.8,1010.3 1500.6,1010.3 1503.5,1010.3 1506.4,1010.3 1509.3,1010.4 1512.2,1010.4 1515.1,1010.4 1518.0,1010.4 1520.9,1010.4 1523.8,1010.4 1526.7,1010.4 1529.6,1010.4 1532.5,1010.4 1535.4,1010.4 1538.3,1010.4 1541.2,1010.4 1544.1,1010.4 1547.0,1010.4 1549.9,1010.4 1552.8,1010.4 1555.7,1010.4 1558.6,1010.5 1561.5,1010.5 1564.4,1010.5 1567.3,1010.5 1570.2,1010.5 1573.0,1010.5 1575.9,1010.5 1578.8,1010.5 1581.7,1010.5 1584.6,1010.5 1587.5,1010.5 1590.4,1010.5 1593.3,1010.5 1596.2,1010.5 1599.1,1010.5 1602.0,1010.5 1604.9,1010.5 1607.8,1010.5 1610.7,1010.5 1613.6,1010.5 1616.5,1010.6 1619.4,1010.6 1622.3,1010.6 1625.2,1010.6 1628.1,1010.6 1631.0,1010.6 1633.9,1010.6 1636.8,1010.6 1639.7,1010.6 1642.6,1010.6 1645.4,1010.6 1648.3,1010.6 1651.2,1010.6 1654.1,1010.6 1657.0,1010.6 1659.9,1010.6 1662.8,1010.6 1665.7,1010.6 1668.6,1010.6 1671.5,1010.6 1674.4,1010.6 1677.3,1010.6 1680.2,1010.6 1683.1,1010.7 1686.0,1010.7 1688.9,1010.7 1691.8,1010.7 1694.7,1010.7 1697.6,1010.7 1700.5,1010.7 1703.4,1010.7 1706.3,1010.7 1709.2,1010.7 1712.1,1010.7 1715.0,1010.7 1717.8,1010.7 1720.7,1010.7 1723.6,1010.7 1726.5,1010.7 1729.4,1010.7 1732.3,1010.7 1735.2,1010.7 1738.1,1010.7 1741.0,1010.7 1743.9,1010.7 1746.8,1010.7 1749.7,1010.7 1752.6,1010.7 1755.5,1010.8 1758.4,1010.8 1761.3,1010.8 1764.2,1010.8 1767.1,1010.8 1770.0,1010.8 1772.9,1010.8 1775.8,1010.8 1778.7,1010.8 1781.6,1010.8 1784.5,1010.8 1787.4,1010.8 1790.2,1010.8 1793.1,1010.8 1796.0,1010.8 1798.9,1010.8 1801.8,1010.8 1804.7,1010.8 1807.6,1010.8 1810.5,1010.8 1813.4,1010.8 1816.3,1010.8 1819.2,1010.8 1822.1,1010.8 1825.0,1010.8 1827.9,1010.8 1830.8,1010.8 1833.7,1010.9 1836.6,1010.9 1839.5,1010.9 1842.4,1010.9 1845.3,1010.9 1848.2,1010.9 1851.1,1010.9 1854.0,1010.9 1856.9,1010.9 1859.8,1010.9 1862.6,1010.9 1865.5,1010.9 1868.4,1010.9 1871.3,1010.9 1874.2,1010.9 1877.1,1010.9 1880.0,1010.9 1882.9,1010.9 1885.8,1010.9 1888.7,1010.9 1891.6,1010.9 1894.5,1010.9 1897.4,1010.9 1900.3,1010.9 1903.2,1010.9 1906.1,1010.9 1909.0,1010.9 1911.9,1010.9 1914.8,1010.9 1917.7,1010.9 1920.6,1010.9 1923.5,1011.0 1926.4,1011.0 1929.3,1011.0 1932.2,1011.0 1935.0,1011.0 1937.9,1011.0 1940.8,1011.0 1943.7,1011.0 1946.6,1011.0 1949.5,1011.0 1952.4,1011.0 1955.3,1011.0 1958.2,1011.0 1961.1,1011.0 1964.0,1011.0 1966.9,1011.0 1969.8,1011.0 1972.7,1011.0 1975.6,1011.0 1978.5,1011.0 1981.4,1011.0 1984.3,1011.0 1987.2,1011.0 1990.1,1011.0 1993.0,1011.0 1995.9,1011.0 1998.8,1011.0 2001.7,1011.0 2004.6,1011.0 2007.4,1011.0 2010.3,1011.0 2013.2,1011.0 2016.1,1011.0 2019.0,1011.0 2021.9,1011.1 2024.8,1011.1 2027.7,1011.1 2030.6,1011.1 2033.5,1011.1 2036.4,1011.1 2039.3,1011.1 2042.2,1011.1" fill="none" stroke="#000" stroke-width="3.3" stroke-linejoin="round"/>
<text transform="matrix(1.04848,0,0,1.11029,355.95,194.81)" class="fs">A</text>
<line x1="1338.4" y1="255" x2="1338.4" y2="380" stroke="#000" stroke-width="9" stroke-linecap="round"/>
<polygon points="1338.4,219 1326,265 1351,265" fill="#000"/>
<text transform="matrix(0.61556,0,0,0.51571,1381.95,392.80)" class="gr">λ</text>
<text transform="matrix(0.58854,0,0,0.60182,1408.88,410.30)" class="fs">max</text>
<text transform="matrix(0.58337,0,0,0.55857,1541.67,392.24)" class="fs">= 554 nm</text>
<text transform="matrix(0.80000,0,0,0.72000,1078.50,1186.90)" class="gr">λ</text>
<text transform="matrix(0.87143,0,0,0.69333,1118.60,1186.90)" class="fs">,</text>
<text transform="matrix(0.81752,0,0,0.80370,1164.28,1186.90)" class="fs">nm</text>
<text transform="matrix(0,-0.82137,0.78378,0,143.12,799.26)" class="fs">Absorbance</text>
<rect x="301.0" y="1341.2" width="1753.9" height="3.8" fill="#1d1d1d"/>
<rect x="311.9" y="1345.0" width="1743.0" height="3.9" fill="#000"/>
<rect x="311.9" y="2368.1" width="1743.0" height="3.6" fill="#000"/>
<rect x="311.9" y="2371.7" width="1743.0" height="3.2" fill="#4a4a4a"/>
<rect x="311.9" y="1341.2" width="3.5" height="1033.7" fill="#000"/>
<rect x="2050.4" y="1341.2" width="4.5" height="1033.7" fill="#000"/>
<line x1="290" y1="2326.0" x2="314.2" y2="2326.0" stroke="#000" stroke-width="3.2"/>
<text transform="matrix(0.66943,0,0,0.66056,237.86,2345.14)" class="fs">0</text>
<line x1="301" y1="2236.8" x2="314.2" y2="2236.8" stroke="#000" stroke-width="3.6"/>
<line x1="290" y1="2147.5" x2="314.2" y2="2147.5" stroke="#000" stroke-width="3.2"/>
<text transform="matrix(0.66943,0,0,0.66056,200.37,2166.66)" class="fs">20</text>
<line x1="301" y1="2058.3" x2="314.2" y2="2058.3" stroke="#000" stroke-width="3.6"/>
<line x1="290" y1="1969.0" x2="314.2" y2="1969.0" stroke="#000" stroke-width="3.2"/>
<text transform="matrix(0.66943,0,0,0.66056,200.37,1988.18)" class="fs">40</text>
<line x1="301" y1="1879.8" x2="314.2" y2="1879.8" stroke="#000" stroke-width="3.6"/>
<line x1="290" y1="1790.6" x2="314.2" y2="1790.6" stroke="#000" stroke-width="3.2"/>
<text transform="matrix(0.66943,0,0,0.66056,200.37,1809.70)" class="fs">60</text>
<line x1="301" y1="1701.3" x2="314.2" y2="1701.3" stroke="#000" stroke-width="3.6"/>
<line x1="290" y1="1612.1" x2="314.2" y2="1612.1" stroke="#000" stroke-width="3.2"/>
<text transform="matrix(0.66943,0,0,0.66056,200.37,1631.22)" class="fs">80</text>
<line x1="301" y1="1522.8" x2="314.2" y2="1522.8" stroke="#000" stroke-width="3.6"/>
<line x1="290" y1="1433.6" x2="314.2" y2="1433.6" stroke="#000" stroke-width="3.2"/>
<text transform="matrix(0.66943,0,0,0.66056,162.88,1452.74)" class="fs">100</text>
<line x1="301" y1="1344.4" x2="314.2" y2="1344.4" stroke="#000" stroke-width="3.6"/>
<line x1="389.7" y1="2370.6" x2="389.7" y2="2396.5" stroke="#000" stroke-width="3.8"/>
<text transform="matrix(0.67872,0,0,0.71127,371.09,2461.29)" class="fs">0</text>
<line x1="540.7" y1="2370.6" x2="540.7" y2="2385" stroke="#000" stroke-width="3.8"/>
<line x1="691.8" y1="2370.6" x2="691.8" y2="2396.5" stroke="#000" stroke-width="3.8"/>
<text transform="matrix(0.74082,0,0,0.72143,670.98,2462.00)" class="fs">2</text>
<line x1="842.8" y1="2370.6" x2="842.8" y2="2385" stroke="#000" stroke-width="3.8"/>
<line x1="993.8" y1="2370.6" x2="993.8" y2="2396.5" stroke="#000" stroke-width="3.8"/>
<text transform="matrix(0.70755,0,0,0.73188,973.38,2462.00)" class="fs">4</text>
<line x1="1144.8" y1="2370.6" x2="1144.8" y2="2385" stroke="#000" stroke-width="3.8"/>
<line x1="1295.9" y1="2370.6" x2="1295.9" y2="2396.5" stroke="#000" stroke-width="3.8"/>
<text transform="matrix(0.68750,0,0,0.71127,1277.05,2461.29)" class="fs">6</text>
<line x1="1446.9" y1="2370.6" x2="1446.9" y2="2385" stroke="#000" stroke-width="3.8"/>
<line x1="1597.9" y1="2370.6" x2="1597.9" y2="2396.5" stroke="#000" stroke-width="3.8"/>
<text transform="matrix(0.66200,0,0,0.71127,1579.41,2461.29)" class="fs">8</text>
<line x1="1749.0" y1="2370.6" x2="1749.0" y2="2385" stroke="#000" stroke-width="3.8"/>
<line x1="1900.0" y1="2370.6" x2="1900.0" y2="2396.5" stroke="#000" stroke-width="3.8"/>
<text transform="matrix(0.64950,0,0,0.71127,1864.90,2461.29)" class="fs">10</text>
<line x1="2051.0" y1="2370.6" x2="2051.0" y2="2385" stroke="#000" stroke-width="3.8"/>
<text transform="matrix(1.07213,0,0,1.09420,355.40,1482.10)" class="fs">B</text>
<text transform="matrix(0.94515,0,0,0.92021,912.25,2583.28)" class="fs">Time (hours)</text>
<text transform="matrix(0,-0.93948,0.92979,0,109.67,2456.98)" class="fs">Rhodamine B release (%)</text>
<polyline points="389.7,2326.0 414.9,2268.9 440.0,2232.3 465.2,2199.3 503.0,2157.3 540.7,2132.3 616.2,2098.4 767.3,2045.8 918.3,1986.9 1220.4,1904.8 1446.9,1877.1 1673.5,1860.2 1975.5,1817.3" fill="none" stroke="#000" stroke-width="4.0" stroke-linejoin="round"/>
<path d="M414.9,2255.5 L414.9,2282.3 M404.4,2255.5 L425.4,2255.5 M404.4,2282.3 L425.4,2282.3" stroke="#000" stroke-width="3.5" fill="none"/>
<path d="M440.0,2218.9 L440.0,2245.7 M429.5,2218.9 L450.5,2218.9 M429.5,2245.7 L450.5,2245.7" stroke="#000" stroke-width="3.5" fill="none"/>
<path d="M465.2,2181.4 L465.2,2217.1 M454.7,2181.4 L475.7,2181.4 M454.7,2217.1 L475.7,2217.1" stroke="#000" stroke-width="3.5" fill="none"/>
<path d="M503.0,2139.5 L503.0,2175.2 M492.5,2139.5 L513.5,2139.5 M492.5,2175.2 L513.5,2175.2" stroke="#000" stroke-width="3.5" fill="none"/>
<path d="M540.7,2114.5 L540.7,2150.2 M530.2,2114.5 L551.2,2114.5 M530.2,2150.2 L551.2,2150.2" stroke="#000" stroke-width="3.5" fill="none"/>
<path d="M616.2,2076.1 L616.2,2120.7 M605.7,2076.1 L626.7,2076.1 M605.7,2120.7 L626.7,2120.7" stroke="#000" stroke-width="3.5" fill="none"/>
<path d="M767.3,2023.5 L767.3,2068.1 M756.8,2023.5 L777.8,2023.5 M756.8,2068.1 L777.8,2068.1" stroke="#000" stroke-width="3.5" fill="none"/>
<path d="M918.3,1962.8 L918.3,2011.0 M907.8,1962.8 L928.8,1962.8 M907.8,2011.0 L928.8,2011.0" stroke="#000" stroke-width="3.5" fill="none"/>
<path d="M1220.4,1874.4 L1220.4,1935.1 M1209.9,1874.4 L1230.9,1874.4 M1209.9,1935.1 L1230.9,1935.1" stroke="#000" stroke-width="3.5" fill="none"/>
<path d="M1446.9,1846.8 L1446.9,1907.5 M1436.4,1846.8 L1457.4,1846.8 M1436.4,1907.5 L1457.4,1907.5" stroke="#000" stroke-width="3.5" fill="none"/>
<path d="M1673.5,1828.0 L1673.5,1892.3 M1663.0,1828.0 L1684.0,1828.0 M1663.0,1892.3 L1684.0,1892.3" stroke="#000" stroke-width="3.5" fill="none"/>
<path d="M1975.5,1782.5 L1975.5,1852.1 M1965.0,1782.5 L1986.0,1782.5 M1965.0,1852.1 L1986.0,1852.1" stroke="#000" stroke-width="3.5" fill="none"/>
<rect x="376.4" y="2312.8" width="26.5" height="26.5" fill="#fff" stroke="#000" stroke-width="6.5"/><path d="M379.7,2316.0 L399.7,2336.0 M399.7,2316.0 L379.7,2336.0" stroke="#000" stroke-width="4.5"/>
<rect x="401.7" y="2255.6" width="26.5" height="26.5" fill="#fff" stroke="#000" stroke-width="6.5"/><path d="M404.9,2258.9 L424.9,2278.9 M424.9,2258.9 L404.9,2278.9" stroke="#000" stroke-width="4.5"/>
<rect x="426.7" y="2219.0" width="26.5" height="26.5" fill="#fff" stroke="#000" stroke-width="6.5"/><path d="M430.0,2222.3 L450.0,2242.3 M450.0,2222.3 L430.0,2242.3" stroke="#000" stroke-width="4.5"/>
<rect x="452.0" y="2186.0" width="26.5" height="26.5" fill="#fff" stroke="#000" stroke-width="6.5"/><path d="M455.2,2189.3 L475.2,2209.3 M475.2,2189.3 L455.2,2209.3" stroke="#000" stroke-width="4.5"/>
<rect x="489.7" y="2144.1" width="26.5" height="26.5" fill="#fff" stroke="#000" stroke-width="6.5"/><path d="M493.0,2147.3 L513.0,2167.3 M513.0,2147.3 L493.0,2167.3" stroke="#000" stroke-width="4.5"/>
<rect x="527.5" y="2119.1" width="26.5" height="26.5" fill="#fff" stroke="#000" stroke-width="6.5"/><path d="M530.7,2122.3 L550.7,2142.3 M550.7,2122.3 L530.7,2142.3" stroke="#000" stroke-width="4.5"/>
<rect x="603.0" y="2085.2" width="26.5" height="26.5" fill="#fff" stroke="#000" stroke-width="6.5"/><path d="M606.2,2088.4 L626.2,2108.4 M626.2,2088.4 L606.2,2108.4" stroke="#000" stroke-width="4.5"/>
<rect x="754.0" y="2032.5" width="26.5" height="26.5" fill="#fff" stroke="#000" stroke-width="6.5"/><path d="M757.3,2035.8 L777.3,2055.8 M777.3,2035.8 L757.3,2055.8" stroke="#000" stroke-width="4.5"/>
<rect x="905.1" y="1973.6" width="26.5" height="26.5" fill="#fff" stroke="#000" stroke-width="6.5"/><path d="M908.3,1976.9 L928.3,1996.9 M928.3,1976.9 L908.3,1996.9" stroke="#000" stroke-width="4.5"/>
<rect x="1207.1" y="1891.5" width="26.5" height="26.5" fill="#fff" stroke="#000" stroke-width="6.5"/><path d="M1210.4,1894.8 L1230.4,1914.8 M1230.4,1894.8 L1210.4,1914.8" stroke="#000" stroke-width="4.5"/>
<rect x="1433.7" y="1863.9" width="26.5" height="26.5" fill="#fff" stroke="#000" stroke-width="6.5"/><path d="M1436.9,1867.1 L1456.9,1887.1 M1456.9,1867.1 L1436.9,1887.1" stroke="#000" stroke-width="4.5"/>
<rect x="1660.2" y="1846.9" width="26.5" height="26.5" fill="#fff" stroke="#000" stroke-width="6.5"/><path d="M1663.5,1850.2 L1683.5,1870.2 M1683.5,1850.2 L1663.5,1870.2" stroke="#000" stroke-width="4.5"/>
<rect x="1962.3" y="1804.1" width="26.5" height="26.5" fill="#fff" stroke="#000" stroke-width="6.5"/><path d="M1965.5,1807.3 L1985.5,1827.3 M1985.5,1807.3 L1965.5,1827.3" stroke="#000" stroke-width="4.5"/>
<polyline points="389.7,2326.0 414.9,2254.6 440.0,2227.8 465.2,2196.6 503.0,2154.7 540.7,2131.5 616.2,2098.4 767.3,2027.9 918.3,1944.1 1220.4,1821.8 1446.9,1754.9 1673.5,1718.3 1975.5,1638.0" fill="none" stroke="#000" stroke-width="4.0" stroke-linejoin="round"/>
<path d="M414.9,2241.2 L414.9,2268.0 M404.4,2241.2 L425.4,2241.2 M404.4,2268.0 L425.4,2268.0" stroke="#000" stroke-width="3.5" fill="none"/>
<path d="M440.0,2214.4 L440.0,2241.2 M429.5,2214.4 L450.5,2214.4 M429.5,2241.2 L450.5,2241.2" stroke="#000" stroke-width="3.5" fill="none"/>
<path d="M465.2,2178.8 L465.2,2214.4 M454.7,2178.8 L475.7,2178.8 M454.7,2214.4 L475.7,2214.4" stroke="#000" stroke-width="3.5" fill="none"/>
<path d="M503.0,2136.8 L503.0,2172.5 M492.5,2136.8 L513.5,2136.8 M492.5,2172.5 L513.5,2172.5" stroke="#000" stroke-width="3.5" fill="none"/>
<path d="M540.7,2113.6 L540.7,2149.3 M530.2,2113.6 L551.2,2113.6 M530.2,2149.3 L551.2,2149.3" stroke="#000" stroke-width="3.5" fill="none"/>
<path d="M616.2,2076.1 L616.2,2120.7 M605.7,2076.1 L626.7,2076.1 M605.7,2120.7 L626.7,2120.7" stroke="#000" stroke-width="3.5" fill="none"/>
<path d="M767.3,2001.2 L767.3,2054.7 M756.8,2001.2 L777.8,2001.2 M756.8,2054.7 L777.8,2054.7" stroke="#000" stroke-width="3.5" fill="none"/>
<path d="M918.3,1912.8 L918.3,1975.3 M907.8,1912.8 L928.8,1912.8 M907.8,1975.3 L928.8,1975.3" stroke="#000" stroke-width="3.5" fill="none"/>
<path d="M1220.4,1781.6 L1220.4,1862.0 M1209.9,1781.6 L1230.9,1781.6 M1209.9,1862.0 L1230.9,1862.0" stroke="#000" stroke-width="3.5" fill="none"/>
<path d="M1446.9,1715.6 L1446.9,1794.1 M1436.4,1715.6 L1457.4,1715.6 M1436.4,1794.1 L1457.4,1794.1" stroke="#000" stroke-width="3.5" fill="none"/>
<path d="M1673.5,1679.9 L1673.5,1756.6 M1663.0,1679.9 L1684.0,1679.9 M1663.0,1756.6 L1684.0,1756.6" stroke="#000" stroke-width="3.5" fill="none"/>
<path d="M1975.5,1588.0 L1975.5,1687.9 M1965.0,1588.0 L1986.0,1588.0 M1965.0,1687.9 L1986.0,1687.9" stroke="#000" stroke-width="3.5" fill="none"/>
<circle cx="389.7" cy="2326.0" r="17" fill="#000"/>
<circle cx="414.9" cy="2254.6" r="17" fill="#000"/>
<circle cx="440.0" cy="2227.8" r="17" fill="#000"/>
<circle cx="465.2" cy="2196.6" r="17" fill="#000"/>
<circle cx="503.0" cy="2154.7" r="17" fill="#000"/>
<circle cx="540.7" cy="2131.5" r="17" fill="#000"/>
<circle cx="616.2" cy="2098.4" r="17" fill="#000"/>
<circle cx="767.3" cy="2027.9" r="17" fill="#000"/>
<circle cx="918.3" cy="1944.1" r="17" fill="#000"/>
<circle cx="1220.4" cy="1821.8" r="17" fill="#000"/>
<circle cx="1446.9" cy="1754.9" r="17" fill="#000"/>
<circle cx="1673.5" cy="1718.3" r="17" fill="#000"/>
<circle cx="1975.5" cy="1638.0" r="17" fill="#000"/>
<polyline points="389.7,2326.0 414.9,2202.0 440.0,2169.8 465.2,2126.1 503.0,2088.6 540.7,2065.4 616.2,2020.8 767.3,1933.3 918.3,1882.5 1220.4,1797.7 1446.9,1782.5 1673.5,1778.1 1975.5,1768.2" fill="none" stroke="#000" stroke-width="4.0" stroke-linejoin="round"/>
<path d="M414.9,2188.6 L414.9,2215.3 M404.4,2188.6 L425.4,2188.6 M404.4,2215.3 L425.4,2215.3" stroke="#000" stroke-width="3.5" fill="none"/>
<path d="M440.0,2156.4 L440.0,2183.2 M429.5,2156.4 L450.5,2156.4 M429.5,2183.2 L450.5,2183.2" stroke="#000" stroke-width="3.5" fill="none"/>
<path d="M465.2,2108.3 L465.2,2144.0 M454.7,2108.3 L475.7,2108.3 M454.7,2144.0 L475.7,2144.0" stroke="#000" stroke-width="3.5" fill="none"/>
<path d="M503.0,2066.3 L503.0,2110.9 M492.5,2066.3 L513.5,2066.3 M492.5,2110.9 L513.5,2110.9" stroke="#000" stroke-width="3.5" fill="none"/>
<path d="M540.7,2043.1 L540.7,2087.7 M530.2,2043.1 L551.2,2043.1 M530.2,2087.7 L551.2,2087.7" stroke="#000" stroke-width="3.5" fill="none"/>
<path d="M616.2,1989.6 L616.2,2052.0 M605.7,1989.6 L626.7,1989.6 M605.7,2052.0 L626.7,2052.0" stroke="#000" stroke-width="3.5" fill="none"/>
<path d="M767.3,1904.8 L767.3,1961.9 M756.8,1904.8 L777.8,1904.8 M756.8,1961.9 L777.8,1961.9" stroke="#000" stroke-width="3.5" fill="none"/>
<path d="M918.3,1840.5 L918.3,1924.4 M907.8,1840.5 L928.8,1840.5 M907.8,1924.4 L928.8,1924.4" stroke="#000" stroke-width="3.5" fill="none"/>
<path d="M1220.4,1752.2 L1220.4,1843.2 M1209.9,1752.2 L1230.9,1752.2 M1209.9,1843.2 L1230.9,1843.2" stroke="#000" stroke-width="3.5" fill="none"/>
<path d="M1446.9,1751.3 L1446.9,1813.8 M1436.4,1751.3 L1457.4,1751.3 M1436.4,1813.8 L1457.4,1813.8" stroke="#000" stroke-width="3.5" fill="none"/>
<path d="M1673.5,1751.3 L1673.5,1804.8 M1663.0,1751.3 L1684.0,1751.3 M1663.0,1804.8 L1684.0,1804.8" stroke="#000" stroke-width="3.5" fill="none"/>
<path d="M1975.5,1740.6 L1975.5,1795.9 M1965.0,1740.6 L1986.0,1740.6 M1965.0,1795.9 L1986.0,1795.9" stroke="#000" stroke-width="3.5" fill="none"/>
<polygon points="389.7,2301.8 367.7,2340.8 411.7,2340.8" fill="#000"/>
<polygon points="414.9,2177.8 392.9,2216.8 436.9,2216.8" fill="#000"/>
<polygon points="440.0,2145.7 418.0,2184.7 462.0,2184.7" fill="#000"/>
<polygon points="465.2,2101.9 443.2,2140.9 487.2,2140.9" fill="#000"/>
<polygon points="503.0,2064.4 481.0,2103.4 525.0,2103.4" fill="#000"/>
<polygon points="540.7,2041.2 518.7,2080.2 562.7,2080.2" fill="#000"/>
<polygon points="616.2,1996.6 594.2,2035.6 638.2,2035.6" fill="#000"/>
<polygon points="767.3,1909.2 745.3,1948.2 789.3,1948.2" fill="#000"/>
<polygon points="918.3,1858.3 896.3,1897.3 940.3,1897.3" fill="#000"/>
<polygon points="1220.4,1773.5 1198.4,1812.5 1242.4,1812.5" fill="#000"/>
<polygon points="1446.9,1758.3 1424.9,1797.3 1468.9,1797.3" fill="#000"/>
<polygon points="1673.5,1753.9 1651.5,1792.9 1695.5,1792.9" fill="#000"/>
<polygon points="1975.5,1744.1 1953.5,1783.1 1997.5,1783.1" fill="#000"/>
<polyline points="389.7,2326.0 395.7,2225.2 399.8,2167.2 404.7,2120.7 408.1,2069.9 415.2,2022.6 418.8,1993.1 423.2,1946.7 430.2,1897.6 432.7,1872.7 451.6,1777.2 477.1,1677.2 514.3,1603.2 539.5,1571.0 587.2,1508.6 683.5,1458.6 765.5,1455.0" fill="none" stroke="#000" stroke-width="4.5" stroke-linejoin="round"/>
<path d="M477.1,1659.4 L477.1,1695.1 M466.6,1659.4 L487.6,1659.4 M466.6,1695.1 L487.6,1695.1" stroke="#000" stroke-width="3.5" fill="none"/>
<path d="M514.3,1583.5 L514.3,1622.8 M503.8,1583.5 L524.8,1583.5 M503.8,1622.8 L524.8,1622.8" stroke="#000" stroke-width="3.5" fill="none"/>
<path d="M539.5,1548.7 L539.5,1593.3 M529.0,1548.7 L550.0,1548.7 M529.0,1593.3 L550.0,1593.3" stroke="#000" stroke-width="3.5" fill="none"/>
<path d="M587.2,1490.7 L587.2,1526.4 M576.7,1490.7 L597.7,1490.7 M576.7,1526.4 L597.7,1526.4" stroke="#000" stroke-width="3.5" fill="none"/>
<path d="M683.5,1433.6 L683.5,1483.6 M673.0,1433.6 L694.0,1433.6 M673.0,1483.6 L694.0,1483.6" stroke="#000" stroke-width="3.5" fill="none"/>
<path d="M765.5,1430.0 L765.5,1480.0 M755.0,1430.0 L776.0,1430.0 M755.0,1480.0 L776.0,1480.0" stroke="#000" stroke-width="3.5" fill="none"/>
<rect x="373.2" y="2309.5" width="33" height="33" fill="#000"/>
<rect x="379.2" y="2208.7" width="33" height="33" fill="#000"/>
<rect x="383.3" y="2150.7" width="33" height="33" fill="#000"/>
<rect x="388.2" y="2104.2" width="33" height="33" fill="#000"/>
<rect x="391.6" y="2053.4" width="33" height="33" fill="#000"/>
<rect x="398.7" y="2006.1" width="33" height="33" fill="#000"/>
<rect x="402.3" y="1976.6" width="33" height="33" fill="#000"/>
<rect x="406.7" y="1930.2" width="33" height="33" fill="#000"/>
<rect x="413.7" y="1881.1" width="33" height="33" fill="#000"/>
<rect x="416.2" y="1856.2" width="33" height="33" fill="#000"/>
<rect x="435.1" y="1760.7" width="33" height="33" fill="#000"/>
<rect x="460.6" y="1660.7" width="33" height="33" fill="#000"/>
<rect x="497.8" y="1586.7" width="33" height="33" fill="#000"/>
<rect x="523.0" y="1554.5" width="33" height="33" fill="#000"/>
<rect x="570.7" y="1492.1" width="33" height="33" fill="#000"/>
<rect x="667.0" y="1442.1" width="33" height="33" fill="#000"/>
<rect x="749.0" y="1438.5" width="33" height="33" fill="#000"/>
<polyline points="389.7,2326.0 414.9,2290.3 440.0,2269.8 465.2,2235.0 503.0,2199.3 540.7,2166.3 616.2,2120.7 767.3,2004.7 918.3,1924.4 1220.4,1860.2 1446.9,1818.2 1673.5,1749.5 1975.5,1693.3" fill="none" stroke="#000" stroke-width="4.0" stroke-linejoin="round"/>
<path d="M414.9,2281.4 L414.9,2299.2 M404.4,2281.4 L425.4,2281.4 M404.4,2299.2 L425.4,2299.2" stroke="#000" stroke-width="3.5" fill="none"/>
<path d="M440.0,2256.4 L440.0,2283.2 M429.5,2256.4 L450.5,2256.4 M429.5,2283.2 L450.5,2283.2" stroke="#000" stroke-width="3.5" fill="none"/>
<path d="M465.2,2221.6 L465.2,2248.4 M454.7,2221.6 L475.7,2221.6 M454.7,2248.4 L475.7,2248.4" stroke="#000" stroke-width="3.5" fill="none"/>
<path d="M503.0,2181.4 L503.0,2217.1 M492.5,2181.4 L513.5,2181.4 M492.5,2217.1 L513.5,2217.1" stroke="#000" stroke-width="3.5" fill="none"/>
<path d="M540.7,2148.4 L540.7,2184.1 M530.2,2148.4 L551.2,2148.4 M530.2,2184.1 L551.2,2184.1" stroke="#000" stroke-width="3.5" fill="none"/>
<path d="M616.2,2102.9 L616.2,2138.6 M605.7,2102.9 L626.7,2102.9 M605.7,2138.6 L626.7,2138.6" stroke="#000" stroke-width="3.5" fill="none"/>
<path d="M767.3,1982.4 L767.3,2027.0 M756.8,1982.4 L777.8,1982.4 M756.8,2027.0 L777.8,2027.0" stroke="#000" stroke-width="3.5" fill="none"/>
<path d="M918.3,1897.6 L918.3,1951.2 M907.8,1897.6 L928.8,1897.6 M907.8,1951.2 L928.8,1951.2" stroke="#000" stroke-width="3.5" fill="none"/>
<path d="M1220.4,1828.9 L1220.4,1891.4 M1209.9,1828.9 L1230.9,1828.9 M1209.9,1891.4 L1230.9,1891.4" stroke="#000" stroke-width="3.5" fill="none"/>
<path d="M1446.9,1787.0 L1446.9,1849.5 M1436.4,1787.0 L1457.4,1787.0 M1436.4,1849.5 L1457.4,1849.5" stroke="#000" stroke-width="3.5" fill="none"/>
<path d="M1673.5,1718.3 L1673.5,1780.7 M1663.0,1718.3 L1684.0,1718.3 M1663.0,1780.7 L1684.0,1780.7" stroke="#000" stroke-width="3.5" fill="none"/>
<path d="M1975.5,1662.1 L1975.5,1724.5 M1965.0,1662.1 L1986.0,1662.1 M1965.0,1724.5 L1986.0,1724.5" stroke="#000" stroke-width="3.5" fill="none"/>
<polygon points="389.7,2307.8 373.7,2337.8 405.7,2337.8" fill="#fff" stroke="#000" stroke-width="6" stroke-linejoin="miter"/><rect x="387.7" y="2327.0" width="4" height="4" fill="#000"/>
<polygon points="414.9,2272.1 398.9,2302.1 430.9,2302.1" fill="#fff" stroke="#000" stroke-width="6" stroke-linejoin="miter"/><rect x="412.9" y="2291.3" width="4" height="4" fill="#000"/>
<polygon points="440.0,2251.6 424.0,2281.6 456.0,2281.6" fill="#fff" stroke="#000" stroke-width="6" stroke-linejoin="miter"/><rect x="438.0" y="2270.8" width="4" height="4" fill="#000"/>
<polygon points="465.2,2216.8 449.2,2246.8 481.2,2246.8" fill="#fff" stroke="#000" stroke-width="6" stroke-linejoin="miter"/><rect x="463.2" y="2236.0" width="4" height="4" fill="#000"/>
<polygon points="503.0,2181.1 487.0,2211.1 519.0,2211.1" fill="#fff" stroke="#000" stroke-width="6" stroke-linejoin="miter"/><rect x="501.0" y="2200.3" width="4" height="4" fill="#000"/>
<polygon points="540.7,2148.1 524.7,2178.1 556.7,2178.1" fill="#fff" stroke="#000" stroke-width="6" stroke-linejoin="miter"/><rect x="538.7" y="2167.3" width="4" height="4" fill="#000"/>
<polygon points="616.2,2102.6 600.2,2132.6 632.2,2132.6" fill="#fff" stroke="#000" stroke-width="6" stroke-linejoin="miter"/><rect x="614.2" y="2121.7" width="4" height="4" fill="#000"/>
<polygon points="767.3,1986.6 751.3,2016.6 783.3,2016.6" fill="#fff" stroke="#000" stroke-width="6" stroke-linejoin="miter"/><rect x="765.3" y="2005.7" width="4" height="4" fill="#000"/>
<polygon points="918.3,1906.2 902.3,1936.2 934.3,1936.2" fill="#fff" stroke="#000" stroke-width="6" stroke-linejoin="miter"/><rect x="916.3" y="1925.4" width="4" height="4" fill="#000"/>
<polygon points="1220.4,1842.0 1204.4,1872.0 1236.4,1872.0" fill="#fff" stroke="#000" stroke-width="6" stroke-linejoin="miter"/><rect x="1218.4" y="1861.2" width="4" height="4" fill="#000"/>
<polygon points="1446.9,1800.0 1430.9,1830.0 1462.9,1830.0" fill="#fff" stroke="#000" stroke-width="6" stroke-linejoin="miter"/><rect x="1444.9" y="1819.2" width="4" height="4" fill="#000"/>
<polygon points="1673.5,1731.3 1657.5,1761.3 1689.5,1761.3" fill="#fff" stroke="#000" stroke-width="6" stroke-linejoin="miter"/><rect x="1671.5" y="1750.5" width="4" height="4" fill="#000"/>
<polygon points="1975.5,1675.1 1959.5,1705.1 1991.5,1705.1" fill="#fff" stroke="#000" stroke-width="6" stroke-linejoin="miter"/><rect x="1973.5" y="1694.3" width="4" height="4" fill="#000"/>
<line x1="891" y1="1421" x2="942.5" y2="1421" stroke="#000" stroke-width="6"/>
<line x1="985.5" y1="1421" x2="1034" y2="1421" stroke="#000" stroke-width="6"/>
<rect x="946.0" y="1404.5" width="33" height="33" fill="#000"/>
<text transform="matrix(0.58776,0,0,0.62286,1047.24,1442.80)" class="fs">1</text>
<line x1="891" y1="1498" x2="942.5" y2="1498" stroke="#000" stroke-width="3.8"/>
<line x1="985.5" y1="1498" x2="1034" y2="1498" stroke="#000" stroke-width="3.8"/>
<polygon points="962.5,1473.8 940.5,1512.8 984.5,1512.8" fill="#000"/>
<text transform="matrix(0.58776,0,0,0.62286,1047.24,1518.40)" class="fs">2</text>
<line x1="891" y1="1574" x2="942.5" y2="1574" stroke="#000" stroke-width="3.8"/>
<line x1="985.5" y1="1574" x2="1034" y2="1574" stroke="#000" stroke-width="3.8"/>
<circle cx="962.5" cy="1574.0" r="17" fill="#000"/>
<text transform="matrix(0.58776,0,0,0.62286,1047.24,1594.50)" class="fs">3</text>
<line x1="891" y1="1652" x2="942.5" y2="1652" stroke="#000" stroke-width="6"/>
<line x1="985.5" y1="1652" x2="1034" y2="1652" stroke="#000" stroke-width="6"/>
<rect x="949.2" y="1638.8" width="26.5" height="26.5" fill="#fff" stroke="#000" stroke-width="6.5"/><path d="M952.5,1642.0 L972.5,1662.0 M972.5,1642.0 L952.5,1662.0" stroke="#000" stroke-width="4.5"/>
<text transform="matrix(0.58776,0,0,0.62286,1047.24,1671.00)" class="fs">4</text>
<line x1="891" y1="1728" x2="942.5" y2="1728" stroke="#000" stroke-width="6"/>
<line x1="985.5" y1="1728" x2="1034" y2="1728" stroke="#000" stroke-width="6"/>
<polygon points="962.5,1709.8 946.5,1739.8 978.5,1739.8" fill="#fff" stroke="#000" stroke-width="6" stroke-linejoin="miter"/><rect x="960.5" y="1729.0" width="4" height="4" fill="#000"/>
<text transform="matrix(0.58776,0,0,0.62286,1047.24,1749.40)" class="fs">5</text>
</svg>
</body></html>
